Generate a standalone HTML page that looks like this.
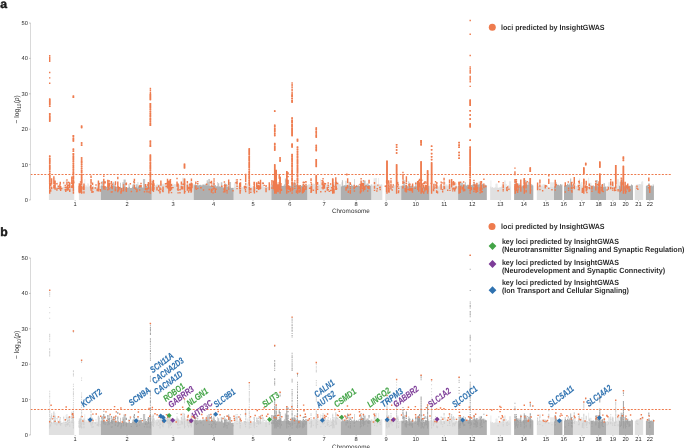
<!DOCTYPE html>
<html><head><meta charset="utf-8"><style>html,body{margin:0;padding:0;background:#fff;width:685px;height:448px;overflow:hidden}svg{display:block;will-change:transform;text-rendering:geometricPrecision;filter:blur(0.3px)}</style></head>
<body>
<svg width="685" height="448" viewBox="0 0 685 448">
<style>.tk{font:5.7px "Liberation Sans",sans-serif;fill:#2a2a2a}.lg{font:bold 7.5px "Liberation Sans",sans-serif;fill:#2c2c2c}.gl{font:italic bold 9px "Liberation Sans",sans-serif;stroke-width:0.12px}.pl{font:bold 12.2px "Liberation Sans",sans-serif;fill:#1a1a1a;stroke:#1a1a1a;stroke-width:0.45px}.ax{font:6.3px "Liberation Sans",sans-serif;fill:#333}</style>
<rect width="685" height="448" fill="#fff"/>
<path fill="#e9e9e9" d="M90.7 200v-21.35h0.7v21.35zM85.17 200v-14.75h1.6v14.75zM54.61 200v-21.96h0.7v21.96zM87.34 200v-16.71h0.7v16.71zM63.56 200v-17.45h0.7v17.45zM81.86 200v-15.76h1.2v15.76zM49.97 200v-18.6h1.2v18.6zM87.65 200v-16.58h1.2v16.58zM73.18 200v-13.95h1.2v13.95zM69.96 200v-14.26h1.6v14.26zM72.82 200v-14.8h0.7v14.8zM92.87 200v-15.13h0.7v15.13zM71.14 200v-17.31h2.2v17.31zM98.77 200v-14.25h0.7v14.25zM84.36 200v-20.72h0.9v20.72zM97.72 200v-18.15h2.2v18.15zM63.37 200v-19.31h0.9v19.31zM57.36 200v-18.37h0.7v18.37zM54.23 200v-15.65h1.2v15.65zM69.02 200v-16.78h0.7v16.78zM67.87 200v-17.95h1.2v17.95zM68.24 200v-18.9h0.9v18.9zM79.2 200v-15.41h2.2v15.41zM65.56 200v-20.16h0.9v20.16zM190.56 200v-19.12h0.9v19.12zM172.72 200v-16.63h0.7v16.63zM177.8 200v-15.65h1.2v15.65zM152.15 200v-20.86h1.6v20.86zM179.34 200v-14.84h2.2v14.84zM182.07 200v-22.28h2.2v22.28zM191.09 200v-14.4h1.6v14.4zM183.52 200v-16.39h0.9v16.39zM160.89 200v-16.75h0.9v16.75zM185.25 200v-15.16h1.6v15.16zM174.13 200v-15.97h0.9v15.97zM183.81 200v-15.54h0.9v15.54zM162.02 200v-16.02h1.6v16.02zM184.7 200v-16.82h1.2v16.82zM164.77 200v-16.74h1.6v16.74zM178.7 200v-15.2h1.2v15.2zM167.43 200v-17.97h0.7v17.97zM183.82 200v-15.39h0.9v15.39zM175.54 200v-14.14h0.7v14.14zM163.64 200v-14.46h2.2v14.46zM161.2 200v-14.51h1.6v14.51zM245.27 200v-18.28h1.2v18.28zM236.82 200v-16.36h0.7v16.36zM248.54 200v-15.19h2.2v15.19zM233.83 200v-15.99h0.9v15.99zM261.79 200v-17.99h0.7v17.99zM256.11 200v-16.91h2.2v16.91zM258.96 200v-16.88h0.7v16.88zM250.45 200v-14.64h0.9v14.64zM234.96 200v-20.96h0.7v20.96zM247.17 200v-16.39h0.9v16.39zM243.09 200v-13.96h1.2v13.96zM234.35 200v-18.1h2.2v18.1zM235.61 200v-17.6h2.2v17.6zM262.07 200v-18.03h1.6v18.03zM250.03 200v-16.54h0.7v16.54zM270.15 200v-15.7h0.9v15.7zM237.36 200v-14.5h1.6v14.5zM234.17 200v-16.89h0.7v16.89zM307.25 200v-14.53h1.2v14.53zM337.21 200v-14.45h0.7v14.45zM336.23 200v-18.29h2.2v18.29zM333.19 200v-18.01h2.2v18.01zM318.51 200v-16.04h0.7v16.04zM319.64 200v-14.07h0.9v14.07zM320.09 200v-20.69h0.9v20.69zM307.51 200v-14.21h1.6v14.21zM333.49 200v-16.47h0.7v16.47zM336.44 200v-16.14h2.2v16.14zM313.78 200v-14.64h0.9v14.64zM330.05 200v-15.46h1.2v15.46zM332.62 200v-18.05h0.9v18.05zM323.28 200v-15.94h0.7v15.94zM309.86 200v-15.39h1.2v15.39zM324.13 200v-14.75h0.7v14.75zM378.19 200v-21.88h0.9v21.88zM397.67 200v-17.64h0.7v17.64zM373.55 200v-21.87h2.2v21.87zM375.34 200v-22.01h1.6v22.01zM371.93 200v-15.37h0.7v15.37zM395.09 200v-15.49h1.6v15.49zM380.89 200v-15.88h0.7v15.88zM397 200v-19.45h1.6v19.45zM375.8 200v-15.17h1.2v15.17zM394.54 200v-15.27h1.2v15.27zM397.4 200v-16.17h0.7v16.17zM453.33 200v-15.69h1.6v15.69zM450.51 200v-19.44h0.9v19.44zM434.47 200v-17.04h1.2v17.04zM445.28 200v-18.1h0.7v18.1zM456.23 200v-17.09h0.7v17.09zM452 200v-17.8h1.2v17.8zM445.32 200v-14.3h0.7v14.3zM449.62 200v-16.25h1.6v16.25zM444.24 200v-14.21h0.7v14.21zM446.51 200v-14.96h0.9v14.96zM452.02 200v-18.07h0.7v18.07zM449.84 200v-16.56h1.2v16.56zM445.33 200v-15.85h2.2v15.85zM439.05 200v-14.01h0.7v14.01zM495.41 200v-16.3h2.2v16.3zM508.32 200v-14.37h2.2v14.37zM490.47 200v-19.53h0.9v19.53zM496.19 200v-16.54h0.9v16.54zM508.94 200v-18.74h2.2v18.74zM501.77 200v-16.16h0.9v16.16zM507.55 200v-15.07h1.6v15.07zM504.62 200v-15.9h2.2v15.9zM503.82 200v-14.73h0.9v14.73zM504.12 200v-19.59h1.6v19.59zM539.07 200v-17.72h0.9v17.72zM550.1 200v-17.75h2.2v17.75zM551.74 200v-16.71h1.6v16.71zM547.04 200v-14.28h0.9v14.28zM543.45 200v-16.1h2.2v16.1zM552.4 200v-17.72h2.2v17.72zM541.32 200v-15.55h2.2v15.55zM544.13 200v-15.43h1.6v15.43zM589.37 200v-17.15h2.2v17.15zM580 200v-16.54h1.6v16.54zM578.69 200v-16.22h0.7v16.22zM574.53 200v-16.79h1.2v16.79zM588.22 200v-22.16h0.9v22.16zM580.93 200v-17.94h1.6v17.94zM582.59 200v-14.23h2.2v14.23zM578.88 200v-21.62h1.2v21.62zM616.11 200v-13.94h2.2v13.94zM608.1 200v-17.81h2.2v17.81zM616.75 200v-20.64h2.2v20.64zM610.93 200v-16.19h0.7v16.19zM612.11 200v-14.59h0.7v14.59zM612.27 200v-17.52h1.6v17.52zM641.18 200v-16.58h1.6v16.58zM641.62 200v-18.67h1.6v18.67zM639.61 200v-15.23h2.2v15.23zM641.01 200v-17.8h1.6v17.8z"/>
<path fill="#e0e0e0" d="M48.9 200v-13.77h1.02v13.77zM49.9 200v-13.24h1.02v13.24zM50.9 200v-12.45h1.02v12.45zM51.9 200v-12.43h1.02v12.43zM52.9 200v-12.42h1.02v12.42zM53.9 200v-12.57h1.02v12.57zM54.9 200v-12.42h1.02v12.42zM55.9 200v-12.9h1.02v12.9zM56.9 200v-13.21h1.02v13.21zM57.9 200v-13.69h1.02v13.69zM58.9 200v-13.13h1.02v13.13zM59.9 200v-12.06h1.02v12.06zM60.9 200v-12.3h1.02v12.3zM61.9 200v-12.38h1.02v12.38zM62.9 200v-13.1h1.02v13.1zM63.9 200v-12.86h1.02v12.86zM64.9 200v-11.94h1.02v11.94zM65.9 200v-12.82h1.02v12.82zM66.9 200v-12.3h1.02v12.3zM67.9 200v-12.57h1.02v12.57zM68.9 200v-12.98h1.02v12.98zM69.9 200v-12.37h1.02v12.37zM70.9 200v-12.83h1.02v12.83zM71.9 200v-13.44h1.02v13.44zM72.9 200v-13.62h1.02v13.62zM78.9 200v-12.5h1.02v12.5zM79.9 200v-12.34h1.02v12.34zM80.9 200v-12.17h1.02v12.17zM81.9 200v-13.34h1.02v13.34zM82.9 200v-13.56h1.02v13.56zM83.9 200v-13.15h1.02v13.15zM84.9 200v-13.06h1.02v13.06zM85.9 200v-13.39h1.02v13.39zM86.9 200v-13.25h1.02v13.25zM87.9 200v-12.81h1.02v12.81zM88.9 200v-13.81h1.02v13.81zM89.9 200v-14.48h1.02v14.48zM90.9 200v-13.67h1.02v13.67zM91.9 200v-13.3h1.02v13.3zM92.9 200v-13.48h1.02v13.48zM93.9 200v-13h1.02v13zM94.9 200v-13.32h1.02v13.32zM95.9 200v-13.48h1.02v13.48zM96.9 200v-13.36h1.02v13.36zM97.9 200v-13.98h1.02v13.98zM98.9 200v-14.69h1.02v14.69zM99.9 200v-14.23h1.02v14.23zM151.6 200v-14.1h1.02v14.1zM152.6 200v-15.4h1.02v15.4zM153.6 200v-15.42h1.02v15.42zM154.6 200v-14.59h1.02v14.59zM155.6 200v-15.05h1.02v15.05zM156.6 200v-16.21h1.02v16.21zM157.6 200v-15.32h1.02v15.32zM158.6 200v-16.07h1.02v16.07zM159.6 200v-14.94h1.02v14.94zM160.6 200v-15.75h1.02v15.75zM161.6 200v-14.94h1.02v14.94zM162.6 200v-16.39h1.02v16.39zM163.6 200v-15.54h1.02v15.54zM164.6 200v-15.23h1.02v15.23zM165.6 200v-16.01h1.02v16.01zM166.6 200v-15.51h1.02v15.51zM167.6 200v-15.66h1.02v15.66zM168.6 200v-16.21h1.02v16.21zM169.6 200v-15.16h1.02v15.16zM170.6 200v-14.96h1.02v14.96zM171.6 200v-15.06h1.02v15.06zM172.6 200v-14.81h1.02v14.81zM173.6 200v-15.48h1.02v15.48zM174.6 200v-15.77h1.02v15.77zM175.6 200v-15.64h1.02v15.64zM176.6 200v-15.76h1.02v15.76zM177.6 200v-15.79h1.02v15.79zM178.6 200v-15.26h1.02v15.26zM179.6 200v-14.37h1.02v14.37zM180.6 200v-14.87h1.02v14.87zM181.6 200v-15.63h1.02v15.63zM182.6 200v-15.11h1.02v15.11zM183.6 200v-15.45h1.02v15.45zM184.6 200v-15.05h1.02v15.05zM185.6 200v-15.31h1.02v15.31zM186.6 200v-15.86h1.02v15.86zM187.6 200v-15.57h1.02v15.57zM188.6 200v-16.28h1.02v16.28zM189.6 200v-15.81h1.02v15.81zM190.6 200v-15.67h1.02v15.67zM191.6 200v-15.69h1.02v15.69zM192.6 200v-15.72h1.02v15.72zM193.6 200v-16.04h0.12v16.04zM233.6 200v-12.84h1.02v12.84zM234.6 200v-13.31h1.02v13.31zM235.6 200v-12.77h1.02v12.77zM236.6 200v-12.35h1.02v12.35zM237.6 200v-12.21h1.02v12.21zM238.6 200v-12.9h1.02v12.9zM239.6 200v-12.17h1.02v12.17zM240.6 200v-13.2h1.02v13.2zM241.6 200v-13.02h1.02v13.02zM242.6 200v-12.56h1.02v12.56zM243.6 200v-12.7h1.02v12.7zM244.6 200v-13.12h1.02v13.12zM245.6 200v-13.04h1.02v13.04zM246.6 200v-13.84h1.02v13.84zM247.6 200v-13.53h1.02v13.53zM248.6 200v-12.9h1.02v12.9zM249.6 200v-12.61h1.02v12.61zM250.6 200v-13.08h1.02v13.08zM251.6 200v-12.55h1.02v12.55zM252.6 200v-13.95h1.02v13.95zM253.6 200v-13.27h1.02v13.27zM254.6 200v-13.06h1.02v13.06zM255.6 200v-12.84h1.02v12.84zM256.6 200v-12.94h1.02v12.94zM257.6 200v-14.34h1.02v14.34zM258.6 200v-13.35h1.02v13.35zM259.6 200v-13.83h1.02v13.83zM260.6 200v-13.27h1.02v13.27zM261.6 200v-13.84h1.02v13.84zM262.6 200v-13.46h1.02v13.46zM263.6 200v-13.19h1.02v13.19zM264.6 200v-13.11h1.02v13.11zM265.6 200v-12.95h1.02v12.95zM266.6 200v-12.92h1.02v12.92zM267.6 200v-13.09h1.02v13.09zM268.6 200v-13.35h1.02v13.35zM269.6 200v-13.43h1.02v13.43zM270.6 200v-13.29h0.82v13.29zM307.2 200v-14.69h1.02v14.69zM308.2 200v-15.8h1.02v15.8zM309.2 200v-15.67h1.02v15.67zM310.2 200v-15.13h1.02v15.13zM311.2 200v-15.34h1.02v15.34zM312.2 200v-15.25h1.02v15.25zM313.2 200v-16.39h1.02v16.39zM314.2 200v-15.89h1.02v15.89zM315.2 200v-16h1.02v16zM316.2 200v-15.24h1.02v15.24zM317.2 200v-15.73h1.02v15.73zM318.2 200v-14.65h1.02v14.65zM319.2 200v-15.27h1.02v15.27zM320.2 200v-14.67h1.02v14.67zM321.2 200v-14.78h1.02v14.78zM322.2 200v-14.62h1.02v14.62zM323.2 200v-16.02h1.02v16.02zM324.2 200v-15.82h1.02v15.82zM325.2 200v-15.97h1.02v15.97zM326.2 200v-15.04h1.02v15.04zM327.2 200v-15.84h1.02v15.84zM328.2 200v-15.01h1.02v15.01zM329.2 200v-14.83h1.02v14.83zM330.2 200v-14.2h1.02v14.2zM331.2 200v-14.74h1.02v14.74zM332.2 200v-15.06h1.02v15.06zM333.2 200v-15.23h1.02v15.23zM334.2 200v-14.78h1.02v14.78zM335.2 200v-15.89h1.02v15.89zM336.2 200v-15.79h1.02v15.79zM337.2 200v-16.38h1.02v16.38zM338.2 200v-16.06h1.02v16.06zM339.2 200v-15.7h1.02v15.7zM340.2 200v-15.69h0.62v15.69zM371.3 200v-15.71h1.02v15.71zM372.3 200v-14.27h1.02v14.27zM373.3 200v-14.56h1.02v14.56zM374.3 200v-15.31h1.02v15.31zM375.3 200v-15.08h1.02v15.08zM376.3 200v-15.04h1.02v15.04zM377.3 200v-14.49h1.02v14.49zM378.3 200v-15h1.02v15zM379.3 200v-15.95h1.02v15.95zM380.3 200v-15.05h1.02v15.05zM381.3 200v-15.55h1.02v15.55zM385.3 200v-14.98h1.02v14.98zM386.3 200v-15.2h1.02v15.2zM387.3 200v-15.08h1.02v15.08zM388.3 200v-15.14h1.02v15.14zM389.3 200v-14.3h1.02v14.3zM390.3 200v-15.2h1.02v15.2zM391.3 200v-15.22h1.02v15.22zM392.3 200v-14.28h1.02v14.28zM393.3 200v-15.09h1.02v15.09zM394.3 200v-14.34h1.02v14.34zM395.3 200v-14.2h1.02v14.2zM396.3 200v-14.24h1.02v14.24zM397.3 200v-14.39h1.02v14.39zM398.3 200v-14.12h1.02v14.12zM399.3 200v-13.88h1.02v13.88zM400.3 200v-14.3h0.92v14.3zM429.3 200v-14.34h1.02v14.34zM430.3 200v-15.11h1.02v15.11zM431.3 200v-13.68h1.02v13.68zM432.3 200v-14.56h1.02v14.56zM433.3 200v-14.11h1.02v14.11zM434.3 200v-13.87h1.02v13.87zM435.3 200v-14.55h1.02v14.55zM436.3 200v-13.67h1.02v13.67zM437.3 200v-13.93h1.02v13.93zM438.3 200v-13.3h1.02v13.3zM439.3 200v-14.81h1.02v14.81zM440.3 200v-14.96h1.02v14.96zM441.3 200v-13.55h1.02v13.55zM442.3 200v-14.55h1.02v14.55zM443.3 200v-14.13h1.02v14.13zM444.3 200v-13.98h1.02v13.98zM445.3 200v-14.68h1.02v14.68zM446.3 200v-14.23h1.02v14.23zM447.3 200v-14.46h1.02v14.46zM448.3 200v-14.39h1.02v14.39zM449.3 200v-13.84h1.02v13.84zM450.3 200v-14.37h1.02v14.37zM451.3 200v-13.19h1.02v13.19zM452.3 200v-13.47h1.02v13.47zM453.3 200v-12.8h1.02v12.8zM454.3 200v-13.26h1.02v13.26zM455.3 200v-14.46h1.02v14.46zM456.3 200v-14h1.02v14zM457.3 200v-13.4h0.82v13.4zM490.2 200v-13.4h1.02v13.4zM491.2 200v-12.61h1.02v12.61zM492.2 200v-13.05h1.02v13.05zM493.2 200v-12.05h1.02v12.05zM494.2 200v-12.42h1.02v12.42zM495.2 200v-12.81h1.02v12.81zM496.2 200v-12.09h1.02v12.09zM497.2 200v-12.61h1.02v12.61zM498.2 200v-12.29h1.02v12.29zM499.2 200v-12.69h1.02v12.69zM500.2 200v-12.81h1.02v12.81zM501.2 200v-13.45h1.02v13.45zM502.2 200v-13.17h1.02v13.17zM503.2 200v-13.43h1.02v13.43zM504.2 200v-12.15h1.02v12.15zM505.2 200v-13.08h1.02v13.08zM506.2 200v-13.33h1.02v13.33zM507.2 200v-13.73h1.02v13.73zM508.2 200v-12.82h1.02v12.82zM509.2 200v-13.75h1.02v13.75zM510.2 200v-13.31h0.62v13.31zM536.8 200v-14.7h1.02v14.7zM537.8 200v-14.04h1.02v14.04zM538.8 200v-14.12h1.02v14.12zM539.8 200v-13.66h1.02v13.66zM540.8 200v-13.74h1.02v13.74zM541.8 200v-13.91h1.02v13.91zM542.8 200v-13.25h1.02v13.25zM543.8 200v-14.02h1.02v14.02zM544.8 200v-14.18h1.02v14.18zM545.8 200v-13.98h1.02v13.98zM546.8 200v-13.73h1.02v13.73zM547.8 200v-12.91h1.02v12.91zM548.8 200v-12.8h1.02v12.8zM549.8 200v-13.34h1.02v13.34zM550.8 200v-13.13h1.02v13.13zM551.8 200v-12.91h1.02v12.91zM552.8 200v-12.84h1.02v12.84zM553.8 200v-12.57h0.22v12.57zM572.9 200v-13.27h1.02v13.27zM573.9 200v-14.03h1.02v14.03zM574.9 200v-14.25h1.02v14.25zM575.9 200v-13.88h1.02v13.88zM576.9 200v-13.53h1.02v13.53zM577.9 200v-14.7h1.02v14.7zM578.9 200v-14.85h1.02v14.85zM579.9 200v-14.92h1.02v14.92zM580.9 200v-14.09h1.02v14.09zM581.9 200v-14.43h1.02v14.43zM582.9 200v-14.58h1.02v14.58zM583.9 200v-14.31h1.02v14.31zM584.9 200v-13.84h1.02v13.84zM585.9 200v-14.18h1.02v14.18zM586.9 200v-13.93h1.02v13.93zM587.9 200v-13.11h1.02v13.11zM588.9 200v-13.64h1.02v13.64zM589.9 200v-13.44h0.52v13.44zM606 200v-13.41h1.02v13.41zM607 200v-13.95h1.02v13.95zM608 200v-13.24h1.02v13.24zM609 200v-13.41h1.02v13.41zM610 200v-14.77h1.02v14.77zM611 200v-13.41h1.02v13.41zM612 200v-13.94h1.02v13.94zM613 200v-14.49h1.02v14.49zM614 200v-13.5h1.02v13.5zM615 200v-12.96h1.02v12.96zM616 200v-14.34h1.02v14.34zM617 200v-13.42h1.02v13.42zM618 200v-14.76h1.02v14.76zM634.8 200v-14.32h1.02v14.32zM635.8 200v-15.22h1.02v15.22zM636.8 200v-15.43h1.02v15.43zM637.8 200v-15.56h1.02v15.56zM638.8 200v-16.03h1.02v16.03zM639.8 200v-15.66h1.02v15.66zM640.8 200v-15.85h1.02v15.85zM641.8 200v-15.18h1.02v15.18zM642.8 200v-15.1h0.12v15.1z"/>
<path fill="#c4c4c4" d="M128.42 200v-15.83h1.2v15.83zM139.34 200v-15.34h2.2v15.34zM132.84 200v-15.04h0.9v15.04zM138.41 200v-14.52h2.2v14.52zM113.2 200v-15.41h1.2v15.41zM112.64 200v-18.2h0.9v18.2zM150.35 200v-18.8h0.9v18.8zM120 200v-17.18h0.9v17.18zM122.52 200v-18h0.9v18zM114.86 200v-13.86h1.6v13.86zM143.36 200v-16.11h1.6v16.11zM132.33 200v-14.99h1.6v14.99zM137.59 200v-17.98h0.7v17.98zM122.27 200v-16.78h2.2v16.78zM142.95 200v-21.05h2.2v21.05zM132.78 200v-15h1.6v15zM135.72 200v-15.65h1.6v15.65zM136.32 200v-15.76h0.9v15.76zM123.52 200v-20.43h2.2v20.43zM133.76 200v-19.69h0.9v19.69zM101.43 200v-18.82h1.6v18.82zM113.39 200v-17.4h0.9v17.4zM147.65 200v-17.7h2.2v17.7zM123.6 200v-16.16h0.9v16.16zM132.67 200v-15.69h1.2v15.69zM228.87 200v-17.91h2.2v17.91zM217.37 200v-17.92h0.7v17.92zM224.36 200v-16.99h1.2v16.99zM214.35 200v-14.34h1.6v14.34zM198.31 200v-14.45h1.6v14.45zM212.88 200v-17.97h0.7v17.97zM220.95 200v-16.29h0.9v16.29zM227.27 200v-15.28h0.7v15.28zM220.77 200v-17.67h1.6v17.67zM208.29 200v-21.04h1.6v21.04zM200.72 200v-13.94h1.2v13.94zM217.42 200v-14.24h1.2v14.24zM212.53 200v-17.11h0.9v17.11zM218.02 200v-16.84h1.2v16.84zM206.98 200v-18h2.2v18zM204.75 200v-16.36h1.2v16.36zM225.86 200v-16.08h1.2v16.08zM206.68 200v-19.75h1.2v19.75zM201.62 200v-15.33h1.6v15.33zM305.74 200v-14.36h0.7v14.36zM287.84 200v-14.92h1.2v14.92zM296.93 200v-19.83h0.9v19.83zM297.4 200v-14.19h0.9v14.19zM293.28 200v-18.1h1.6v18.1zM280.24 200v-13.86h0.7v13.86zM271.91 200v-15.24h2.2v15.24zM296.78 200v-21.66h0.9v21.66zM292.59 200v-16.45h1.2v16.45zM286.67 200v-17.48h0.9v17.48zM284.04 200v-15.73h0.9v15.73zM284.82 200v-21.46h1.6v21.46zM291.13 200v-16.67h1.2v16.67zM294.05 200v-16.59h2.2v16.59zM305.42 200v-15.23h0.9v15.23zM286.31 200v-16.96h0.9v16.96zM292.34 200v-15.11h0.9v15.11zM366.49 200v-16.42h2.2v16.42zM348.52 200v-18.16h1.2v18.16zM363.43 200v-19.4h2.2v19.4zM341.92 200v-19.88h0.9v19.88zM341.61 200v-17.81h0.7v17.81zM354.32 200v-20.9h0.7v20.9zM368 200v-16.4h0.7v16.4zM359.7 200v-15.87h2.2v15.87zM345.51 200v-19.27h0.9v19.27zM341.94 200v-18.64h1.2v18.64zM357.11 200v-14.02h0.7v14.02zM364 200v-14.47h1.6v14.47zM363.07 200v-15.18h0.9v15.18zM358.25 200v-15.52h0.7v15.52zM352.31 200v-14.58h1.2v14.58zM418.3 200v-17.65h0.9v17.65zM404.43 200v-20.09h0.9v20.09zM408.29 200v-18.79h0.9v18.79zM409.04 200v-17.15h0.9v17.15zM409.15 200v-16.14h0.7v16.14zM415.04 200v-17.64h1.6v17.64zM415.47 200v-13.99h0.9v13.99zM412.28 200v-14.44h1.2v14.44zM406.08 200v-14.71h0.9v14.71zM403.35 200v-21.25h0.7v21.25zM421.83 200v-16.62h0.9v16.62zM420.38 200v-14.74h0.9v14.74zM402.98 200v-17.13h2.2v17.13zM402.7 200v-17.68h1.2v17.68zM461.51 200v-17.31h1.6v17.31zM461.15 200v-14.44h0.7v14.44zM474.49 200v-16.44h0.9v16.44zM478.78 200v-18.48h0.9v18.48zM475.69 200v-16.58h1.6v16.58zM459.1 200v-15.36h0.7v15.36zM464.76 200v-17.69h1.2v17.69zM473.73 200v-17.71h1.2v17.71zM459.58 200v-16.94h2.2v16.94zM467.89 200v-13.86h1.6v13.86zM461.12 200v-15.8h0.9v15.8zM472.08 200v-15.74h0.7v15.74zM469.1 200v-17.53h1.6v17.53zM482.6 200v-16.76h0.7v16.76zM522.8 200v-15.34h1.2v15.34zM517.6 200v-16.5h2.2v16.5zM514.41 200v-18.19h1.2v18.19zM520.03 200v-15.12h1.2v15.12zM531.98 200v-13.91h1.2v13.91zM524.12 200v-20.12h2.2v20.12zM515.32 200v-15.44h1.6v15.44zM527.93 200v-18.22h2.2v18.22zM527.5 200v-16.88h0.9v16.88zM560.32 200v-15.58h2.2v15.58zM559.76 200v-15.19h1.6v15.19zM568.37 200v-16.48h1.6v16.48zM555.57 200v-17.69h1.2v17.69zM569 200v-15.77h1.2v15.77zM570.3 200v-14.99h0.7v14.99zM570.04 200v-21.42h1.2v21.42zM597.88 200v-15.16h0.7v15.16zM595.41 200v-20.05h2.2v20.05zM592.68 200v-14.76h1.2v14.76zM603.44 200v-16.71h1.6v16.71zM599.21 200v-16.71h1.2v16.71zM600.95 200v-13.82h1.6v13.82zM600.78 200v-15.21h2.2v15.21zM619.81 200v-16.47h0.7v16.47zM620.87 200v-14.59h0.9v14.59zM622.47 200v-22.1h0.7v22.1zM619.82 200v-15.58h0.9v15.58zM619.71 200v-18.22h1.6v18.22zM624.72 200v-14.83h2.2v14.83zM621.07 200v-19.63h2.2v19.63zM646.5 200v-14.66h0.9v14.66zM652.6 200v-15.48h1.2v15.48zM648.21 200v-16.8h1.6v16.8z"/>
<path fill="#afafaf" d="M100.9 200v-14.43h1.02v14.43zM101.9 200v-13.78h1.02v13.78zM102.9 200v-13.62h1.02v13.62zM103.9 200v-13.76h1.02v13.76zM104.9 200v-13.52h1.02v13.52zM105.9 200v-13.32h1.02v13.32zM106.9 200v-13.41h1.02v13.41zM107.9 200v-13.98h1.02v13.98zM108.9 200v-13.89h1.02v13.89zM109.9 200v-13.24h1.02v13.24zM110.9 200v-14.6h1.02v14.6zM111.9 200v-14.95h1.02v14.95zM112.9 200v-14.29h1.02v14.29zM113.9 200v-14.29h1.02v14.29zM114.9 200v-13.11h1.02v13.11zM115.9 200v-13h1.02v13zM116.9 200v-12.71h1.02v12.71zM117.9 200v-12.42h1.02v12.42zM118.9 200v-12.39h1.02v12.39zM119.9 200v-13.1h1.02v13.1zM120.9 200v-12.17h1.02v12.17zM121.9 200v-12.35h1.02v12.35zM122.9 200v-12.03h1.02v12.03zM123.9 200v-13.56h1.02v13.56zM124.9 200v-12.81h1.02v12.81zM125.9 200v-12h1.02v12zM126.9 200v-12.23h1.02v12.23zM127.9 200v-12.37h1.02v12.37zM128.9 200v-13.21h1.02v13.21zM129.9 200v-12.09h1.02v12.09zM130.9 200v-11.96h1.02v11.96zM131.9 200v-13.33h1.02v13.33zM132.9 200v-13.24h1.02v13.24zM133.9 200v-12.57h1.02v12.57zM134.9 200v-12.95h1.02v12.95zM135.9 200v-12.99h1.02v12.99zM136.9 200v-12.17h1.02v12.17zM137.9 200v-13.52h1.02v13.52zM138.9 200v-13.56h1.02v13.56zM139.9 200v-13.74h1.02v13.74zM140.9 200v-13.19h1.02v13.19zM141.9 200v-12.38h1.02v12.38zM142.9 200v-12.33h1.02v12.33zM143.9 200v-12.84h1.02v12.84zM144.9 200v-12.88h1.02v12.88zM145.9 200v-14.02h1.02v14.02zM146.9 200v-13.52h1.02v13.52zM147.9 200v-13.09h1.02v13.09zM148.9 200v-12.8h1.02v12.8zM149.9 200v-13.89h1.02v13.89zM150.9 200v-13.58h0.72v13.58zM193.7 200v-14.86h1.02v14.86zM194.7 200v-15.88h1.02v15.88zM195.7 200v-15.03h1.02v15.03zM196.7 200v-15.14h1.02v15.14zM197.7 200v-14.49h1.02v14.49zM198.7 200v-14.73h1.02v14.73zM199.7 200v-15.3h1.02v15.3zM200.7 200v-14.75h1.02v14.75zM201.7 200v-14.07h1.02v14.07zM202.7 200v-15.57h1.02v15.57zM203.7 200v-15.31h1.02v15.31zM204.7 200v-14.56h1.02v14.56zM205.7 200v-15.47h1.02v15.47zM206.7 200v-14.61h1.02v14.61zM207.7 200v-14.49h1.02v14.49zM208.7 200v-14.21h1.02v14.21zM209.7 200v-13.97h1.02v13.97zM210.7 200v-14.61h1.02v14.61zM211.7 200v-14.05h1.02v14.05zM212.7 200v-14.41h1.02v14.41zM213.7 200v-14.71h1.02v14.71zM214.7 200v-14.94h1.02v14.94zM215.7 200v-13.6h1.02v13.6zM216.7 200v-13.94h1.02v13.94zM217.7 200v-12.82h1.02v12.82zM218.7 200v-13.86h1.02v13.86zM219.7 200v-13.21h1.02v13.21zM220.7 200v-13.85h1.02v13.85zM221.7 200v-13.6h1.02v13.6zM222.7 200v-12.34h1.02v12.34zM223.7 200v-13.02h1.02v13.02zM224.7 200v-13.38h1.02v13.38zM225.7 200v-13.3h1.02v13.3zM226.7 200v-13.07h1.02v13.07zM227.7 200v-13.08h1.02v13.08zM228.7 200v-12.34h1.02v12.34zM229.7 200v-13.22h1.02v13.22zM230.7 200v-12.04h1.02v12.04zM231.7 200v-12.22h1.02v12.22zM232.7 200v-12.09h0.92v12.09zM271.4 200v-13.77h1.02v13.77zM272.4 200v-14.66h1.02v14.66zM273.4 200v-14.54h1.02v14.54zM274.4 200v-14.58h1.02v14.58zM275.4 200v-15.04h1.02v15.04zM276.4 200v-14.33h1.02v14.33zM277.4 200v-14.77h1.02v14.77zM278.4 200v-15.02h1.02v15.02zM279.4 200v-15.18h1.02v15.18zM280.4 200v-15.06h1.02v15.06zM281.4 200v-13.89h1.02v13.89zM282.4 200v-14.04h1.02v14.04zM283.4 200v-14.38h1.02v14.38zM284.4 200v-14.14h1.02v14.14zM285.4 200v-14.32h1.02v14.32zM286.4 200v-13.35h1.02v13.35zM287.4 200v-14.66h1.02v14.66zM288.4 200v-14.36h1.02v14.36zM289.4 200v-13.83h1.02v13.83zM290.4 200v-14.29h1.02v14.29zM291.4 200v-13.95h1.02v13.95zM292.4 200v-14.06h1.02v14.06zM293.4 200v-15.36h1.02v15.36zM294.4 200v-14.51h1.02v14.51zM295.4 200v-14.92h1.02v14.92zM296.4 200v-15.05h1.02v15.05zM297.4 200v-14.41h1.02v14.41zM298.4 200v-14.36h1.02v14.36zM299.4 200v-14.64h1.02v14.64zM300.4 200v-14.28h1.02v14.28zM301.4 200v-14.27h1.02v14.27zM302.4 200v-15.02h1.02v15.02zM303.4 200v-14.6h1.02v14.6zM304.4 200v-14.86h1.02v14.86zM305.4 200v-14.34h1.02v14.34zM306.4 200v-14.79h0.82v14.79zM340.8 200v-13.6h1.02v13.6zM341.8 200v-14.07h1.02v14.07zM342.8 200v-14.35h1.02v14.35zM343.8 200v-14.74h1.02v14.74zM344.8 200v-14.47h1.02v14.47zM345.8 200v-14.66h1.02v14.66zM346.8 200v-14.84h1.02v14.84zM347.8 200v-14.23h1.02v14.23zM348.8 200v-15.03h1.02v15.03zM349.8 200v-14.06h1.02v14.06zM350.8 200v-15.5h1.02v15.5zM351.8 200v-14.25h1.02v14.25zM352.8 200v-13.92h1.02v13.92zM353.8 200v-13.78h1.02v13.78zM354.8 200v-13.8h1.02v13.8zM355.8 200v-14.75h1.02v14.75zM356.8 200v-14.29h1.02v14.29zM357.8 200v-14.37h1.02v14.37zM358.8 200v-14h1.02v14zM359.8 200v-13.55h1.02v13.55zM360.8 200v-13.73h1.02v13.73zM361.8 200v-14.44h1.02v14.44zM362.8 200v-14.17h1.02v14.17zM363.8 200v-14.02h1.02v14.02zM364.8 200v-14.21h1.02v14.21zM365.8 200v-15.17h1.02v15.17zM366.8 200v-14.31h1.02v14.31zM367.8 200v-14.89h1.02v14.89zM368.8 200v-14.89h1.02v14.89zM369.8 200v-14.3h1.02v14.3zM370.8 200v-15.52h0.52v15.52zM401.2 200v-14.22h1.02v14.22zM402.2 200v-13.46h1.02v13.46zM403.2 200v-14.01h1.02v14.01zM404.2 200v-14.17h1.02v14.17zM405.2 200v-14.69h1.02v14.69zM406.2 200v-14.78h1.02v14.78zM407.2 200v-13.7h1.02v13.7zM408.2 200v-13.79h1.02v13.79zM409.2 200v-14.68h1.02v14.68zM410.2 200v-13.59h1.02v13.59zM411.2 200v-14.17h1.02v14.17zM412.2 200v-12.56h1.02v12.56zM413.2 200v-12.67h1.02v12.67zM414.2 200v-13.7h1.02v13.7zM415.2 200v-14.06h1.02v14.06zM416.2 200v-13.48h1.02v13.48zM417.2 200v-14.07h1.02v14.07zM418.2 200v-13h1.02v13zM419.2 200v-13.63h1.02v13.63zM420.2 200v-13.46h1.02v13.46zM421.2 200v-12.71h1.02v12.71zM422.2 200v-13.02h1.02v13.02zM423.2 200v-13.09h1.02v13.09zM424.2 200v-13.6h1.02v13.6zM425.2 200v-14.35h1.02v14.35zM426.2 200v-14.07h1.02v14.07zM427.2 200v-13.74h1.02v13.74zM428.2 200v-14.27h1.02v14.27zM429.2 200v-13.22h0.12v13.22zM458.1 200v-14.26h1.02v14.26zM459.1 200v-13.99h1.02v13.99zM460.1 200v-14.46h1.02v14.46zM461.1 200v-14.91h1.02v14.91zM462.1 200v-14.03h1.02v14.03zM463.1 200v-14.56h1.02v14.56zM464.1 200v-14.73h1.02v14.73zM465.1 200v-14.69h1.02v14.69zM466.1 200v-14.54h1.02v14.54zM467.1 200v-15.15h1.02v15.15zM468.1 200v-14.42h1.02v14.42zM469.1 200v-15.28h1.02v15.28zM470.1 200v-14.21h1.02v14.21zM471.1 200v-15.07h1.02v15.07zM472.1 200v-14.7h1.02v14.7zM473.1 200v-15.7h1.02v15.7zM474.1 200v-16.12h1.02v16.12zM475.1 200v-14.85h1.02v14.85zM476.1 200v-14.38h1.02v14.38zM477.1 200v-15.34h1.02v15.34zM478.1 200v-15.41h1.02v15.41zM479.1 200v-15.68h1.02v15.68zM480.1 200v-15.94h1.02v15.94zM481.1 200v-15.19h1.02v15.19zM482.1 200v-15.92h1.02v15.92zM483.1 200v-15.33h1.02v15.33zM484.1 200v-14.79h1.02v14.79zM485.1 200v-15.14h1.02v15.14zM486.1 200v-14.71h0.72v14.71zM514.2 200v-14.27h1.02v14.27zM515.2 200v-13.66h1.02v13.66zM516.2 200v-14.59h1.02v14.59zM517.2 200v-13.64h1.02v13.64zM518.2 200v-14.57h1.02v14.57zM519.2 200v-13.12h1.02v13.12zM520.2 200v-14.7h1.02v14.7zM521.2 200v-13.38h1.02v13.38zM522.2 200v-14.22h1.02v14.22zM523.2 200v-14.89h1.02v14.89zM524.2 200v-14.52h1.02v14.52zM525.2 200v-14.85h1.02v14.85zM526.2 200v-15.65h1.02v15.65zM527.2 200v-14.99h1.02v14.99zM528.2 200v-15.06h1.02v15.06zM529.2 200v-15.05h1.02v15.05zM530.2 200v-14.53h1.02v14.53zM531.2 200v-15.65h1.02v15.65zM532.2 200v-14.78h1.02v14.78zM554 200v-13.81h1.02v13.81zM555 200v-15.33h1.02v15.33zM556 200v-15.27h1.02v15.27zM557 200v-15.25h1.02v15.25zM558 200v-15.21h1.02v15.21zM559 200v-14.44h1.02v14.44zM560 200v-15.77h1.02v15.77zM561 200v-14.58h1.02v14.58zM564 200v-14.52h1.02v14.52zM565 200v-15.03h1.02v15.03zM566 200v-15.11h1.02v15.11zM567 200v-16.21h1.02v16.21zM568 200v-15.03h1.02v15.03zM569 200v-15.12h1.02v15.12zM570 200v-14.53h1.02v14.53zM571 200v-15.31h1.02v15.31zM572 200v-15.4h0.92v15.4zM590.4 200v-14.16h1.02v14.16zM591.4 200v-14h1.02v14zM592.4 200v-14.05h1.02v14.05zM593.4 200v-13.72h1.02v13.72zM594.4 200v-13.8h1.02v13.8zM595.4 200v-13.34h1.02v13.34zM596.4 200v-13.83h1.02v13.83zM597.4 200v-14.18h1.02v14.18zM598.4 200v-12.84h1.02v12.84zM599.4 200v-13.19h1.02v13.19zM600.4 200v-13.71h1.02v13.71zM601.4 200v-12.89h1.02v12.89zM602.4 200v-13.02h1.02v13.02zM603.4 200v-12.65h1.02v12.65zM604.4 200v-12.91h1.02v12.91zM605.4 200v-13.69h0.62v13.69zM619 200v-14.24h1.02v14.24zM620 200v-13.51h1.02v13.51zM621 200v-13.19h1.02v13.19zM622 200v-14.06h1.02v14.06zM623 200v-14.36h1.02v14.36zM624 200v-13.72h1.02v13.72zM625 200v-14h1.02v14zM626 200v-14.37h1.02v14.37zM627 200v-14.34h1.02v14.34zM628 200v-14.14h1.02v14.14zM629 200v-14.17h1.02v14.17zM630 200v-14.28h1.02v14.28zM631 200v-15.49h1.02v15.49zM632 200v-14.83h1.02v14.83zM645.9 200v-13.92h1.02v13.92zM646.9 200v-14.86h1.02v14.86zM647.9 200v-13.61h1.02v13.61zM648.9 200v-13.07h1.02v13.07zM649.9 200v-14.07h1.02v14.07zM650.9 200v-14.39h1.02v14.39zM651.9 200v-13.81h1.02v13.81zM652.9 200v-14.01h0.92v14.01z"/>
<path fill="#ee7b4e" d="M97.7 190.16h1.44v1.44h-1.44zM97.7 189.02h1.44v1.44h-1.44zM97.7 187.02h1.44v1.44h-1.44zM97.7 185.04h1.44v1.44h-1.44zM97.7 183.69h1.44v1.44h-1.44zM97.7 182.55h1.44v1.44h-1.44zM97.7 181.54h1.44v1.44h-1.44zM97.7 180.56h1.44v1.44h-1.44zM78.3 190.87h1.44v1.44h-1.44zM78.3 189.59h1.44v1.44h-1.44zM78.3 188.1h1.44v1.44h-1.44zM78.3 186.97h1.44v1.44h-1.44zM78.3 185.78h1.44v1.44h-1.44zM83.25 192.04h1.44v1.44h-1.44zM83.25 191.17h1.44v1.44h-1.44zM83.25 188.92h1.44v1.44h-1.44zM83.25 186.61h1.44v1.44h-1.44zM83.25 185.72h1.44v1.44h-1.44zM83.25 184.35h1.44v1.44h-1.44zM83.25 183.38h1.44v1.44h-1.44zM69.03 190.54h1.44v1.44h-1.44zM69.03 189.29h1.44v1.44h-1.44zM69.03 186.76h1.44v1.44h-1.44zM69.03 185.47h1.44v1.44h-1.44zM69.03 184.6h1.44v1.44h-1.44zM69.03 183.46h1.44v1.44h-1.44zM69.03 182.35h1.44v1.44h-1.44zM79.73 191.31h1.44v1.44h-1.44zM79.73 190.19h1.44v1.44h-1.44zM79.73 189.24h1.44v1.44h-1.44zM79.73 188.04h1.44v1.44h-1.44zM79.73 186.59h1.44v1.44h-1.44zM79.73 185.59h1.44v1.44h-1.44zM79.73 184.41h1.44v1.44h-1.44zM79.73 183.14h1.44v1.44h-1.44zM54.39 188.23h1.44v1.44h-1.44zM54.39 187.01h1.44v1.44h-1.44zM54.39 185.54h1.44v1.44h-1.44zM54.39 184.66h1.44v1.44h-1.44zM54.39 183.32h1.44v1.44h-1.44zM54.39 181.89h1.44v1.44h-1.44zM54.39 180.56h1.44v1.44h-1.44zM59.94 189.57h1.44v1.44h-1.44zM59.94 188.5h1.44v1.44h-1.44zM59.94 187.21h1.44v1.44h-1.44zM59.94 185.96h1.44v1.44h-1.44zM91.85 188.15h1.44v1.44h-1.44zM91.85 186.77h1.44v1.44h-1.44zM91.85 183.45h1.44v1.44h-1.44zM91.85 182.49h1.44v1.44h-1.44zM81.14 191.78h1.44v1.44h-1.44zM81.14 187.93h1.44v1.44h-1.44zM81.14 186.99h1.44v1.44h-1.44zM96.68 188.72h1.44v1.44h-1.44zM50.89 187.48h1.44v1.44h-1.44zM50.89 186.53h1.44v1.44h-1.44zM50.89 182.96h1.44v1.44h-1.44zM50.89 181.8h1.44v1.44h-1.44zM50.89 180.74h1.44v1.44h-1.44zM50.89 179.72h1.44v1.44h-1.44zM50.89 178.27h1.44v1.44h-1.44zM65.09 190.52h1.44v1.44h-1.44zM65.09 189.2h1.44v1.44h-1.44zM49.97 190.32h1.44v1.44h-1.44zM49.97 189.13h1.44v1.44h-1.44zM64.51 189.06h1.44v1.44h-1.44zM64.51 186.63h1.44v1.44h-1.44zM64.51 184.7h1.44v1.44h-1.44zM99.67 190.27h1.44v1.44h-1.44zM99.67 188.95h1.44v1.44h-1.44zM80.63 191.75h1.44v1.44h-1.44zM80.63 190.64h1.44v1.44h-1.44zM80.63 189.25h1.44v1.44h-1.44zM80.63 188.26h1.44v1.44h-1.44zM79.83 186.95h1.44v1.44h-1.44zM79.83 184.68h1.44v1.44h-1.44zM79.83 183.71h1.44v1.44h-1.44zM79.83 181.26h1.44v1.44h-1.44zM72.59 189.48h1.44v1.44h-1.44zM72.59 187.13h1.44v1.44h-1.44zM72.59 186.22h1.44v1.44h-1.44zM72.59 184.91h1.44v1.44h-1.44zM72.59 183.65h1.44v1.44h-1.44zM67.48 188.84h1.44v1.44h-1.44zM67.48 187.58h1.44v1.44h-1.44zM67.48 186.59h1.44v1.44h-1.44zM56.17 189.27h1.44v1.44h-1.44zM56.17 188.27h1.44v1.44h-1.44zM56.17 183.08h1.44v1.44h-1.44zM82.86 188.54h1.44v1.44h-1.44zM82.86 187.24h1.44v1.44h-1.44zM82.86 185.82h1.44v1.44h-1.44zM83.33 188.02h1.44v1.44h-1.44zM83.33 186.64h1.44v1.44h-1.44zM83.33 185.39h1.44v1.44h-1.44zM72.14 186.43h1.44v1.44h-1.44zM72.14 184.45h1.44v1.44h-1.44zM72.14 182.99h1.44v1.44h-1.44zM53.15 186.95h1.44v1.44h-1.44zM53.15 185.87h1.44v1.44h-1.44zM53.15 184.51h1.44v1.44h-1.44zM53.15 182.65h1.44v1.44h-1.44zM53.15 181.47h1.44v1.44h-1.44zM53.15 180.3h1.44v1.44h-1.44zM53.15 179.23h1.44v1.44h-1.44zM53.15 178.17h1.44v1.44h-1.44zM53.15 177.3h1.44v1.44h-1.44zM53.15 176.3h1.44v1.44h-1.44zM71.11 186.63h1.44v1.44h-1.44zM71.11 185.35h1.44v1.44h-1.44zM71.11 182.64h1.44v1.44h-1.44zM71.11 181.62h1.44v1.44h-1.44zM71.11 180.76h1.44v1.44h-1.44zM71.11 179.6h1.44v1.44h-1.44zM71.11 178.73h1.44v1.44h-1.44zM71.11 177.83h1.44v1.44h-1.44zM71.11 176.57h1.44v1.44h-1.44zM98.02 188.63h1.44v1.44h-1.44zM98.02 187.45h1.44v1.44h-1.44zM98.02 186.26h1.44v1.44h-1.44zM98.02 185.33h1.44v1.44h-1.44zM98.02 184.35h1.44v1.44h-1.44zM98.02 183.03h1.44v1.44h-1.44zM96.49 189.77h1.44v1.44h-1.44zM96.49 188.53h1.44v1.44h-1.44zM66.88 189.31h1.44v1.44h-1.44zM66.88 187.87h1.44v1.44h-1.44zM66.88 185.84h1.44v1.44h-1.44zM66.88 184.93h1.44v1.44h-1.44zM97.79 189.21h1.44v1.44h-1.44zM97.79 188.15h1.44v1.44h-1.44zM97.79 186.87h1.44v1.44h-1.44zM97.79 185.53h1.44v1.44h-1.44zM89.95 186.91h1.44v1.44h-1.44zM89.95 185.63h1.44v1.44h-1.44zM89.95 184.53h1.44v1.44h-1.44zM78.61 191.74h1.44v1.44h-1.44zM78.61 190.47h1.44v1.44h-1.44zM78.61 188.13h1.44v1.44h-1.44zM78.61 187.09h1.44v1.44h-1.44zM78.61 185.94h1.44v1.44h-1.44zM78.61 184.65h1.44v1.44h-1.44zM78.61 183.22h1.44v1.44h-1.44zM57.62 187.47h1.44v1.44h-1.44zM57.62 185.59h1.44v1.44h-1.44zM90.31 189.29h1.44v1.44h-1.44zM90.31 188.44h1.44v1.44h-1.44zM90.31 187.57h1.44v1.44h-1.44zM90.31 185.01h1.44v1.44h-1.44zM90.31 182.25h1.44v1.44h-1.44zM90.31 181.34h1.44v1.44h-1.44zM90.31 180h1.44v1.44h-1.44zM90.31 178.89h1.44v1.44h-1.44zM90.31 176.44h1.44v1.44h-1.44zM90.31 175.39h1.44v1.44h-1.44zM91.26 191.67h1.44v1.44h-1.44zM91.26 190.28h1.44v1.44h-1.44zM66.23 188.7h1.44v1.44h-1.44zM66.23 186.24h1.44v1.44h-1.44zM66.23 183.83h1.44v1.44h-1.44zM66.23 182.63h1.44v1.44h-1.44zM66.23 181.42h1.44v1.44h-1.44zM66.23 179.22h1.44v1.44h-1.44zM89.95 187.02h1.44v1.44h-1.44zM89.95 185.55h1.44v1.44h-1.44zM59.13 188.15h1.44v1.44h-1.44zM59.13 186.73h1.44v1.44h-1.44zM59.13 185.33h1.44v1.44h-1.44zM59.13 184.14h1.44v1.44h-1.44zM71.2 182.36h1.44v1.44h-1.44zM59.55 181.8h1.44v1.44h-1.44zM94.63 187.36h1.44v1.44h-1.44zM59.5 183.1h1.44v1.44h-1.44zM50.03 184.48h1.44v1.44h-1.44zM49.47 182.92h1.44v1.44h-1.44zM95.28 184.33h1.44v1.44h-1.44zM66.56 189.07h1.44v1.44h-1.44zM67.86 181.86h1.44v1.44h-1.44zM67.83 184.51h1.44v1.44h-1.44zM92.56 191.17h1.44v1.44h-1.44zM49.74 183.96h1.44v1.44h-1.44zM61.01 187.73h1.44v1.44h-1.44zM65.31 186.97h1.44v1.44h-1.44zM62.89 182.15h1.44v1.44h-1.44zM98.73 183.09h1.44v1.44h-1.44zM73.03 181.57h1.44v1.44h-1.44zM138.91 186.3h1.44v1.44h-1.44zM138.91 185.29h1.44v1.44h-1.44zM148.23 191.35h1.44v1.44h-1.44zM122.5 190.09h1.44v1.44h-1.44zM125.66 190.56h1.44v1.44h-1.44zM125.66 189.45h1.44v1.44h-1.44zM125.66 188.18h1.44v1.44h-1.44zM125.66 187.11h1.44v1.44h-1.44zM125.66 183.7h1.44v1.44h-1.44zM125.66 182.49h1.44v1.44h-1.44zM103.08 187.49h1.44v1.44h-1.44zM103.08 185.31h1.44v1.44h-1.44zM103.08 184.06h1.44v1.44h-1.44zM103.08 182.58h1.44v1.44h-1.44zM103.08 181.19h1.44v1.44h-1.44zM103.08 180.29h1.44v1.44h-1.44zM103.08 178.9h1.44v1.44h-1.44zM103.08 175.59h1.44v1.44h-1.44zM103.06 188.08h1.44v1.44h-1.44zM103.06 187.21h1.44v1.44h-1.44zM103.06 186.18h1.44v1.44h-1.44zM103.06 185.07h1.44v1.44h-1.44zM103.06 182.62h1.44v1.44h-1.44zM103.06 180.19h1.44v1.44h-1.44zM103.06 178.83h1.44v1.44h-1.44zM149.82 188.63h1.44v1.44h-1.44zM149.82 184.8h1.44v1.44h-1.44zM149.82 183.6h1.44v1.44h-1.44zM149.82 182.46h1.44v1.44h-1.44zM149.82 181.32h1.44v1.44h-1.44zM149.82 180.17h1.44v1.44h-1.44zM117.7 189.46h1.44v1.44h-1.44zM117.7 188.06h1.44v1.44h-1.44zM117.7 187.17h1.44v1.44h-1.44zM117.7 186.15h1.44v1.44h-1.44zM133.69 187.32h1.44v1.44h-1.44zM133.69 185.92h1.44v1.44h-1.44zM133.69 184.7h1.44v1.44h-1.44zM133.69 181.88h1.44v1.44h-1.44zM133.69 179.82h1.44v1.44h-1.44zM133.69 178.87h1.44v1.44h-1.44zM147.76 187.71h1.44v1.44h-1.44zM147.76 186.63h1.44v1.44h-1.44zM147.76 185.5h1.44v1.44h-1.44zM147.76 184.21h1.44v1.44h-1.44zM147.76 183.12h1.44v1.44h-1.44zM147.76 181.94h1.44v1.44h-1.44zM122.86 189.81h1.44v1.44h-1.44zM122.86 188.54h1.44v1.44h-1.44zM122.86 187.36h1.44v1.44h-1.44zM122.86 186.34h1.44v1.44h-1.44zM122.86 184.27h1.44v1.44h-1.44zM146.25 191.11h1.44v1.44h-1.44zM146.25 189.01h1.44v1.44h-1.44zM146.25 187.98h1.44v1.44h-1.44zM136.33 190.43h1.44v1.44h-1.44zM136.33 189.3h1.44v1.44h-1.44zM107.11 189.05h1.44v1.44h-1.44zM107.11 185.63h1.44v1.44h-1.44zM107.11 184.52h1.44v1.44h-1.44zM107.11 183.26h1.44v1.44h-1.44zM107.11 182.34h1.44v1.44h-1.44zM107.11 180.89h1.44v1.44h-1.44zM107.11 179.76h1.44v1.44h-1.44zM107.4 187.1h1.44v1.44h-1.44zM117.09 190.36h1.44v1.44h-1.44zM117.09 189.5h1.44v1.44h-1.44zM117.09 186.97h1.44v1.44h-1.44zM117.09 185.99h1.44v1.44h-1.44zM117.09 184.59h1.44v1.44h-1.44zM117.09 183.27h1.44v1.44h-1.44zM117.09 182.33h1.44v1.44h-1.44zM117.09 181.45h1.44v1.44h-1.44zM117.09 177.73h1.44v1.44h-1.44zM117.09 176.82h1.44v1.44h-1.44zM144.7 188.7h1.44v1.44h-1.44zM144.7 187.57h1.44v1.44h-1.44zM144.7 185.54h1.44v1.44h-1.44zM144.7 184.1h1.44v1.44h-1.44zM107.7 187.28h1.44v1.44h-1.44zM107.7 186.01h1.44v1.44h-1.44zM107.7 183.7h1.44v1.44h-1.44zM110.65 191.37h1.44v1.44h-1.44zM110.65 186.74h1.44v1.44h-1.44zM110.65 185.37h1.44v1.44h-1.44zM110.65 184.52h1.44v1.44h-1.44zM110.65 182.21h1.44v1.44h-1.44zM110.65 180.88h1.44v1.44h-1.44zM108.58 188.15h1.44v1.44h-1.44zM108.58 184.91h1.44v1.44h-1.44zM108.58 183.78h1.44v1.44h-1.44zM108.58 182.38h1.44v1.44h-1.44zM108.58 180.31h1.44v1.44h-1.44zM140.3 185.9h1.44v1.44h-1.44zM140.3 184.9h1.44v1.44h-1.44zM140.3 182.81h1.44v1.44h-1.44zM120.63 191.07h1.44v1.44h-1.44zM120.63 190.17h1.44v1.44h-1.44zM120.63 189.31h1.44v1.44h-1.44zM120.63 187.89h1.44v1.44h-1.44zM114.6 189.69h1.44v1.44h-1.44zM114.6 188.35h1.44v1.44h-1.44zM114.6 184.12h1.44v1.44h-1.44zM118.09 188.45h1.44v1.44h-1.44zM118.09 187.14h1.44v1.44h-1.44zM120.23 192.35h1.44v1.44h-1.44zM120.23 191.06h1.44v1.44h-1.44zM104.47 188.43h1.44v1.44h-1.44zM104.47 186.27h1.44v1.44h-1.44zM104.47 182.16h1.44v1.44h-1.44zM104.47 181.16h1.44v1.44h-1.44zM114.77 189.41h1.44v1.44h-1.44zM114.77 186.42h1.44v1.44h-1.44zM114.77 182.85h1.44v1.44h-1.44zM114.77 181.36h1.44v1.44h-1.44zM111.5 191.17h1.44v1.44h-1.44zM111.5 187.75h1.44v1.44h-1.44zM111.5 186.79h1.44v1.44h-1.44zM111.5 185.89h1.44v1.44h-1.44zM111.5 183.61h1.44v1.44h-1.44zM108.04 186.06h1.44v1.44h-1.44zM108.99 183.02h1.44v1.44h-1.44zM138.96 189.33h1.44v1.44h-1.44zM146.65 184.21h1.44v1.44h-1.44zM135.9 190.78h1.44v1.44h-1.44zM100.82 182.14h1.44v1.44h-1.44zM102.56 185.91h1.44v1.44h-1.44zM117.08 190.76h1.44v1.44h-1.44zM130.67 190.83h1.44v1.44h-1.44zM143.75 190.96h1.44v1.44h-1.44zM118.85 187.12h1.44v1.44h-1.44zM133.03 181.18h1.44v1.44h-1.44zM129.64 182.96h1.44v1.44h-1.44zM125.16 183.29h1.44v1.44h-1.44zM125.34 188.74h1.44v1.44h-1.44zM135.16 188.27h1.44v1.44h-1.44zM103.3 186.54h1.44v1.44h-1.44zM183.79 188.7h1.44v1.44h-1.44zM183.79 187.25h1.44v1.44h-1.44zM183.79 185.93h1.44v1.44h-1.44zM177.38 192.17h1.44v1.44h-1.44zM177.38 189.56h1.44v1.44h-1.44zM177.38 188.15h1.44v1.44h-1.44zM177.38 186.7h1.44v1.44h-1.44zM177.38 185.82h1.44v1.44h-1.44zM177.38 184.72h1.44v1.44h-1.44zM177.38 183.38h1.44v1.44h-1.44zM190.35 191.26h1.44v1.44h-1.44zM190.35 189.83h1.44v1.44h-1.44zM190.35 188.79h1.44v1.44h-1.44zM190.35 187.56h1.44v1.44h-1.44zM190.35 186.15h1.44v1.44h-1.44zM190.35 184.09h1.44v1.44h-1.44zM190.35 183.19h1.44v1.44h-1.44zM152.72 190.65h1.44v1.44h-1.44zM152.72 189.54h1.44v1.44h-1.44zM152.72 187.29h1.44v1.44h-1.44zM152.72 185.87h1.44v1.44h-1.44zM152.72 183.85h1.44v1.44h-1.44zM152.72 182.48h1.44v1.44h-1.44zM152.72 181.02h1.44v1.44h-1.44zM152.72 179.97h1.44v1.44h-1.44zM176.31 185.3h1.44v1.44h-1.44zM176.31 184.03h1.44v1.44h-1.44zM176.31 182.75h1.44v1.44h-1.44zM176.31 181.44h1.44v1.44h-1.44zM176.31 177.72h1.44v1.44h-1.44zM162.33 190.88h1.44v1.44h-1.44zM162.33 189.43h1.44v1.44h-1.44zM162.33 188.54h1.44v1.44h-1.44zM162.33 187.38h1.44v1.44h-1.44zM162.33 186.52h1.44v1.44h-1.44zM156.27 189.18h1.44v1.44h-1.44zM156.27 187.73h1.44v1.44h-1.44zM156.27 186.87h1.44v1.44h-1.44zM172.26 186.9h1.44v1.44h-1.44zM168.13 192.08h1.44v1.44h-1.44zM168.13 190.61h1.44v1.44h-1.44zM168.13 189.18h1.44v1.44h-1.44zM168.13 187.8h1.44v1.44h-1.44zM168.13 186.92h1.44v1.44h-1.44zM168.13 183.09h1.44v1.44h-1.44zM168.13 181.81h1.44v1.44h-1.44zM191.31 186.74h1.44v1.44h-1.44zM191.31 185.49h1.44v1.44h-1.44zM191.31 184.38h1.44v1.44h-1.44zM191.31 183.3h1.44v1.44h-1.44zM170.8 191.92h1.44v1.44h-1.44zM170.8 188.36h1.44v1.44h-1.44zM170.8 187.09h1.44v1.44h-1.44zM170.8 184.88h1.44v1.44h-1.44zM170.8 183.78h1.44v1.44h-1.44zM151.86 189.54h1.44v1.44h-1.44zM151.86 188.46h1.44v1.44h-1.44zM151.86 187.05h1.44v1.44h-1.44zM151.86 186.14h1.44v1.44h-1.44zM151.86 184.76h1.44v1.44h-1.44zM151.86 183.46h1.44v1.44h-1.44zM151.86 181.19h1.44v1.44h-1.44zM167.98 187.79h1.44v1.44h-1.44zM167.98 186.62h1.44v1.44h-1.44zM167.98 185.22h1.44v1.44h-1.44zM167.98 184.28h1.44v1.44h-1.44zM167.98 183.16h1.44v1.44h-1.44zM167.98 180.85h1.44v1.44h-1.44zM160.17 188.43h1.44v1.44h-1.44zM160.17 184.3h1.44v1.44h-1.44zM160.17 182.86h1.44v1.44h-1.44zM160.17 181.83h1.44v1.44h-1.44zM160.17 180.42h1.44v1.44h-1.44zM180.64 188.18h1.44v1.44h-1.44zM180.64 186.76h1.44v1.44h-1.44zM180.64 185.68h1.44v1.44h-1.44zM180.64 183.4h1.44v1.44h-1.44zM180.64 182.47h1.44v1.44h-1.44zM180.64 181.48h1.44v1.44h-1.44zM169.75 189.7h1.44v1.44h-1.44zM169.75 188.83h1.44v1.44h-1.44zM169.75 187.69h1.44v1.44h-1.44zM169.75 186.65h1.44v1.44h-1.44zM169.75 185.18h1.44v1.44h-1.44zM169.75 184.19h1.44v1.44h-1.44zM169.75 181.34h1.44v1.44h-1.44zM169.75 179.08h1.44v1.44h-1.44zM166.77 187.15h1.44v1.44h-1.44zM166.77 185.69h1.44v1.44h-1.44zM166.77 184.42h1.44v1.44h-1.44zM166.77 183.53h1.44v1.44h-1.44zM166.77 182.34h1.44v1.44h-1.44zM166.77 181.33h1.44v1.44h-1.44zM166.77 180.12h1.44v1.44h-1.44zM166.77 178.65h1.44v1.44h-1.44zM159.22 189.07h1.44v1.44h-1.44zM159.22 188.17h1.44v1.44h-1.44zM159.22 187.31h1.44v1.44h-1.44zM181.92 188.17h1.44v1.44h-1.44zM181.92 187.14h1.44v1.44h-1.44zM181.92 186.27h1.44v1.44h-1.44zM168.56 187.82h1.44v1.44h-1.44zM168.56 186.62h1.44v1.44h-1.44zM168.56 185.41h1.44v1.44h-1.44zM168.56 183.01h1.44v1.44h-1.44zM168.56 180.59h1.44v1.44h-1.44zM186.65 189.43h1.44v1.44h-1.44zM186.65 188.01h1.44v1.44h-1.44zM186.65 186.62h1.44v1.44h-1.44zM186.65 185.61h1.44v1.44h-1.44zM186.65 184.53h1.44v1.44h-1.44zM186.65 182.06h1.44v1.44h-1.44zM186.65 180.88h1.44v1.44h-1.44zM158 186.16h1.44v1.44h-1.44zM158 185.3h1.44v1.44h-1.44zM188.94 187.69h1.44v1.44h-1.44zM188.94 186.35h1.44v1.44h-1.44zM188.94 184.42h1.44v1.44h-1.44zM188.94 183.51h1.44v1.44h-1.44zM169.47 189.31h1.44v1.44h-1.44zM169.47 187.98h1.44v1.44h-1.44zM169.47 186.67h1.44v1.44h-1.44zM169.47 185.71h1.44v1.44h-1.44zM169.47 184.31h1.44v1.44h-1.44zM169.47 183.01h1.44v1.44h-1.44zM169.47 181.6h1.44v1.44h-1.44zM169.47 180.67h1.44v1.44h-1.44zM169.47 179.58h1.44v1.44h-1.44zM187.93 191.21h1.44v1.44h-1.44zM187.93 190.2h1.44v1.44h-1.44zM187.93 188.08h1.44v1.44h-1.44zM187.93 186.63h1.44v1.44h-1.44zM153.2 188.26h1.44v1.44h-1.44zM153.2 186.8h1.44v1.44h-1.44zM153.2 184.44h1.44v1.44h-1.44zM153.2 183.2h1.44v1.44h-1.44zM190.7 190.39h1.44v1.44h-1.44zM190.7 189.49h1.44v1.44h-1.44zM190.7 188.25h1.44v1.44h-1.44zM190.7 187.06h1.44v1.44h-1.44zM190.7 185.79h1.44v1.44h-1.44zM190.7 184.64h1.44v1.44h-1.44zM190.7 182.47h1.44v1.44h-1.44zM190.7 179.78h1.44v1.44h-1.44zM190.7 178.51h1.44v1.44h-1.44zM179.23 192.06h1.44v1.44h-1.44zM179.23 188.94h1.44v1.44h-1.44zM159.27 192.11h1.44v1.44h-1.44zM159.27 191.12h1.44v1.44h-1.44zM189.35 189.3h1.44v1.44h-1.44zM189.35 187.51h1.44v1.44h-1.44zM184.31 190.91h1.44v1.44h-1.44zM176.81 188.38h1.44v1.44h-1.44zM161.88 190.07h1.44v1.44h-1.44zM183.75 182.5h1.44v1.44h-1.44zM152.55 187.43h1.44v1.44h-1.44zM158.04 189.76h1.44v1.44h-1.44zM190.29 184.53h1.44v1.44h-1.44zM170.83 184.88h1.44v1.44h-1.44zM182.34 183.52h1.44v1.44h-1.44zM164.78 182.96h1.44v1.44h-1.44zM151.92 185.78h1.44v1.44h-1.44zM165.38 185.72h1.44v1.44h-1.44zM166.04 182.83h1.44v1.44h-1.44zM151.45 183.3h1.44v1.44h-1.44zM202.77 189.22h1.44v1.44h-1.44zM211.3 189.92h1.44v1.44h-1.44zM223.68 188.98h1.44v1.44h-1.44zM223.68 187.56h1.44v1.44h-1.44zM223.68 184.99h1.44v1.44h-1.44zM223.68 181.19h1.44v1.44h-1.44zM197.05 187.65h1.44v1.44h-1.44zM197.05 183.02h1.44v1.44h-1.44zM197.05 180.92h1.44v1.44h-1.44zM213.33 187.58h1.44v1.44h-1.44zM213.33 186.57h1.44v1.44h-1.44zM213.33 183.8h1.44v1.44h-1.44zM213.33 182.4h1.44v1.44h-1.44zM213.33 180.25h1.44v1.44h-1.44zM213.33 178.26h1.44v1.44h-1.44zM226.38 192.14h1.44v1.44h-1.44zM226.38 190.22h1.44v1.44h-1.44zM195.71 188.63h1.44v1.44h-1.44zM214.57 191.56h1.44v1.44h-1.44zM214.57 190.6h1.44v1.44h-1.44zM214.57 189.19h1.44v1.44h-1.44zM214.57 188.24h1.44v1.44h-1.44zM227.97 188.23h1.44v1.44h-1.44zM227.97 186.3h1.44v1.44h-1.44zM227.97 184.07h1.44v1.44h-1.44zM227.97 183.15h1.44v1.44h-1.44zM227.97 181.99h1.44v1.44h-1.44zM227.97 180.83h1.44v1.44h-1.44zM227.97 179.4h1.44v1.44h-1.44zM210.75 191.2h1.44v1.44h-1.44zM210.75 190.21h1.44v1.44h-1.44zM210.75 188.73h1.44v1.44h-1.44zM210.75 185.33h1.44v1.44h-1.44zM210.75 183.13h1.44v1.44h-1.44zM210.75 181.67h1.44v1.44h-1.44zM210.75 180.74h1.44v1.44h-1.44zM224.17 190.99h1.44v1.44h-1.44zM224.17 189.63h1.44v1.44h-1.44zM224.17 188.37h1.44v1.44h-1.44zM224.17 187.5h1.44v1.44h-1.44zM224.17 186.16h1.44v1.44h-1.44zM224.17 185.22h1.44v1.44h-1.44zM224.17 184.12h1.44v1.44h-1.44zM195.1 187.7h1.44v1.44h-1.44zM195.1 186.84h1.44v1.44h-1.44zM195.1 185.53h1.44v1.44h-1.44zM195.1 182.66h1.44v1.44h-1.44zM195.1 181.62h1.44v1.44h-1.44zM212.32 192.18h1.44v1.44h-1.44zM212.32 188.33h1.44v1.44h-1.44zM222.88 191.15h1.44v1.44h-1.44zM200.39 187.11h1.44v1.44h-1.44zM221.06 185.45h1.44v1.44h-1.44zM223.43 188.96h1.44v1.44h-1.44zM226.04 189.85h1.44v1.44h-1.44zM225.06 185.05h1.44v1.44h-1.44zM211.96 185.67h1.44v1.44h-1.44zM208.52 188.72h1.44v1.44h-1.44zM215.35 188.58h1.44v1.44h-1.44zM209.66 181.82h1.44v1.44h-1.44zM232.32 190.06h1.44v1.44h-1.44zM205.98 183.49h1.44v1.44h-1.44zM200.01 187h1.44v1.44h-1.44zM236.33 187.91h1.44v1.44h-1.44zM236.33 185.6h1.44v1.44h-1.44zM236.33 183.17h1.44v1.44h-1.44zM236.33 181.7h1.44v1.44h-1.44zM236.33 180.81h1.44v1.44h-1.44zM236.33 178.95h1.44v1.44h-1.44zM257.78 188.56h1.44v1.44h-1.44zM257.78 187.37h1.44v1.44h-1.44zM257.78 186.28h1.44v1.44h-1.44zM257.78 185.08h1.44v1.44h-1.44zM257.78 182.76h1.44v1.44h-1.44zM257.78 181.3h1.44v1.44h-1.44zM268.57 188.75h1.44v1.44h-1.44zM268.57 187.62h1.44v1.44h-1.44zM268.57 186.29h1.44v1.44h-1.44zM268.57 184.87h1.44v1.44h-1.44zM268.57 183.81h1.44v1.44h-1.44zM253.35 190.28h1.44v1.44h-1.44zM253.35 188.98h1.44v1.44h-1.44zM253.35 187.82h1.44v1.44h-1.44zM256.92 187.58h1.44v1.44h-1.44zM256.92 186.33h1.44v1.44h-1.44zM256.92 185.18h1.44v1.44h-1.44zM253.36 190.6h1.44v1.44h-1.44zM253.36 189.31h1.44v1.44h-1.44zM253.36 187.96h1.44v1.44h-1.44zM253.36 187.04h1.44v1.44h-1.44zM253.36 186h1.44v1.44h-1.44zM253.36 183.79h1.44v1.44h-1.44zM253.36 182.71h1.44v1.44h-1.44zM239.39 192.19h1.44v1.44h-1.44zM239.39 191.31h1.44v1.44h-1.44zM239.39 190.08h1.44v1.44h-1.44zM239.39 187.51h1.44v1.44h-1.44zM239.8 185.57h1.44v1.44h-1.44zM239.8 184.68h1.44v1.44h-1.44zM239.8 183.64h1.44v1.44h-1.44zM239.8 182.24h1.44v1.44h-1.44zM239.8 178.89h1.44v1.44h-1.44zM265.33 190.69h1.44v1.44h-1.44zM265.33 189.21h1.44v1.44h-1.44zM265.33 187.88h1.44v1.44h-1.44zM265.33 185.9h1.44v1.44h-1.44zM265.33 185.01h1.44v1.44h-1.44zM238.98 188.06h1.44v1.44h-1.44zM238.98 186.81h1.44v1.44h-1.44zM238.98 185.66h1.44v1.44h-1.44zM238.98 184.8h1.44v1.44h-1.44zM238.98 183.82h1.44v1.44h-1.44zM238.98 182.67h1.44v1.44h-1.44zM250.1 191.46h1.44v1.44h-1.44zM250.1 189.15h1.44v1.44h-1.44zM250.1 188.09h1.44v1.44h-1.44zM259.21 187.99h1.44v1.44h-1.44zM259.21 186.65h1.44v1.44h-1.44zM259.21 185.61h1.44v1.44h-1.44zM259.21 182.49h1.44v1.44h-1.44zM259.82 187.63h1.44v1.44h-1.44zM259.82 186.73h1.44v1.44h-1.44zM259.82 185.48h1.44v1.44h-1.44zM259.82 184.59h1.44v1.44h-1.44zM259.82 183.41h1.44v1.44h-1.44zM259.82 182.02h1.44v1.44h-1.44zM259.82 180.9h1.44v1.44h-1.44zM259.82 179.71h1.44v1.44h-1.44zM244.96 190.87h1.44v1.44h-1.44zM244.96 187.11h1.44v1.44h-1.44zM244.96 185.84h1.44v1.44h-1.44zM244.96 183.36h1.44v1.44h-1.44zM244.96 180.62h1.44v1.44h-1.44zM244.96 179.43h1.44v1.44h-1.44zM244.96 178.38h1.44v1.44h-1.44zM244.96 177.14h1.44v1.44h-1.44zM244.96 176.14h1.44v1.44h-1.44zM244.96 174.78h1.44v1.44h-1.44zM244.96 173.7h1.44v1.44h-1.44zM253.69 192.03h1.44v1.44h-1.44zM253.69 189.97h1.44v1.44h-1.44zM253.69 188.64h1.44v1.44h-1.44zM253.69 187.66h1.44v1.44h-1.44zM253.69 186.33h1.44v1.44h-1.44zM253.69 185.17h1.44v1.44h-1.44zM253.69 183.99h1.44v1.44h-1.44zM253.69 183.13h1.44v1.44h-1.44zM253.69 181.76h1.44v1.44h-1.44zM256.03 190.78h1.44v1.44h-1.44zM256.03 187.59h1.44v1.44h-1.44zM256.03 185.71h1.44v1.44h-1.44zM256.03 184.71h1.44v1.44h-1.44zM256.03 183.3h1.44v1.44h-1.44zM256.03 182.26h1.44v1.44h-1.44zM243.83 187.21h1.44v1.44h-1.44zM243.83 185.87h1.44v1.44h-1.44zM263.44 184.65h1.44v1.44h-1.44zM235.3 182.05h1.44v1.44h-1.44zM239.69 189.89h1.44v1.44h-1.44zM244.67 186.13h1.44v1.44h-1.44zM245.37 186.85h1.44v1.44h-1.44zM244.68 188.95h1.44v1.44h-1.44zM259.63 184.37h1.44v1.44h-1.44zM235.4 181.98h1.44v1.44h-1.44zM239.73 188.1h1.44v1.44h-1.44zM261.88 182.39h1.44v1.44h-1.44zM268.51 182.22h1.44v1.44h-1.44zM253.35 181.82h1.44v1.44h-1.44zM262.58 182.54h1.44v1.44h-1.44zM305.26 187.19h1.44v1.44h-1.44zM305.26 185.81h1.44v1.44h-1.44zM305.26 183.81h1.44v1.44h-1.44zM305.26 181.3h1.44v1.44h-1.44zM273.01 187.68h1.44v1.44h-1.44zM273.01 186.59h1.44v1.44h-1.44zM273.01 185.18h1.44v1.44h-1.44zM273.01 184.13h1.44v1.44h-1.44zM273.01 182.74h1.44v1.44h-1.44zM273.01 181.67h1.44v1.44h-1.44zM273.01 180.44h1.44v1.44h-1.44zM273.56 189.04h1.44v1.44h-1.44zM294.11 187.66h1.44v1.44h-1.44zM294.11 185.52h1.44v1.44h-1.44zM294.11 183.37h1.44v1.44h-1.44zM294.11 182.46h1.44v1.44h-1.44zM294.11 180.14h1.44v1.44h-1.44zM276.67 188.95h1.44v1.44h-1.44zM276.67 187.46h1.44v1.44h-1.44zM288.28 188.29h1.44v1.44h-1.44zM288.28 187.2h1.44v1.44h-1.44zM276.89 190.36h1.44v1.44h-1.44zM276.89 188.93h1.44v1.44h-1.44zM276.89 187.63h1.44v1.44h-1.44zM276.89 186.64h1.44v1.44h-1.44zM276.89 184.75h1.44v1.44h-1.44zM275.92 186.07h1.44v1.44h-1.44zM275.92 183.29h1.44v1.44h-1.44zM275.92 182.3h1.44v1.44h-1.44zM305.15 188.47h1.44v1.44h-1.44zM305.15 187.48h1.44v1.44h-1.44zM305.15 186.36h1.44v1.44h-1.44zM271.24 187.63h1.44v1.44h-1.44zM271.24 186.52h1.44v1.44h-1.44zM271.24 184.36h1.44v1.44h-1.44zM271.24 183.05h1.44v1.44h-1.44zM271.24 182.06h1.44v1.44h-1.44zM271.24 180.98h1.44v1.44h-1.44zM271.24 179.93h1.44v1.44h-1.44zM285.71 187.8h1.44v1.44h-1.44zM285.71 186.77h1.44v1.44h-1.44zM285.71 185.62h1.44v1.44h-1.44zM285.71 183.38h1.44v1.44h-1.44zM285.71 181.17h1.44v1.44h-1.44zM285.71 179.87h1.44v1.44h-1.44zM287.37 187.83h1.44v1.44h-1.44zM287.37 186.65h1.44v1.44h-1.44zM287.37 185.37h1.44v1.44h-1.44zM287.37 182.86h1.44v1.44h-1.44zM287.37 182.01h1.44v1.44h-1.44zM287.37 180.76h1.44v1.44h-1.44zM287.37 179.66h1.44v1.44h-1.44zM287.37 175.88h1.44v1.44h-1.44zM287.37 173.42h1.44v1.44h-1.44zM287.37 172.18h1.44v1.44h-1.44zM280.74 189.6h1.44v1.44h-1.44zM280.74 188.54h1.44v1.44h-1.44zM280.04 186.38h1.44v1.44h-1.44zM280.04 185.52h1.44v1.44h-1.44zM280.04 184.48h1.44v1.44h-1.44zM280.04 183.04h1.44v1.44h-1.44zM276.07 189.32h1.44v1.44h-1.44zM276.07 187.2h1.44v1.44h-1.44zM276.35 187.81h1.44v1.44h-1.44zM276.35 186.69h1.44v1.44h-1.44zM277.43 190.78h1.44v1.44h-1.44zM277.43 189.82h1.44v1.44h-1.44zM277.43 187.83h1.44v1.44h-1.44zM277.43 185.46h1.44v1.44h-1.44zM277.43 184.35h1.44v1.44h-1.44zM302.51 191.62h1.44v1.44h-1.44zM302.51 190.35h1.44v1.44h-1.44zM302.51 189.1h1.44v1.44h-1.44zM302.51 187.75h1.44v1.44h-1.44zM302.51 183.96h1.44v1.44h-1.44zM302.51 181.9h1.44v1.44h-1.44zM288.47 188.66h1.44v1.44h-1.44zM288.47 187.22h1.44v1.44h-1.44zM288.47 185.77h1.44v1.44h-1.44zM295.73 191.48h1.44v1.44h-1.44zM295.73 190.33h1.44v1.44h-1.44zM278.52 188.79h1.44v1.44h-1.44zM278.52 187.53h1.44v1.44h-1.44zM278.52 186.17h1.44v1.44h-1.44zM278.52 184.96h1.44v1.44h-1.44zM278.52 183.5h1.44v1.44h-1.44zM278.52 182.02h1.44v1.44h-1.44zM278.52 177.24h1.44v1.44h-1.44zM278.52 176.38h1.44v1.44h-1.44zM278.52 175.45h1.44v1.44h-1.44zM278.52 174.04h1.44v1.44h-1.44zM301.89 187.97h1.44v1.44h-1.44zM301.89 187.1h1.44v1.44h-1.44zM298.4 191.39h1.44v1.44h-1.44zM298.4 190.05h1.44v1.44h-1.44zM298.4 187.53h1.44v1.44h-1.44zM298.4 186.24h1.44v1.44h-1.44zM299.41 190.88h1.44v1.44h-1.44zM299.41 189.44h1.44v1.44h-1.44zM299.41 188.04h1.44v1.44h-1.44zM299.41 187.03h1.44v1.44h-1.44zM299.41 184.99h1.44v1.44h-1.44zM301.67 192.1h1.44v1.44h-1.44zM301.67 190.64h1.44v1.44h-1.44zM301.67 189.31h1.44v1.44h-1.44zM302.72 188.92h1.44v1.44h-1.44zM302.72 186.34h1.44v1.44h-1.44zM302.72 183.76h1.44v1.44h-1.44zM302.72 181.62h1.44v1.44h-1.44zM289.62 190.39h1.44v1.44h-1.44zM289.62 188.96h1.44v1.44h-1.44zM289.62 187.81h1.44v1.44h-1.44zM274.62 189.74h1.44v1.44h-1.44zM274.62 188.83h1.44v1.44h-1.44zM274.62 187.9h1.44v1.44h-1.44zM274.62 185.68h1.44v1.44h-1.44zM274.62 184.71h1.44v1.44h-1.44zM274.62 183.66h1.44v1.44h-1.44zM274.62 182.2h1.44v1.44h-1.44zM274.62 181.12h1.44v1.44h-1.44zM274.62 179.67h1.44v1.44h-1.44zM303.53 189.43h1.44v1.44h-1.44zM303.53 188.13h1.44v1.44h-1.44zM303.53 186.11h1.44v1.44h-1.44zM303.53 184.84h1.44v1.44h-1.44zM303.53 181.84h1.44v1.44h-1.44zM274.23 190.97h1.44v1.44h-1.44zM274.23 189.89h1.44v1.44h-1.44zM274.23 187.49h1.44v1.44h-1.44zM274.23 183.86h1.44v1.44h-1.44zM274.23 182.4h1.44v1.44h-1.44zM274.23 181.3h1.44v1.44h-1.44zM291.94 188.6h1.44v1.44h-1.44zM291.94 187.42h1.44v1.44h-1.44zM291.94 184.03h1.44v1.44h-1.44zM291.94 182.94h1.44v1.44h-1.44zM275.82 184h1.44v1.44h-1.44zM275.82 183.09h1.44v1.44h-1.44zM297.28 188.43h1.44v1.44h-1.44zM297.28 187.58h1.44v1.44h-1.44zM297.28 186.5h1.44v1.44h-1.44zM297.28 185.12h1.44v1.44h-1.44zM287.76 191.05h1.44v1.44h-1.44zM305.13 180.95h1.44v1.44h-1.44zM272.88 181h1.44v1.44h-1.44zM279.49 191.09h1.44v1.44h-1.44zM303.37 189.39h1.44v1.44h-1.44zM280.22 183.27h1.44v1.44h-1.44zM297.44 187.89h1.44v1.44h-1.44zM273.92 183.48h1.44v1.44h-1.44zM273.76 183.22h1.44v1.44h-1.44zM286.73 184.21h1.44v1.44h-1.44zM277.17 186.9h1.44v1.44h-1.44zM303.6 190.36h1.44v1.44h-1.44zM323.72 187.3h1.44v1.44h-1.44zM323.72 185.98h1.44v1.44h-1.44zM323.72 184.61h1.44v1.44h-1.44zM323.72 182.7h1.44v1.44h-1.44zM315.42 189.98h1.44v1.44h-1.44zM315.42 187.6h1.44v1.44h-1.44zM315.42 186.57h1.44v1.44h-1.44zM328.54 190.68h1.44v1.44h-1.44zM327.47 188.95h1.44v1.44h-1.44zM327.47 186.59h1.44v1.44h-1.44zM327.47 184.53h1.44v1.44h-1.44zM327.47 182.19h1.44v1.44h-1.44zM332.75 189.72h1.44v1.44h-1.44zM332.75 188.61h1.44v1.44h-1.44zM332.75 187.66h1.44v1.44h-1.44zM332.75 185.5h1.44v1.44h-1.44zM332.75 184.5h1.44v1.44h-1.44zM333.31 192.03h1.44v1.44h-1.44zM333.31 191.13h1.44v1.44h-1.44zM333.31 189.9h1.44v1.44h-1.44zM333.31 188.58h1.44v1.44h-1.44zM321.39 187.15h1.44v1.44h-1.44zM321.39 183.71h1.44v1.44h-1.44zM321.39 182.23h1.44v1.44h-1.44zM321.39 180.1h1.44v1.44h-1.44zM310.86 188.99h1.44v1.44h-1.44zM310.86 187.7h1.44v1.44h-1.44zM310.86 186.5h1.44v1.44h-1.44zM310.86 185.46h1.44v1.44h-1.44zM310.86 183.54h1.44v1.44h-1.44zM335.09 188.54h1.44v1.44h-1.44zM335.09 187.16h1.44v1.44h-1.44zM335.09 186.04h1.44v1.44h-1.44zM335.09 185.02h1.44v1.44h-1.44zM335.09 184.16h1.44v1.44h-1.44zM335.09 183.1h1.44v1.44h-1.44zM335.09 181.97h1.44v1.44h-1.44zM335.09 180.55h1.44v1.44h-1.44zM335.09 179.51h1.44v1.44h-1.44zM335.09 178.44h1.44v1.44h-1.44zM335.09 177.13h1.44v1.44h-1.44zM310.31 191.44h1.44v1.44h-1.44zM310.31 190.32h1.44v1.44h-1.44zM310.31 188.34h1.44v1.44h-1.44zM310.31 187.04h1.44v1.44h-1.44zM310.31 186.15h1.44v1.44h-1.44zM310.31 181.71h1.44v1.44h-1.44zM310.31 179.62h1.44v1.44h-1.44zM310.31 178.14h1.44v1.44h-1.44zM330.97 189.38h1.44v1.44h-1.44zM330.97 187.08h1.44v1.44h-1.44zM322.34 188.18h1.44v1.44h-1.44zM322.34 187h1.44v1.44h-1.44zM322.34 186.09h1.44v1.44h-1.44zM322.34 185.09h1.44v1.44h-1.44zM322.34 183.61h1.44v1.44h-1.44zM322.34 181.69h1.44v1.44h-1.44zM322.34 180.42h1.44v1.44h-1.44zM322.34 178.11h1.44v1.44h-1.44zM316.88 188.62h1.44v1.44h-1.44zM316.88 186.16h1.44v1.44h-1.44zM316.88 183.24h1.44v1.44h-1.44zM316.88 181.91h1.44v1.44h-1.44zM335.6 188.52h1.44v1.44h-1.44zM335.6 187.38h1.44v1.44h-1.44zM335.6 186.3h1.44v1.44h-1.44zM335.6 182.78h1.44v1.44h-1.44zM335.6 181.79h1.44v1.44h-1.44zM326.6 189.39h1.44v1.44h-1.44zM326.6 188.08h1.44v1.44h-1.44zM326.6 187h1.44v1.44h-1.44zM310.69 190.79h1.44v1.44h-1.44zM310.69 189.81h1.44v1.44h-1.44zM315.4 189.66h1.44v1.44h-1.44zM329.95 189.74h1.44v1.44h-1.44zM336.87 182.84h1.44v1.44h-1.44zM308.88 187.49h1.44v1.44h-1.44zM335.91 188.09h1.44v1.44h-1.44zM320.07 191.04h1.44v1.44h-1.44zM324.77 182.99h1.44v1.44h-1.44zM324.64 190.78h1.44v1.44h-1.44zM312.67 189.51h1.44v1.44h-1.44zM333.43 186.16h1.44v1.44h-1.44zM329.87 183.31h1.44v1.44h-1.44zM360.01 187.63h1.44v1.44h-1.44zM360.01 185.29h1.44v1.44h-1.44zM360.01 184.31h1.44v1.44h-1.44zM368.32 187.83h1.44v1.44h-1.44zM368.32 186.9h1.44v1.44h-1.44zM368.32 185.74h1.44v1.44h-1.44zM368.32 182.09h1.44v1.44h-1.44zM368.32 180.8h1.44v1.44h-1.44zM368.32 179.86h1.44v1.44h-1.44zM367.3 186.27h1.44v1.44h-1.44zM347.62 191.52h1.44v1.44h-1.44zM347.62 190.59h1.44v1.44h-1.44zM360.39 190.85h1.44v1.44h-1.44zM360.39 189.62h1.44v1.44h-1.44zM360.39 186.48h1.44v1.44h-1.44zM360.39 185.21h1.44v1.44h-1.44zM360.39 183.98h1.44v1.44h-1.44zM360.39 182.89h1.44v1.44h-1.44zM360.39 181.8h1.44v1.44h-1.44zM360.39 180.42h1.44v1.44h-1.44zM360.39 177.97h1.44v1.44h-1.44zM349.6 192.3h1.44v1.44h-1.44zM349.6 191.15h1.44v1.44h-1.44zM349.6 189.99h1.44v1.44h-1.44zM364.09 188.54h1.44v1.44h-1.44zM364.09 187.11h1.44v1.44h-1.44zM364.09 186.16h1.44v1.44h-1.44zM359.86 189.04h1.44v1.44h-1.44zM359.86 187.66h1.44v1.44h-1.44zM359.86 186.29h1.44v1.44h-1.44zM359.86 185.25h1.44v1.44h-1.44zM359.86 184.31h1.44v1.44h-1.44zM367.05 187.12h1.44v1.44h-1.44zM367.05 185.97h1.44v1.44h-1.44zM353.47 187.75h1.44v1.44h-1.44zM353.47 186.7h1.44v1.44h-1.44zM353.47 184.66h1.44v1.44h-1.44zM345.34 189.23h1.44v1.44h-1.44zM345.34 188.32h1.44v1.44h-1.44zM345.34 186.92h1.44v1.44h-1.44zM359.64 191.98h1.44v1.44h-1.44zM359.64 190.73h1.44v1.44h-1.44zM359.64 186.84h1.44v1.44h-1.44zM349.64 189.91h1.44v1.44h-1.44zM349.64 187.92h1.44v1.44h-1.44zM349.64 186.05h1.44v1.44h-1.44zM349.64 183.65h1.44v1.44h-1.44zM349.64 182.32h1.44v1.44h-1.44zM362.7 189.99h1.44v1.44h-1.44zM362.7 188.94h1.44v1.44h-1.44zM362.7 187.68h1.44v1.44h-1.44zM362.7 186.69h1.44v1.44h-1.44zM362.7 185.44h1.44v1.44h-1.44zM362.7 184.12h1.44v1.44h-1.44zM362.7 182.89h1.44v1.44h-1.44zM362.7 180.18h1.44v1.44h-1.44zM346.94 187.16h1.44v1.44h-1.44zM346.94 186.23h1.44v1.44h-1.44zM346.94 184.81h1.44v1.44h-1.44zM346.94 181.82h1.44v1.44h-1.44zM346.94 180.41h1.44v1.44h-1.44zM346.94 179.16h1.44v1.44h-1.44zM346.94 178.22h1.44v1.44h-1.44zM361.83 187.38h1.44v1.44h-1.44zM361.83 185.16h1.44v1.44h-1.44zM361.83 184.12h1.44v1.44h-1.44zM361.83 182.69h1.44v1.44h-1.44zM359.36 183.63h1.44v1.44h-1.44zM366.99 190.24h1.44v1.44h-1.44zM354.27 186.32h1.44v1.44h-1.44zM353.68 190.36h1.44v1.44h-1.44zM367.88 187.46h1.44v1.44h-1.44zM346.48 186.39h1.44v1.44h-1.44zM361.58 187.47h1.44v1.44h-1.44zM355.89 185.59h1.44v1.44h-1.44zM365.19 185.27h1.44v1.44h-1.44zM359.8 188.7h1.44v1.44h-1.44zM397.79 191.69h1.44v1.44h-1.44zM390.25 188.08h1.44v1.44h-1.44zM390.25 187.17h1.44v1.44h-1.44zM390.25 186.06h1.44v1.44h-1.44zM390.25 184.69h1.44v1.44h-1.44zM390.25 183.61h1.44v1.44h-1.44zM390.25 181.53h1.44v1.44h-1.44zM390.25 180.16h1.44v1.44h-1.44zM390.25 177.89h1.44v1.44h-1.44zM388.01 190.78h1.44v1.44h-1.44zM388.01 189.59h1.44v1.44h-1.44zM388.01 187.62h1.44v1.44h-1.44zM388.01 185.02h1.44v1.44h-1.44zM388.01 181.39h1.44v1.44h-1.44zM388.01 180.19h1.44v1.44h-1.44zM373.8 189.63h1.44v1.44h-1.44zM373.8 185.77h1.44v1.44h-1.44zM388.37 191.19h1.44v1.44h-1.44zM388.37 189.79h1.44v1.44h-1.44zM388.37 188.86h1.44v1.44h-1.44zM388.37 187.93h1.44v1.44h-1.44zM388.37 185.77h1.44v1.44h-1.44zM397.94 190.29h1.44v1.44h-1.44zM397.94 187.67h1.44v1.44h-1.44zM396.97 185.85h1.44v1.44h-1.44zM396.97 183.11h1.44v1.44h-1.44zM396.97 182.01h1.44v1.44h-1.44zM385.88 190.64h1.44v1.44h-1.44zM385.88 189.74h1.44v1.44h-1.44zM385.88 188.78h1.44v1.44h-1.44zM385.88 187.44h1.44v1.44h-1.44zM385.88 186.29h1.44v1.44h-1.44zM385.88 185.06h1.44v1.44h-1.44zM385.88 181.54h1.44v1.44h-1.44zM385.88 180.35h1.44v1.44h-1.44zM386.24 191.74h1.44v1.44h-1.44zM386.24 187.94h1.44v1.44h-1.44zM386.24 186.95h1.44v1.44h-1.44zM386.24 185.82h1.44v1.44h-1.44zM373.79 187.2h1.44v1.44h-1.44zM373.79 186.06h1.44v1.44h-1.44zM373.79 182.76h1.44v1.44h-1.44zM373.79 181.89h1.44v1.44h-1.44zM388.16 188.99h1.44v1.44h-1.44zM388.16 188.05h1.44v1.44h-1.44zM388.16 186.63h1.44v1.44h-1.44zM388.16 184.65h1.44v1.44h-1.44zM388.16 183.3h1.44v1.44h-1.44zM388.16 182.24h1.44v1.44h-1.44zM379.45 188.69h1.44v1.44h-1.44zM379.45 186.49h1.44v1.44h-1.44zM379 186.92h1.44v1.44h-1.44zM386.22 186.72h1.44v1.44h-1.44zM384.58 185.47h1.44v1.44h-1.44zM397.67 184.18h1.44v1.44h-1.44zM376.15 190.29h1.44v1.44h-1.44zM392.55 184.3h1.44v1.44h-1.44zM391.49 189.27h1.44v1.44h-1.44zM377.12 184.4h1.44v1.44h-1.44zM376.52 187.95h1.44v1.44h-1.44zM392.11 186.37h1.44v1.44h-1.44zM402.24 186.94h1.44v1.44h-1.44zM402.24 185.62h1.44v1.44h-1.44zM402.24 182.66h1.44v1.44h-1.44zM402.24 181.41h1.44v1.44h-1.44zM402.24 180.53h1.44v1.44h-1.44zM402.24 178.32h1.44v1.44h-1.44zM402.24 177.33h1.44v1.44h-1.44zM402.24 176.46h1.44v1.44h-1.44zM402.24 175.07h1.44v1.44h-1.44zM402.24 173.91h1.44v1.44h-1.44zM402.24 171.73h1.44v1.44h-1.44zM418 190.24h1.44v1.44h-1.44zM418 188.05h1.44v1.44h-1.44zM418 186.93h1.44v1.44h-1.44zM418 186.06h1.44v1.44h-1.44zM418 184.91h1.44v1.44h-1.44zM418 183.52h1.44v1.44h-1.44zM418 182.29h1.44v1.44h-1.44zM418 181.06h1.44v1.44h-1.44zM418 180.21h1.44v1.44h-1.44zM410.5 189.9h1.44v1.44h-1.44zM410.5 189.02h1.44v1.44h-1.44zM410.5 188.02h1.44v1.44h-1.44zM425.02 188.03h1.44v1.44h-1.44zM425.02 186.77h1.44v1.44h-1.44zM425.02 185.83h1.44v1.44h-1.44zM425.02 184.79h1.44v1.44h-1.44zM425.02 181.33h1.44v1.44h-1.44zM405.44 191.07h1.44v1.44h-1.44zM405.44 189.76h1.44v1.44h-1.44zM405.44 188.42h1.44v1.44h-1.44zM405.44 187.48h1.44v1.44h-1.44zM405.44 184.98h1.44v1.44h-1.44zM405.44 182.39h1.44v1.44h-1.44zM408.81 189.53h1.44v1.44h-1.44zM408.81 188.68h1.44v1.44h-1.44zM408.81 187.39h1.44v1.44h-1.44zM408.81 185.24h1.44v1.44h-1.44zM424.1 189.95h1.44v1.44h-1.44zM424.1 189.02h1.44v1.44h-1.44zM424.1 188.08h1.44v1.44h-1.44zM424.1 182.67h1.44v1.44h-1.44zM424.1 181.31h1.44v1.44h-1.44zM404.49 190.22h1.44v1.44h-1.44zM404.49 188.86h1.44v1.44h-1.44zM404.49 187.9h1.44v1.44h-1.44zM421.05 187.34h1.44v1.44h-1.44zM421.05 184.12h1.44v1.44h-1.44zM421.05 183.27h1.44v1.44h-1.44zM421.05 179.58h1.44v1.44h-1.44zM411.74 191.41h1.44v1.44h-1.44zM411.74 190.28h1.44v1.44h-1.44zM411.74 188.88h1.44v1.44h-1.44zM411.74 187.99h1.44v1.44h-1.44zM411.74 185.83h1.44v1.44h-1.44zM411.74 184.86h1.44v1.44h-1.44zM409.21 189.03h1.44v1.44h-1.44zM409.21 187.91h1.44v1.44h-1.44zM409.21 185.51h1.44v1.44h-1.44zM409.21 183.48h1.44v1.44h-1.44zM427.11 190.61h1.44v1.44h-1.44zM427.11 189.71h1.44v1.44h-1.44zM427.11 188.76h1.44v1.44h-1.44zM427.11 187.83h1.44v1.44h-1.44zM427.11 185.04h1.44v1.44h-1.44zM427.11 183.82h1.44v1.44h-1.44zM405.68 191.12h1.44v1.44h-1.44zM405.68 190.09h1.44v1.44h-1.44zM405.68 188.92h1.44v1.44h-1.44zM405.68 187.52h1.44v1.44h-1.44zM405.68 186.66h1.44v1.44h-1.44zM405.68 185.34h1.44v1.44h-1.44zM405.68 182.8h1.44v1.44h-1.44zM405.68 180.67h1.44v1.44h-1.44zM405.68 179.38h1.44v1.44h-1.44zM405.68 178.26h1.44v1.44h-1.44zM405.68 177.26h1.44v1.44h-1.44zM405.68 176.34h1.44v1.44h-1.44zM426.35 187.56h1.44v1.44h-1.44zM426.35 186.08h1.44v1.44h-1.44zM426.35 184.98h1.44v1.44h-1.44zM426.35 182.5h1.44v1.44h-1.44zM423.02 192.24h1.44v1.44h-1.44zM423.02 191.2h1.44v1.44h-1.44zM423.02 186.84h1.44v1.44h-1.44zM423.02 185.51h1.44v1.44h-1.44zM423.02 184.57h1.44v1.44h-1.44zM423.02 182.55h1.44v1.44h-1.44zM411.9 185.95h1.44v1.44h-1.44zM411.9 184.53h1.44v1.44h-1.44zM411.9 183.6h1.44v1.44h-1.44zM421.64 191.18h1.44v1.44h-1.44zM421.64 189.98h1.44v1.44h-1.44zM421.64 188.74h1.44v1.44h-1.44zM421.64 187.88h1.44v1.44h-1.44zM418.12 189.47h1.44v1.44h-1.44zM418.12 188.26h1.44v1.44h-1.44zM418.12 187.18h1.44v1.44h-1.44zM418.12 184.35h1.44v1.44h-1.44zM416.95 188.63h1.44v1.44h-1.44zM416.95 187.5h1.44v1.44h-1.44zM416.95 184.8h1.44v1.44h-1.44zM416.95 183.38h1.44v1.44h-1.44zM416.95 182.04h1.44v1.44h-1.44zM416.95 181h1.44v1.44h-1.44zM421.52 185.42h1.44v1.44h-1.44zM421.52 183.28h1.44v1.44h-1.44zM416.94 187.1h1.44v1.44h-1.44zM416.94 185.84h1.44v1.44h-1.44zM416.94 184.42h1.44v1.44h-1.44zM416.94 183.14h1.44v1.44h-1.44zM418.82 185.71h1.44v1.44h-1.44zM418.82 184.69h1.44v1.44h-1.44zM418.82 183.38h1.44v1.44h-1.44zM418.82 182.35h1.44v1.44h-1.44zM418.82 179.81h1.44v1.44h-1.44zM418.82 178.74h1.44v1.44h-1.44zM403.33 181.67h1.44v1.44h-1.44zM414.5 187.6h1.44v1.44h-1.44zM415 182.77h1.44v1.44h-1.44zM402.13 187.02h1.44v1.44h-1.44zM417.86 188.71h1.44v1.44h-1.44zM405.9 186.19h1.44v1.44h-1.44zM425.7 188.9h1.44v1.44h-1.44zM407.97 184.17h1.44v1.44h-1.44zM407.36 188.86h1.44v1.44h-1.44zM435.94 191.44h1.44v1.44h-1.44zM435.94 190.27h1.44v1.44h-1.44zM435.94 186.73h1.44v1.44h-1.44zM435.94 185.85h1.44v1.44h-1.44zM435.94 184.95h1.44v1.44h-1.44zM443.34 187.52h1.44v1.44h-1.44zM443.34 186.58h1.44v1.44h-1.44zM443.34 185.54h1.44v1.44h-1.44zM443.34 183.32h1.44v1.44h-1.44zM443.34 182.34h1.44v1.44h-1.44zM443.34 181.48h1.44v1.44h-1.44zM443.34 179.15h1.44v1.44h-1.44zM443.34 177.86h1.44v1.44h-1.44zM435.31 187.02h1.44v1.44h-1.44zM435.31 185.02h1.44v1.44h-1.44zM435.31 183.98h1.44v1.44h-1.44zM441.95 191.02h1.44v1.44h-1.44zM441.95 189.07h1.44v1.44h-1.44zM443.77 187.76h1.44v1.44h-1.44zM443.77 186.6h1.44v1.44h-1.44zM436.12 187.37h1.44v1.44h-1.44zM436.12 186.34h1.44v1.44h-1.44zM436.12 185.36h1.44v1.44h-1.44zM436.12 183.1h1.44v1.44h-1.44zM436.12 182.08h1.44v1.44h-1.44zM454.04 190.09h1.44v1.44h-1.44zM454.04 188.92h1.44v1.44h-1.44zM454.04 187.53h1.44v1.44h-1.44zM454.04 183.74h1.44v1.44h-1.44zM454.04 182.33h1.44v1.44h-1.44zM436.81 192.07h1.44v1.44h-1.44zM436.81 191.16h1.44v1.44h-1.44zM432.9 189.91h1.44v1.44h-1.44zM432.9 188.64h1.44v1.44h-1.44zM440.42 188.3h1.44v1.44h-1.44zM440.42 187.16h1.44v1.44h-1.44zM440.42 186.28h1.44v1.44h-1.44zM440.42 185.3h1.44v1.44h-1.44zM440.42 183.87h1.44v1.44h-1.44zM440.42 181.42h1.44v1.44h-1.44zM455.32 187.04h1.44v1.44h-1.44zM455.32 186.15h1.44v1.44h-1.44zM430.94 188.94h1.44v1.44h-1.44zM448.81 187.63h1.44v1.44h-1.44zM448.81 186.63h1.44v1.44h-1.44zM448.81 185.49h1.44v1.44h-1.44zM448.81 184.08h1.44v1.44h-1.44zM448.81 181.98h1.44v1.44h-1.44zM448.81 180.63h1.44v1.44h-1.44zM448.81 179.56h1.44v1.44h-1.44zM450.92 186.06h1.44v1.44h-1.44zM450.92 184.84h1.44v1.44h-1.44zM450.92 183.39h1.44v1.44h-1.44zM450.92 182.46h1.44v1.44h-1.44zM450.92 181.61h1.44v1.44h-1.44zM450.92 180.44h1.44v1.44h-1.44zM450.92 178.95h1.44v1.44h-1.44zM452.57 188.43h1.44v1.44h-1.44zM452.57 187.54h1.44v1.44h-1.44zM452.57 184.06h1.44v1.44h-1.44zM452.57 182.93h1.44v1.44h-1.44zM452.57 181.95h1.44v1.44h-1.44zM433.22 187h1.44v1.44h-1.44zM433.22 185.87h1.44v1.44h-1.44zM433.22 184.83h1.44v1.44h-1.44zM433.22 183.85h1.44v1.44h-1.44zM441.43 182.18h1.44v1.44h-1.44zM449.24 189.65h1.44v1.44h-1.44zM451.84 188.25h1.44v1.44h-1.44zM452.79 181.08h1.44v1.44h-1.44zM433.38 187.61h1.44v1.44h-1.44zM430.43 182.72h1.44v1.44h-1.44zM447 189.62h1.44v1.44h-1.44zM454.55 187.95h1.44v1.44h-1.44zM434.83 181.07h1.44v1.44h-1.44zM452.04 190.13h1.44v1.44h-1.44zM483.18 186.9h1.44v1.44h-1.44zM483.18 185.96h1.44v1.44h-1.44zM483.18 184.48h1.44v1.44h-1.44zM483.18 183.47h1.44v1.44h-1.44zM483.18 178.59h1.44v1.44h-1.44zM480.73 186.77h1.44v1.44h-1.44zM480.73 185.5h1.44v1.44h-1.44zM480.73 184.64h1.44v1.44h-1.44zM480.73 181.99h1.44v1.44h-1.44zM480.73 181.01h1.44v1.44h-1.44zM480.22 189.98h1.44v1.44h-1.44zM480.22 188.64h1.44v1.44h-1.44zM480.22 187.3h1.44v1.44h-1.44zM480.22 186.09h1.44v1.44h-1.44zM480.22 184.77h1.44v1.44h-1.44zM480.22 183.38h1.44v1.44h-1.44zM480.22 182.07h1.44v1.44h-1.44zM480.22 181.05h1.44v1.44h-1.44zM479.45 192.07h1.44v1.44h-1.44zM479.45 189.76h1.44v1.44h-1.44zM479.45 188.3h1.44v1.44h-1.44zM479.45 187.26h1.44v1.44h-1.44zM473.19 190.92h1.44v1.44h-1.44zM473.19 187.35h1.44v1.44h-1.44zM459.54 191.51h1.44v1.44h-1.44zM459.54 190.05h1.44v1.44h-1.44zM459.54 189.1h1.44v1.44h-1.44zM459.54 187.84h1.44v1.44h-1.44zM462.75 190.01h1.44v1.44h-1.44zM462.75 189.07h1.44v1.44h-1.44zM462.75 188.07h1.44v1.44h-1.44zM462.75 186.72h1.44v1.44h-1.44zM462.75 185.48h1.44v1.44h-1.44zM473.23 189h1.44v1.44h-1.44zM473.23 188.05h1.44v1.44h-1.44zM473.23 184.29h1.44v1.44h-1.44zM473.23 181.96h1.44v1.44h-1.44zM473.23 179.86h1.44v1.44h-1.44zM470.53 188.86h1.44v1.44h-1.44zM470.53 187.94h1.44v1.44h-1.44zM470.53 187.06h1.44v1.44h-1.44zM476.82 190.54h1.44v1.44h-1.44zM476.82 188.2h1.44v1.44h-1.44zM476.82 186.91h1.44v1.44h-1.44zM462.88 186.1h1.44v1.44h-1.44zM462.88 184.97h1.44v1.44h-1.44zM462.88 181.28h1.44v1.44h-1.44zM468.33 187.57h1.44v1.44h-1.44zM468.33 186.24h1.44v1.44h-1.44zM468.33 184.77h1.44v1.44h-1.44zM481.05 191.24h1.44v1.44h-1.44zM476.19 190.68h1.44v1.44h-1.44zM476.19 189.38h1.44v1.44h-1.44zM476.19 187.02h1.44v1.44h-1.44zM476.19 185.92h1.44v1.44h-1.44zM476.19 185.05h1.44v1.44h-1.44zM476.19 183.62h1.44v1.44h-1.44zM476.19 182.71h1.44v1.44h-1.44zM476.02 188.89h1.44v1.44h-1.44zM476.02 187.44h1.44v1.44h-1.44zM476.02 186.26h1.44v1.44h-1.44zM476.02 185.1h1.44v1.44h-1.44zM469.33 189.67h1.44v1.44h-1.44zM469.33 186.32h1.44v1.44h-1.44zM469.33 184.18h1.44v1.44h-1.44zM469.33 182.82h1.44v1.44h-1.44zM469.33 181.51h1.44v1.44h-1.44zM475.36 191.59h1.44v1.44h-1.44zM475.36 190.68h1.44v1.44h-1.44zM475.36 189.62h1.44v1.44h-1.44zM475.36 187.14h1.44v1.44h-1.44zM474.81 189.14h1.44v1.44h-1.44zM474.81 188.05h1.44v1.44h-1.44zM474.81 186.59h1.44v1.44h-1.44zM474.81 185.53h1.44v1.44h-1.44zM461.82 188.08h1.44v1.44h-1.44zM461.82 186.93h1.44v1.44h-1.44zM463.97 189.71h1.44v1.44h-1.44zM463.97 188.7h1.44v1.44h-1.44zM459.96 188.33h1.44v1.44h-1.44zM459.96 187.24h1.44v1.44h-1.44zM459.96 185.81h1.44v1.44h-1.44zM459.96 181.62h1.44v1.44h-1.44zM474.34 189.18h1.44v1.44h-1.44zM474.34 187.83h1.44v1.44h-1.44zM474.34 185.73h1.44v1.44h-1.44zM474.34 184.36h1.44v1.44h-1.44zM480.58 186.46h1.44v1.44h-1.44zM479.49 188.83h1.44v1.44h-1.44zM475.03 185.4h1.44v1.44h-1.44zM480.57 190.59h1.44v1.44h-1.44zM485.01 185.73h1.44v1.44h-1.44zM481.62 190.88h1.44v1.44h-1.44zM479.98 182.71h1.44v1.44h-1.44zM467.4 187.16h1.44v1.44h-1.44zM481.33 188.35h1.44v1.44h-1.44zM463.21 184.25h1.44v1.44h-1.44zM506.14 189.47h1.44v1.44h-1.44zM506.14 188.19h1.44v1.44h-1.44zM506.14 186.88h1.44v1.44h-1.44zM506.57 189.82h1.44v1.44h-1.44zM502.51 190.13h1.44v1.44h-1.44zM502.51 188.68h1.44v1.44h-1.44zM502.51 186.44h1.44v1.44h-1.44zM502.51 185.25h1.44v1.44h-1.44zM502.51 184.34h1.44v1.44h-1.44zM502.51 182.17h1.44v1.44h-1.44zM498.06 181.12h1.44v1.44h-1.44zM497.38 190.04h1.44v1.44h-1.44zM506.93 186.22h1.44v1.44h-1.44zM508.2 188.44h1.44v1.44h-1.44zM515.69 189.16h1.44v1.44h-1.44zM515.69 187.93h1.44v1.44h-1.44zM515.69 186.93h1.44v1.44h-1.44zM515.69 185.56h1.44v1.44h-1.44zM515.69 184.38h1.44v1.44h-1.44zM515.69 183.19h1.44v1.44h-1.44zM515.69 180.87h1.44v1.44h-1.44zM515.69 179.01h1.44v1.44h-1.44zM529.81 189.9h1.44v1.44h-1.44zM529.81 188.93h1.44v1.44h-1.44zM529.81 186.15h1.44v1.44h-1.44zM517.45 187.28h1.44v1.44h-1.44zM517.45 185.82h1.44v1.44h-1.44zM514.23 188.55h1.44v1.44h-1.44zM514.23 187.17h1.44v1.44h-1.44zM514.23 186.09h1.44v1.44h-1.44zM514.23 185.23h1.44v1.44h-1.44zM514.23 183.98h1.44v1.44h-1.44zM514.23 181.38h1.44v1.44h-1.44zM514.23 180.23h1.44v1.44h-1.44zM514.23 178.89h1.44v1.44h-1.44zM514.23 173.86h1.44v1.44h-1.44zM514.23 172.67h1.44v1.44h-1.44zM514.23 171.32h1.44v1.44h-1.44zM514.23 167.43h1.44v1.44h-1.44zM525.3 187.14h1.44v1.44h-1.44zM525.3 185.9h1.44v1.44h-1.44zM525.3 184.72h1.44v1.44h-1.44zM525.3 183.26h1.44v1.44h-1.44zM525.3 182.3h1.44v1.44h-1.44zM525.4 191.02h1.44v1.44h-1.44zM525.4 189.63h1.44v1.44h-1.44zM522.99 186.9h1.44v1.44h-1.44zM522.99 185.92h1.44v1.44h-1.44zM520.08 190.36h1.44v1.44h-1.44zM520.08 188.26h1.44v1.44h-1.44zM514.56 192.35h1.44v1.44h-1.44zM514.56 191.1h1.44v1.44h-1.44zM514.56 190.1h1.44v1.44h-1.44zM520.09 189.96h1.44v1.44h-1.44zM520.09 188.82h1.44v1.44h-1.44zM520.09 186.79h1.44v1.44h-1.44zM520.09 185.51h1.44v1.44h-1.44zM520.09 184.16h1.44v1.44h-1.44zM520.09 182.9h1.44v1.44h-1.44zM520.09 181.7h1.44v1.44h-1.44zM520.09 180.81h1.44v1.44h-1.44zM520.09 179.49h1.44v1.44h-1.44zM516.88 191.65h1.44v1.44h-1.44zM516.88 190.49h1.44v1.44h-1.44zM516.88 189.2h1.44v1.44h-1.44zM516.88 186.04h1.44v1.44h-1.44zM516.88 184.81h1.44v1.44h-1.44zM515.42 189.88h1.44v1.44h-1.44zM515.42 188.95h1.44v1.44h-1.44zM515.42 187.81h1.44v1.44h-1.44zM515.42 184.53h1.44v1.44h-1.44zM515.42 183.34h1.44v1.44h-1.44zM515.42 182.36h1.44v1.44h-1.44zM519.33 186.32h1.44v1.44h-1.44zM519.33 184.88h1.44v1.44h-1.44zM517.53 189.15h1.44v1.44h-1.44zM516.68 184.46h1.44v1.44h-1.44zM516.54 183.21h1.44v1.44h-1.44zM526.5 180.96h1.44v1.44h-1.44zM544.58 187.16h1.44v1.44h-1.44zM544.58 186.01h1.44v1.44h-1.44zM544.58 184.96h1.44v1.44h-1.44zM536.87 188.74h1.44v1.44h-1.44zM536.87 187.82h1.44v1.44h-1.44zM536.87 186.37h1.44v1.44h-1.44zM536.87 184.91h1.44v1.44h-1.44zM536.87 183.6h1.44v1.44h-1.44zM536.87 182.39h1.44v1.44h-1.44zM539.21 188.69h1.44v1.44h-1.44zM539.21 185.73h1.44v1.44h-1.44zM539.21 184.61h1.44v1.44h-1.44zM539.21 181.94h1.44v1.44h-1.44zM539.21 180.92h1.44v1.44h-1.44zM539.21 179.45h1.44v1.44h-1.44zM548.08 187.66h1.44v1.44h-1.44zM548.08 182.44h1.44v1.44h-1.44zM548.08 180.97h1.44v1.44h-1.44zM548.08 179.95h1.44v1.44h-1.44zM548.08 178.7h1.44v1.44h-1.44zM548.08 175.03h1.44v1.44h-1.44zM548.08 173.91h1.44v1.44h-1.44zM551.25 189.1h1.44v1.44h-1.44zM541.94 190.1h1.44v1.44h-1.44zM545.72 185.29h1.44v1.44h-1.44zM554.51 189.2h1.44v1.44h-1.44zM554.51 186.4h1.44v1.44h-1.44zM554.51 184.98h1.44v1.44h-1.44zM554.51 183.86h1.44v1.44h-1.44zM554.51 182.77h1.44v1.44h-1.44zM554.51 181.8h1.44v1.44h-1.44zM554.51 180.8h1.44v1.44h-1.44zM554.51 179.84h1.44v1.44h-1.44zM570.74 189.9h1.44v1.44h-1.44zM570.74 187.71h1.44v1.44h-1.44zM570.74 186.8h1.44v1.44h-1.44zM570.74 184.4h1.44v1.44h-1.44zM570.74 183.01h1.44v1.44h-1.44zM570.74 182.08h1.44v1.44h-1.44zM564.56 191.28h1.44v1.44h-1.44zM564.56 185.01h1.44v1.44h-1.44zM564.56 183.75h1.44v1.44h-1.44zM564.56 182.32h1.44v1.44h-1.44zM567.87 189.55h1.44v1.44h-1.44zM567.87 187.6h1.44v1.44h-1.44zM571.21 191.33h1.44v1.44h-1.44zM571.21 190.27h1.44v1.44h-1.44zM571.21 187.85h1.44v1.44h-1.44zM571.21 186.51h1.44v1.44h-1.44zM571.21 181.81h1.44v1.44h-1.44zM567.61 181.25h1.44v1.44h-1.44zM555.53 184.09h1.44v1.44h-1.44zM586.21 191.85h1.44v1.44h-1.44zM586.21 188.3h1.44v1.44h-1.44zM586.21 187.3h1.44v1.44h-1.44zM578.51 189.01h1.44v1.44h-1.44zM578.51 188h1.44v1.44h-1.44zM578.51 187.02h1.44v1.44h-1.44zM578.51 184.82h1.44v1.44h-1.44zM578.51 182.4h1.44v1.44h-1.44zM578.51 181.42h1.44v1.44h-1.44zM578.51 180.51h1.44v1.44h-1.44zM588.87 187.86h1.44v1.44h-1.44zM588.87 184.89h1.44v1.44h-1.44zM584.76 186.56h1.44v1.44h-1.44zM584.76 185.47h1.44v1.44h-1.44zM573.54 187.79h1.44v1.44h-1.44zM573.54 186.78h1.44v1.44h-1.44zM573.54 185.61h1.44v1.44h-1.44zM573.54 182.39h1.44v1.44h-1.44zM573.54 181.29h1.44v1.44h-1.44zM573.54 180.29h1.44v1.44h-1.44zM573.54 179.35h1.44v1.44h-1.44zM573.54 178.07h1.44v1.44h-1.44zM573.54 177.02h1.44v1.44h-1.44zM573.11 186.51h1.44v1.44h-1.44zM573.11 184.37h1.44v1.44h-1.44zM573.11 183.45h1.44v1.44h-1.44zM577.67 188.89h1.44v1.44h-1.44zM577.67 185.82h1.44v1.44h-1.44zM577.67 184.72h1.44v1.44h-1.44zM581.71 190.53h1.44v1.44h-1.44zM581.71 189.44h1.44v1.44h-1.44zM581.71 188.53h1.44v1.44h-1.44zM581.71 187.65h1.44v1.44h-1.44zM578.37 187.33h1.44v1.44h-1.44zM588.56 187.04h1.44v1.44h-1.44zM588.56 184.54h1.44v1.44h-1.44zM588.56 183.61h1.44v1.44h-1.44zM585.49 190.06h1.44v1.44h-1.44zM585.49 188.73h1.44v1.44h-1.44zM585.49 187.31h1.44v1.44h-1.44zM585.49 185.89h1.44v1.44h-1.44zM585.49 183.98h1.44v1.44h-1.44zM585.49 182.76h1.44v1.44h-1.44zM585.49 181.68h1.44v1.44h-1.44zM585.49 180.63h1.44v1.44h-1.44zM586.44 186.17h1.44v1.44h-1.44zM581.58 191.65h1.44v1.44h-1.44zM581.58 190.31h1.44v1.44h-1.44zM581.58 189.42h1.44v1.44h-1.44zM577.97 180.88h1.44v1.44h-1.44zM588.36 186.94h1.44v1.44h-1.44zM585.9 189.28h1.44v1.44h-1.44zM598.71 191.22h1.44v1.44h-1.44zM598.71 189.83h1.44v1.44h-1.44zM598.71 188.9h1.44v1.44h-1.44zM598.71 187.63h1.44v1.44h-1.44zM591.23 190.46h1.44v1.44h-1.44zM591.23 188.06h1.44v1.44h-1.44zM591.23 187.02h1.44v1.44h-1.44zM591.23 185.64h1.44v1.44h-1.44zM598.28 188.23h1.44v1.44h-1.44zM598.28 187.05h1.44v1.44h-1.44zM598.28 183.95h1.44v1.44h-1.44zM598.28 181.73h1.44v1.44h-1.44zM595.14 189.13h1.44v1.44h-1.44zM595.14 188.21h1.44v1.44h-1.44zM595.14 187.2h1.44v1.44h-1.44zM595.14 185.81h1.44v1.44h-1.44zM595.14 184.5h1.44v1.44h-1.44zM595.14 183.49h1.44v1.44h-1.44zM595.14 180.73h1.44v1.44h-1.44zM601.68 190.49h1.44v1.44h-1.44zM601.68 189.28h1.44v1.44h-1.44zM601.68 188.06h1.44v1.44h-1.44zM601.68 187.09h1.44v1.44h-1.44zM601.68 185.92h1.44v1.44h-1.44zM601.68 185.07h1.44v1.44h-1.44zM601.68 184.08h1.44v1.44h-1.44zM597.75 191.81h1.44v1.44h-1.44zM597.75 190.88h1.44v1.44h-1.44zM597.75 189.91h1.44v1.44h-1.44zM597.75 188.5h1.44v1.44h-1.44zM597.75 187.15h1.44v1.44h-1.44zM597.75 184.59h1.44v1.44h-1.44zM597.75 183.61h1.44v1.44h-1.44zM600.82 189.28h1.44v1.44h-1.44zM600.82 186.97h1.44v1.44h-1.44zM598.25 185.45h1.44v1.44h-1.44zM598.25 184.05h1.44v1.44h-1.44zM598.25 182.58h1.44v1.44h-1.44zM598.25 181.18h1.44v1.44h-1.44zM596.94 183.92h1.44v1.44h-1.44zM594.95 182.98h1.44v1.44h-1.44zM602.64 190.84h1.44v1.44h-1.44zM611.94 187.5h1.44v1.44h-1.44zM611.94 184.67h1.44v1.44h-1.44zM611.94 183.69h1.44v1.44h-1.44zM611.94 182.76h1.44v1.44h-1.44zM611.94 181.6h1.44v1.44h-1.44zM610.03 187.91h1.44v1.44h-1.44zM610.03 186.67h1.44v1.44h-1.44zM610.03 183.95h1.44v1.44h-1.44zM610.03 182.57h1.44v1.44h-1.44zM610.03 181.28h1.44v1.44h-1.44zM610.03 179.05h1.44v1.44h-1.44zM614.97 189.47h1.44v1.44h-1.44zM614.97 187.13h1.44v1.44h-1.44zM614.97 186.24h1.44v1.44h-1.44zM614.97 185.19h1.44v1.44h-1.44zM617.39 189.97h1.44v1.44h-1.44zM617.39 189h1.44v1.44h-1.44zM613.79 189.76h1.44v1.44h-1.44zM613.79 188.54h1.44v1.44h-1.44zM613.79 187.16h1.44v1.44h-1.44zM607.65 188.19h1.44v1.44h-1.44zM607.65 186.86h1.44v1.44h-1.44zM611.93 189.43h1.44v1.44h-1.44zM606.36 189.19h1.44v1.44h-1.44zM620.58 189.66h1.44v1.44h-1.44zM620.58 188.48h1.44v1.44h-1.44zM620.58 187.01h1.44v1.44h-1.44zM620.58 186.14h1.44v1.44h-1.44zM620.58 184.93h1.44v1.44h-1.44zM620.58 183.63h1.44v1.44h-1.44zM620.58 182.75h1.44v1.44h-1.44zM620.58 181.41h1.44v1.44h-1.44zM620.58 180.08h1.44v1.44h-1.44zM620.58 179.19h1.44v1.44h-1.44zM620.52 187.7h1.44v1.44h-1.44zM620.52 183.65h1.44v1.44h-1.44zM620.52 182.69h1.44v1.44h-1.44zM620.52 181.33h1.44v1.44h-1.44zM620.52 177.48h1.44v1.44h-1.44zM624.81 192.31h1.44v1.44h-1.44zM624.81 191.41h1.44v1.44h-1.44zM624.81 190.19h1.44v1.44h-1.44zM624.81 189.32h1.44v1.44h-1.44zM624.81 188.15h1.44v1.44h-1.44zM619.59 190.73h1.44v1.44h-1.44zM619.59 189.51h1.44v1.44h-1.44zM624.4 187.8h1.44v1.44h-1.44zM624.4 186.8h1.44v1.44h-1.44zM624.4 184.74h1.44v1.44h-1.44zM624.4 183.83h1.44v1.44h-1.44zM624.4 182.5h1.44v1.44h-1.44zM628.32 190.62h1.44v1.44h-1.44zM628.32 189.49h1.44v1.44h-1.44zM628.32 188.58h1.44v1.44h-1.44zM628.32 187.5h1.44v1.44h-1.44zM628.32 186.31h1.44v1.44h-1.44zM626.59 188.11h1.44v1.44h-1.44zM626.59 187.11h1.44v1.44h-1.44zM626.59 185.73h1.44v1.44h-1.44zM626.59 184.87h1.44v1.44h-1.44zM624.44 189.89h1.44v1.44h-1.44zM624.44 188.9h1.44v1.44h-1.44zM624.44 186.6h1.44v1.44h-1.44zM624.44 185.69h1.44v1.44h-1.44zM624.44 183.31h1.44v1.44h-1.44zM624.44 181.87h1.44v1.44h-1.44zM626.04 186.59h1.44v1.44h-1.44zM626.04 185.46h1.44v1.44h-1.44zM621.14 184.17h1.44v1.44h-1.44zM621.14 182.99h1.44v1.44h-1.44zM621.14 182.13h1.44v1.44h-1.44zM629.27 189.9h1.44v1.44h-1.44zM629.27 189.05h1.44v1.44h-1.44zM627.03 186.49h1.44v1.44h-1.44zM627.03 184.58h1.44v1.44h-1.44zM627.03 183.6h1.44v1.44h-1.44zM625.43 190.72h1.44v1.44h-1.44zM625.21 190.8h1.44v1.44h-1.44zM636.25 187.47h1.44v1.44h-1.44zM636.25 185.52h1.44v1.44h-1.44zM637.14 188.45h1.44v1.44h-1.44zM648.11 186.97h1.44v1.44h-1.44zM648.11 184.52h1.44v1.44h-1.44zM648.11 179.69h1.44v1.44h-1.44zM648.11 178.35h1.44v1.44h-1.44zM648.11 177.4h1.44v1.44h-1.44zM649.05 191.64h1.44v1.44h-1.44zM649.05 190.79h1.44v1.44h-1.44zM649.05 189.77h1.44v1.44h-1.44zM649.05 188.3h1.44v1.44h-1.44zM649.05 186.92h1.44v1.44h-1.44zM649.05 185.45h1.44v1.44h-1.44zM649.19 185.59h1.44v1.44h-1.44zM48.98 192.2h1.44v1.44h-1.44zM48.98 190.76h1.44v1.44h-1.44zM48.98 189.67h1.44v1.44h-1.44zM48.98 188.17h1.44v1.44h-1.44zM48.98 187.12h1.44v1.44h-1.44zM48.98 185.91h1.44v1.44h-1.44zM48.98 184.88h1.44v1.44h-1.44zM48.98 183.5h1.44v1.44h-1.44zM48.98 182.59h1.44v1.44h-1.44zM48.98 180.71h1.44v1.44h-1.44zM48.98 179.51h1.44v1.44h-1.44zM48.98 178.59h1.44v1.44h-1.44zM48.98 177.03h1.44v1.44h-1.44zM48.98 175.9h1.44v1.44h-1.44zM48.98 174.53h1.44v1.44h-1.44zM48.98 172.47h1.44v1.44h-1.44zM48.98 170.45h1.44v1.44h-1.44zM48.98 168.38h1.44v1.44h-1.44zM48.98 167.09h1.44v1.44h-1.44zM48.98 166h1.44v1.44h-1.44zM48.98 164.46h1.44v1.44h-1.44zM48.98 162.38h1.44v1.44h-1.44zM48.98 160.73h1.44v1.44h-1.44zM48.98 159.2h1.44v1.44h-1.44zM48.98 157.65h1.44v1.44h-1.44zM48.98 155.58h1.44v1.44h-1.44zM48.98 120.34h1.44v1.44h-1.44zM48.98 119.26h1.44v1.44h-1.44zM48.98 117.95h1.44v1.44h-1.44zM48.98 116.72h1.44v1.44h-1.44zM48.98 115.74h1.44v1.44h-1.44zM48.98 114.07h1.44v1.44h-1.44zM48.98 112.96h1.44v1.44h-1.44zM48.98 105.47h1.44v1.44h-1.44zM48.98 103.45h1.44v1.44h-1.44zM48.98 102.2h1.44v1.44h-1.44zM48.98 100.77h1.44v1.44h-1.44zM48.98 99.45h1.44v1.44h-1.44zM48.98 98.49h1.44v1.44h-1.44zM48.98 82.46h1.44v1.44h-1.44zM48.98 77.15h1.44v1.44h-1.44zM48.98 71.84h1.44v1.44h-1.44zM48.98 60.51h1.44v1.44h-1.44zM48.98 59.06h1.44v1.44h-1.44zM48.98 57.99h1.44v1.44h-1.44zM48.98 56.74h1.44v1.44h-1.44zM48.98 55.11h1.44v1.44h-1.44zM72.68 192.2h1.44v1.44h-1.44zM72.68 191.16h1.44v1.44h-1.44zM72.68 189.63h1.44v1.44h-1.44zM72.68 188.21h1.44v1.44h-1.44zM72.68 186.67h1.44v1.44h-1.44zM72.68 184.96h1.44v1.44h-1.44zM72.68 182.86h1.44v1.44h-1.44zM72.68 181.54h1.44v1.44h-1.44zM72.68 180.65h1.44v1.44h-1.44zM72.68 179.65h1.44v1.44h-1.44zM72.68 177.87h1.44v1.44h-1.44zM72.68 176.47h1.44v1.44h-1.44zM72.68 175.49h1.44v1.44h-1.44zM72.68 173.6h1.44v1.44h-1.44zM72.68 172.03h1.44v1.44h-1.44zM72.68 170.35h1.44v1.44h-1.44zM72.68 168.49h1.44v1.44h-1.44zM72.68 166.67h1.44v1.44h-1.44zM72.68 164.9h1.44v1.44h-1.44zM72.68 162.98h1.44v1.44h-1.44zM72.68 160.98h1.44v1.44h-1.44zM72.68 159.19h1.44v1.44h-1.44zM72.68 158.26h1.44v1.44h-1.44zM72.68 157.27h1.44v1.44h-1.44zM72.68 156.08h1.44v1.44h-1.44zM72.68 154.13h1.44v1.44h-1.44zM72.68 152.97h1.44v1.44h-1.44zM72.68 150.43h1.44v1.44h-1.44zM72.68 148.55h1.44v1.44h-1.44zM72.68 140.16h1.44v1.44h-1.44zM72.68 139.06h1.44v1.44h-1.44zM72.68 138.06h1.44v1.44h-1.44zM72.68 136.04h1.44v1.44h-1.44zM72.68 135.05h1.44v1.44h-1.44zM72.68 96.62h1.44v1.44h-1.44zM72.68 95.59h1.44v1.44h-1.44zM80.88 192.2h1.44v1.44h-1.44zM80.88 190.99h1.44v1.44h-1.44zM80.88 189.17h1.44v1.44h-1.44zM80.88 187.86h1.44v1.44h-1.44zM80.88 186.06h1.44v1.44h-1.44zM80.88 184.11h1.44v1.44h-1.44zM80.88 182.3h1.44v1.44h-1.44zM80.88 180.7h1.44v1.44h-1.44zM80.88 179.75h1.44v1.44h-1.44zM80.88 178.2h1.44v1.44h-1.44zM80.88 176.68h1.44v1.44h-1.44zM80.88 175.05h1.44v1.44h-1.44zM80.88 173.8h1.44v1.44h-1.44zM80.88 171.68h1.44v1.44h-1.44zM80.88 169.98h1.44v1.44h-1.44zM80.88 168.04h1.44v1.44h-1.44zM80.88 165.95h1.44v1.44h-1.44zM80.88 163.96h1.44v1.44h-1.44zM80.88 162.13h1.44v1.44h-1.44zM80.88 161.1h1.44v1.44h-1.44zM80.88 159.36h1.44v1.44h-1.44zM80.88 157.33h1.44v1.44h-1.44zM80.88 144.41h1.44v1.44h-1.44zM80.88 142.33h1.44v1.44h-1.44zM80.88 126.71h1.44v1.44h-1.44zM80.88 125.47h1.44v1.44h-1.44zM149.68 192.2h1.44v1.44h-1.44zM149.68 190.42h1.44v1.44h-1.44zM149.68 189.09h1.44v1.44h-1.44zM149.68 187.25h1.44v1.44h-1.44zM149.68 186.23h1.44v1.44h-1.44zM149.68 184.26h1.44v1.44h-1.44zM149.68 182.66h1.44v1.44h-1.44zM149.68 180.59h1.44v1.44h-1.44zM149.68 179.3h1.44v1.44h-1.44zM149.68 178.26h1.44v1.44h-1.44zM149.68 176.37h1.44v1.44h-1.44zM149.68 174.63h1.44v1.44h-1.44zM149.68 173.2h1.44v1.44h-1.44zM149.68 171.96h1.44v1.44h-1.44zM149.68 169.96h1.44v1.44h-1.44zM149.68 168.29h1.44v1.44h-1.44zM149.68 166.74h1.44v1.44h-1.44zM149.68 165.82h1.44v1.44h-1.44zM149.68 164.63h1.44v1.44h-1.44zM149.68 162.88h1.44v1.44h-1.44zM149.68 161.97h1.44v1.44h-1.44zM149.68 160.03h1.44v1.44h-1.44zM149.68 158.48h1.44v1.44h-1.44zM149.68 157.2h1.44v1.44h-1.44zM149.68 155.96h1.44v1.44h-1.44zM149.68 154.46h1.44v1.44h-1.44zM149.68 145.47h1.44v1.44h-1.44zM149.68 144.32h1.44v1.44h-1.44zM149.68 142.21h1.44v1.44h-1.44zM149.68 140.58h1.44v1.44h-1.44zM149.68 124.59h1.44v1.44h-1.44zM149.68 123h1.44v1.44h-1.44zM149.68 121.17h1.44v1.44h-1.44zM149.68 119.27h1.44v1.44h-1.44zM149.68 117.75h1.44v1.44h-1.44zM149.68 115.72h1.44v1.44h-1.44zM149.68 114.67h1.44v1.44h-1.44zM149.68 112.92h1.44v1.44h-1.44zM149.68 110.95h1.44v1.44h-1.44zM149.68 108.97h1.44v1.44h-1.44zM149.68 107.34h1.44v1.44h-1.44zM149.68 105.72h1.44v1.44h-1.44zM149.68 104.22h1.44v1.44h-1.44zM149.68 103.04h1.44v1.44h-1.44zM149.68 98.74h1.44v1.44h-1.44zM149.68 97.72h1.44v1.44h-1.44zM149.68 96.34h1.44v1.44h-1.44zM149.68 94.87h1.44v1.44h-1.44zM149.68 93.84h1.44v1.44h-1.44zM149.68 92.5h1.44v1.44h-1.44zM149.68 91.46h1.44v1.44h-1.44zM149.68 89.57h1.44v1.44h-1.44zM149.68 87.81h1.44v1.44h-1.44zM183.78 192.2h1.44v1.44h-1.44zM183.78 191.19h1.44v1.44h-1.44zM183.78 189.92h1.44v1.44h-1.44zM183.78 188.68h1.44v1.44h-1.44zM183.78 187.76h1.44v1.44h-1.44zM183.78 186.71h1.44v1.44h-1.44zM183.78 185.72h1.44v1.44h-1.44zM183.78 184.33h1.44v1.44h-1.44zM183.78 183.35h1.44v1.44h-1.44zM183.78 181.94h1.44v1.44h-1.44zM183.78 180.77h1.44v1.44h-1.44zM183.78 179.48h1.44v1.44h-1.44zM183.78 178.65h1.44v1.44h-1.44zM183.78 167.07h1.44v1.44h-1.44zM183.78 165.92h1.44v1.44h-1.44zM183.78 164.52h1.44v1.44h-1.44zM183.78 163.67h1.44v1.44h-1.44zM248.58 192.2h1.44v1.44h-1.44zM248.58 190.4h1.44v1.44h-1.44zM248.58 188.83h1.44v1.44h-1.44zM248.58 187.61h1.44v1.44h-1.44zM248.58 186.46h1.44v1.44h-1.44zM248.58 184.58h1.44v1.44h-1.44zM248.58 183.12h1.44v1.44h-1.44zM248.58 181.75h1.44v1.44h-1.44zM248.58 180.05h1.44v1.44h-1.44zM248.58 178.15h1.44v1.44h-1.44zM248.58 177.08h1.44v1.44h-1.44zM248.58 175.54h1.44v1.44h-1.44zM248.58 173.78h1.44v1.44h-1.44zM248.58 172.02h1.44v1.44h-1.44zM248.58 171.05h1.44v1.44h-1.44zM248.58 169.05h1.44v1.44h-1.44zM248.58 166.98h1.44v1.44h-1.44zM248.58 165.53h1.44v1.44h-1.44zM248.58 164.63h1.44v1.44h-1.44zM248.58 163.74h1.44v1.44h-1.44zM248.58 162.8h1.44v1.44h-1.44zM248.58 161.38h1.44v1.44h-1.44zM248.58 159.57h1.44v1.44h-1.44zM248.58 158.18h1.44v1.44h-1.44zM248.58 156.94h1.44v1.44h-1.44zM248.58 155.79h1.44v1.44h-1.44zM248.58 153.72h1.44v1.44h-1.44zM248.58 152.26h1.44v1.44h-1.44zM248.58 151.07h1.44v1.44h-1.44zM248.58 149.8h1.44v1.44h-1.44zM248.58 148.25h1.44v1.44h-1.44zM273.98 192.2h1.44v1.44h-1.44zM273.98 191.27h1.44v1.44h-1.44zM273.98 190.01h1.44v1.44h-1.44zM273.98 189.1h1.44v1.44h-1.44zM273.98 187.8h1.44v1.44h-1.44zM273.98 186.72h1.44v1.44h-1.44zM273.98 185.94h1.44v1.44h-1.44zM273.98 184.63h1.44v1.44h-1.44zM273.98 183.43h1.44v1.44h-1.44zM273.98 182.39h1.44v1.44h-1.44zM273.98 181.25h1.44v1.44h-1.44zM273.98 180.24h1.44v1.44h-1.44zM273.98 179.27h1.44v1.44h-1.44zM273.98 178.02h1.44v1.44h-1.44zM273.98 177.02h1.44v1.44h-1.44zM273.98 176.04h1.44v1.44h-1.44zM273.98 174.97h1.44v1.44h-1.44zM273.98 174.01h1.44v1.44h-1.44zM273.98 172.67h1.44v1.44h-1.44zM273.98 171.86h1.44v1.44h-1.44zM273.98 171.11h1.44v1.44h-1.44zM273.98 170.18h1.44v1.44h-1.44zM273.98 168.82h1.44v1.44h-1.44zM273.98 167.65h1.44v1.44h-1.44zM273.98 166.59h1.44v1.44h-1.44zM273.98 165.38h1.44v1.44h-1.44zM273.98 164.2h1.44v1.44h-1.44zM273.98 149.37h1.44v1.44h-1.44zM273.98 148.09h1.44v1.44h-1.44zM273.98 147.19h1.44v1.44h-1.44zM273.98 145.97h1.44v1.44h-1.44zM273.98 144.05h1.44v1.44h-1.44zM273.98 142.91h1.44v1.44h-1.44zM273.98 134.85h1.44v1.44h-1.44zM273.98 133.03h1.44v1.44h-1.44zM273.98 131.03h1.44v1.44h-1.44zM273.98 129.84h1.44v1.44h-1.44zM273.98 128.45h1.44v1.44h-1.44zM273.98 127.56h1.44v1.44h-1.44zM273.98 125.58h1.44v1.44h-1.44zM273.98 124.67h1.44v1.44h-1.44zM273.98 110.43h1.44v1.44h-1.44zM279.38 192.2h1.44v1.44h-1.44zM279.38 191.43h1.44v1.44h-1.44zM279.38 190.11h1.44v1.44h-1.44zM279.38 188.96h1.44v1.44h-1.44zM279.38 187.73h1.44v1.44h-1.44zM279.38 186.58h1.44v1.44h-1.44zM279.38 185.42h1.44v1.44h-1.44zM279.38 184.16h1.44v1.44h-1.44zM279.38 183.29h1.44v1.44h-1.44zM279.38 182.03h1.44v1.44h-1.44zM279.38 180.62h1.44v1.44h-1.44zM279.38 179.8h1.44v1.44h-1.44zM279.38 178.92h1.44v1.44h-1.44zM279.38 178.16h1.44v1.44h-1.44zM279.38 176.85h1.44v1.44h-1.44zM279.38 160.34h1.44v1.44h-1.44zM279.38 159.19h1.44v1.44h-1.44zM279.38 157.25h1.44v1.44h-1.44zM291.38 192.2h1.44v1.44h-1.44zM291.38 190.09h1.44v1.44h-1.44zM291.38 189.09h1.44v1.44h-1.44zM291.38 188.02h1.44v1.44h-1.44zM291.38 187.05h1.44v1.44h-1.44zM291.38 185.34h1.44v1.44h-1.44zM291.38 184.35h1.44v1.44h-1.44zM291.38 182.69h1.44v1.44h-1.44zM291.38 181.44h1.44v1.44h-1.44zM291.38 179.5h1.44v1.44h-1.44zM291.38 178.62h1.44v1.44h-1.44zM291.38 177.38h1.44v1.44h-1.44zM291.38 175.39h1.44v1.44h-1.44zM291.38 173.58h1.44v1.44h-1.44zM291.38 172.64h1.44v1.44h-1.44zM291.38 171.08h1.44v1.44h-1.44zM291.38 170.04h1.44v1.44h-1.44zM291.38 168.24h1.44v1.44h-1.44zM291.38 166.15h1.44v1.44h-1.44zM291.38 164.8h1.44v1.44h-1.44zM291.38 163.06h1.44v1.44h-1.44zM291.38 161.18h1.44v1.44h-1.44zM291.38 159.43h1.44v1.44h-1.44zM291.38 158.4h1.44v1.44h-1.44zM291.38 157.36h1.44v1.44h-1.44zM291.38 155.51h1.44v1.44h-1.44zM291.38 153.9h1.44v1.44h-1.44zM291.38 146.18h1.44v1.44h-1.44zM291.38 145.1h1.44v1.44h-1.44zM291.38 143.55h1.44v1.44h-1.44zM291.38 134.85h1.44v1.44h-1.44zM291.38 133.94h1.44v1.44h-1.44zM291.38 132.74h1.44v1.44h-1.44zM291.38 131.27h1.44v1.44h-1.44zM291.38 129.93h1.44v1.44h-1.44zM291.38 128.49h1.44v1.44h-1.44zM291.38 127.4h1.44v1.44h-1.44zM291.38 125.52h1.44v1.44h-1.44zM291.38 123.94h1.44v1.44h-1.44zM291.38 121.96h1.44v1.44h-1.44zM291.38 120.92h1.44v1.44h-1.44zM291.38 119.52h1.44v1.44h-1.44zM291.38 117.42h1.44v1.44h-1.44zM291.38 101.22h1.44v1.44h-1.44zM291.38 99.77h1.44v1.44h-1.44zM291.38 97.66h1.44v1.44h-1.44zM291.38 95.58h1.44v1.44h-1.44zM291.38 94.46h1.44v1.44h-1.44zM291.38 92.96h1.44v1.44h-1.44zM291.38 91.82h1.44v1.44h-1.44zM291.38 89.93h1.44v1.44h-1.44zM291.38 89.01h1.44v1.44h-1.44zM291.38 87.06h1.44v1.44h-1.44zM291.38 85.19h1.44v1.44h-1.44zM291.38 84.04h1.44v1.44h-1.44zM291.38 82.31h1.44v1.44h-1.44zM296.78 192.2h1.44v1.44h-1.44zM296.78 190.68h1.44v1.44h-1.44zM296.78 189.69h1.44v1.44h-1.44zM296.78 188.53h1.44v1.44h-1.44zM296.78 187.53h1.44v1.44h-1.44zM296.78 185.53h1.44v1.44h-1.44zM296.78 184.08h1.44v1.44h-1.44zM296.78 182.06h1.44v1.44h-1.44zM296.78 180.3h1.44v1.44h-1.44zM296.78 178.8h1.44v1.44h-1.44zM296.78 177.8h1.44v1.44h-1.44zM296.78 175.87h1.44v1.44h-1.44zM296.78 174.95h1.44v1.44h-1.44zM296.78 173.84h1.44v1.44h-1.44zM296.78 171.9h1.44v1.44h-1.44zM296.78 170.64h1.44v1.44h-1.44zM296.78 169.57h1.44v1.44h-1.44zM296.78 168.01h1.44v1.44h-1.44zM296.78 166.4h1.44v1.44h-1.44zM296.78 164.77h1.44v1.44h-1.44zM296.78 162.88h1.44v1.44h-1.44zM296.78 161.82h1.44v1.44h-1.44zM296.78 160.23h1.44v1.44h-1.44zM296.78 159.18h1.44v1.44h-1.44zM296.78 157.14h1.44v1.44h-1.44zM296.78 155.92h1.44v1.44h-1.44zM296.78 154.08h1.44v1.44h-1.44zM296.78 152.24h1.44v1.44h-1.44zM296.78 150.61h1.44v1.44h-1.44zM296.78 148.57h1.44v1.44h-1.44zM296.78 146.44h1.44v1.44h-1.44zM296.78 140.16h1.44v1.44h-1.44zM296.78 138.78h1.44v1.44h-1.44zM315.58 192.2h1.44v1.44h-1.44zM315.58 191.28h1.44v1.44h-1.44zM315.58 190.53h1.44v1.44h-1.44zM315.58 189.15h1.44v1.44h-1.44zM315.58 188.21h1.44v1.44h-1.44zM315.58 186.87h1.44v1.44h-1.44zM315.58 185.96h1.44v1.44h-1.44zM315.58 184.74h1.44v1.44h-1.44zM315.58 183.97h1.44v1.44h-1.44zM315.58 182.69h1.44v1.44h-1.44zM315.58 181.34h1.44v1.44h-1.44zM315.58 180.21h1.44v1.44h-1.44zM315.58 178.86h1.44v1.44h-1.44zM315.58 177.71h1.44v1.44h-1.44zM315.58 176.46h1.44v1.44h-1.44zM315.58 175.37h1.44v1.44h-1.44zM315.58 165.65h1.44v1.44h-1.44zM315.58 164.37h1.44v1.44h-1.44zM315.58 163.54h1.44v1.44h-1.44zM315.58 162.21h1.44v1.44h-1.44zM315.58 161.4h1.44v1.44h-1.44zM315.58 160.45h1.44v1.44h-1.44zM315.58 159.05h1.44v1.44h-1.44zM315.58 149.72h1.44v1.44h-1.44zM315.58 148.36h1.44v1.44h-1.44zM315.58 146.57h1.44v1.44h-1.44zM315.58 144.71h1.44v1.44h-1.44zM315.58 136.27h1.44v1.44h-1.44zM315.58 135.31h1.44v1.44h-1.44zM315.58 134.28h1.44v1.44h-1.44zM315.58 132.24h1.44v1.44h-1.44zM315.58 131.12h1.44v1.44h-1.44zM315.58 129.01h1.44v1.44h-1.44zM315.58 127.41h1.44v1.44h-1.44zM286.08 192.2h1.44v1.44h-1.44zM286.08 191.32h1.44v1.44h-1.44zM286.08 190.25h1.44v1.44h-1.44zM286.08 189.4h1.44v1.44h-1.44zM286.08 188.56h1.44v1.44h-1.44zM286.08 187.82h1.44v1.44h-1.44zM286.08 186.7h1.44v1.44h-1.44zM286.08 185.49h1.44v1.44h-1.44zM286.08 184.22h1.44v1.44h-1.44zM286.08 182.95h1.44v1.44h-1.44zM286.08 181.81h1.44v1.44h-1.44zM286.08 181.05h1.44v1.44h-1.44zM286.08 179.92h1.44v1.44h-1.44zM286.08 178.82h1.44v1.44h-1.44zM286.08 178.1h1.44v1.44h-1.44zM286.08 177.11h1.44v1.44h-1.44zM286.08 176.23h1.44v1.44h-1.44zM286.08 175.16h1.44v1.44h-1.44zM286.08 173.79h1.44v1.44h-1.44zM286.08 172.9h1.44v1.44h-1.44zM286.08 172.18h1.44v1.44h-1.44zM286.08 171.14h1.44v1.44h-1.44zM275.48 192.2h1.44v1.44h-1.44zM275.48 191.28h1.44v1.44h-1.44zM275.48 190.18h1.44v1.44h-1.44zM275.48 189.43h1.44v1.44h-1.44zM275.48 188.45h1.44v1.44h-1.44zM275.48 187.15h1.44v1.44h-1.44zM275.48 186.35h1.44v1.44h-1.44zM275.48 185.57h1.44v1.44h-1.44zM275.48 184.28h1.44v1.44h-1.44zM275.48 183.17h1.44v1.44h-1.44zM275.48 182.26h1.44v1.44h-1.44zM275.48 181.27h1.44v1.44h-1.44zM275.48 180.56h1.44v1.44h-1.44zM275.48 179.81h1.44v1.44h-1.44zM275.48 178.58h1.44v1.44h-1.44zM275.48 177.7h1.44v1.44h-1.44zM275.48 176.83h1.44v1.44h-1.44zM275.48 175.72h1.44v1.44h-1.44zM275.48 174.33h1.44v1.44h-1.44zM275.48 173.4h1.44v1.44h-1.44zM275.48 172.04h1.44v1.44h-1.44zM275.48 171.25h1.44v1.44h-1.44zM275.48 169.92h1.44v1.44h-1.44zM386.28 192.2h1.44v1.44h-1.44zM386.28 191.42h1.44v1.44h-1.44zM386.28 190.47h1.44v1.44h-1.44zM386.28 189.08h1.44v1.44h-1.44zM386.28 187.69h1.44v1.44h-1.44zM386.28 186.93h1.44v1.44h-1.44zM386.28 185.8h1.44v1.44h-1.44zM386.28 184.49h1.44v1.44h-1.44zM386.28 183.76h1.44v1.44h-1.44zM386.28 182.92h1.44v1.44h-1.44zM386.28 181.75h1.44v1.44h-1.44zM386.28 180.81h1.44v1.44h-1.44zM386.28 179.88h1.44v1.44h-1.44zM386.28 179.16h1.44v1.44h-1.44zM386.28 178.45h1.44v1.44h-1.44zM386.28 177.46h1.44v1.44h-1.44zM386.28 176.38h1.44v1.44h-1.44zM386.28 175.38h1.44v1.44h-1.44zM386.28 173.97h1.44v1.44h-1.44zM386.28 173.02h1.44v1.44h-1.44zM386.28 172.16h1.44v1.44h-1.44zM386.28 171.32h1.44v1.44h-1.44zM386.28 170.37h1.44v1.44h-1.44zM386.28 169.13h1.44v1.44h-1.44zM386.28 167.78h1.44v1.44h-1.44zM386.28 166.41h1.44v1.44h-1.44zM386.28 165.03h1.44v1.44h-1.44zM386.28 163.88h1.44v1.44h-1.44zM386.28 163h1.44v1.44h-1.44zM386.28 161.89h1.44v1.44h-1.44zM386.28 160.63h1.44v1.44h-1.44zM395.88 192.2h1.44v1.44h-1.44zM395.88 191.15h1.44v1.44h-1.44zM395.88 190.06h1.44v1.44h-1.44zM395.88 189.01h1.44v1.44h-1.44zM395.88 187.8h1.44v1.44h-1.44zM395.88 186.5h1.44v1.44h-1.44zM395.88 185.15h1.44v1.44h-1.44zM395.88 183.83h1.44v1.44h-1.44zM395.88 182.77h1.44v1.44h-1.44zM395.88 182.06h1.44v1.44h-1.44zM395.88 180.72h1.44v1.44h-1.44zM395.88 179.86h1.44v1.44h-1.44zM395.88 178.55h1.44v1.44h-1.44zM395.88 177.56h1.44v1.44h-1.44zM395.88 176.17h1.44v1.44h-1.44zM395.88 175.28h1.44v1.44h-1.44zM395.88 174.05h1.44v1.44h-1.44zM395.88 173.24h1.44v1.44h-1.44zM395.88 171.91h1.44v1.44h-1.44zM395.88 170.83h1.44v1.44h-1.44zM395.88 169.83h1.44v1.44h-1.44zM395.88 168.75h1.44v1.44h-1.44zM395.88 167.93h1.44v1.44h-1.44zM395.88 166.63h1.44v1.44h-1.44zM395.88 165.67h1.44v1.44h-1.44zM395.88 164.29h1.44v1.44h-1.44zM395.88 152.2h1.44v1.44h-1.44zM395.88 149.37h1.44v1.44h-1.44zM395.88 146.53h1.44v1.44h-1.44zM395.88 144.06h1.44v1.44h-1.44zM420.38 192.2h1.44v1.44h-1.44zM420.38 191.26h1.44v1.44h-1.44zM420.38 190.01h1.44v1.44h-1.44zM420.38 189.01h1.44v1.44h-1.44zM420.38 188.06h1.44v1.44h-1.44zM420.38 187.33h1.44v1.44h-1.44zM420.38 186.47h1.44v1.44h-1.44zM420.38 185.35h1.44v1.44h-1.44zM420.38 184.17h1.44v1.44h-1.44zM420.38 183.4h1.44v1.44h-1.44zM420.38 182.03h1.44v1.44h-1.44zM420.38 180.67h1.44v1.44h-1.44zM420.38 179.45h1.44v1.44h-1.44zM420.38 178.14h1.44v1.44h-1.44zM420.38 177.17h1.44v1.44h-1.44zM420.38 175.89h1.44v1.44h-1.44zM420.38 175h1.44v1.44h-1.44zM420.38 173.87h1.44v1.44h-1.44zM420.38 173h1.44v1.44h-1.44zM420.38 172.06h1.44v1.44h-1.44zM420.38 170.79h1.44v1.44h-1.44zM420.38 169.69h1.44v1.44h-1.44zM420.38 168.42h1.44v1.44h-1.44zM420.38 167.64h1.44v1.44h-1.44zM420.38 166.39h1.44v1.44h-1.44zM420.38 165.45h1.44v1.44h-1.44zM420.38 164.25h1.44v1.44h-1.44zM420.38 163.25h1.44v1.44h-1.44zM420.38 162.19h1.44v1.44h-1.44zM420.38 161.35h1.44v1.44h-1.44zM420.38 144.06h1.44v1.44h-1.44zM420.38 142.31h1.44v1.44h-1.44zM420.38 141.2h1.44v1.44h-1.44zM420.38 140.04h1.44v1.44h-1.44zM430.88 192.2h1.44v1.44h-1.44zM430.88 191.24h1.44v1.44h-1.44zM430.88 189.84h1.44v1.44h-1.44zM430.88 188.5h1.44v1.44h-1.44zM430.88 187.49h1.44v1.44h-1.44zM430.88 186.2h1.44v1.44h-1.44zM430.88 185.01h1.44v1.44h-1.44zM430.88 184.22h1.44v1.44h-1.44zM430.88 183.06h1.44v1.44h-1.44zM430.88 181.93h1.44v1.44h-1.44zM430.88 180.69h1.44v1.44h-1.44zM430.88 179.59h1.44v1.44h-1.44zM430.88 178.83h1.44v1.44h-1.44zM430.88 177.63h1.44v1.44h-1.44zM430.88 176.67h1.44v1.44h-1.44zM430.88 175.53h1.44v1.44h-1.44zM430.88 174.39h1.44v1.44h-1.44zM430.88 173.02h1.44v1.44h-1.44zM430.88 172h1.44v1.44h-1.44zM430.88 171.1h1.44v1.44h-1.44zM430.88 170.13h1.44v1.44h-1.44zM430.88 169.3h1.44v1.44h-1.44zM430.88 168.03h1.44v1.44h-1.44zM430.88 166.77h1.44v1.44h-1.44zM430.88 165.84h1.44v1.44h-1.44zM430.88 164.71h1.44v1.44h-1.44zM430.88 163.77h1.44v1.44h-1.44zM430.88 162.36h1.44v1.44h-1.44zM430.88 158.92h1.44v1.44h-1.44zM430.88 156.09h1.44v1.44h-1.44zM430.88 152.91h1.44v1.44h-1.44zM430.88 149.01h1.44v1.44h-1.44zM430.88 145.47h1.44v1.44h-1.44zM426.88 192.2h1.44v1.44h-1.44zM426.88 191.26h1.44v1.44h-1.44zM426.88 190.41h1.44v1.44h-1.44zM426.88 189.3h1.44v1.44h-1.44zM426.88 188.05h1.44v1.44h-1.44zM426.88 187.17h1.44v1.44h-1.44zM426.88 185.89h1.44v1.44h-1.44zM426.88 184.65h1.44v1.44h-1.44zM426.88 183.64h1.44v1.44h-1.44zM426.88 182.8h1.44v1.44h-1.44zM426.88 181.78h1.44v1.44h-1.44zM426.88 180.78h1.44v1.44h-1.44zM426.88 179.47h1.44v1.44h-1.44zM426.88 178.35h1.44v1.44h-1.44zM426.88 177.57h1.44v1.44h-1.44zM426.88 176.77h1.44v1.44h-1.44zM426.88 175.55h1.44v1.44h-1.44zM426.88 174.17h1.44v1.44h-1.44zM426.88 172.89h1.44v1.44h-1.44zM426.88 172.16h1.44v1.44h-1.44zM426.88 171.34h1.44v1.44h-1.44zM426.88 170.32h1.44v1.44h-1.44zM458.38 192.2h1.44v1.44h-1.44zM458.38 190.8h1.44v1.44h-1.44zM458.38 189.88h1.44v1.44h-1.44zM458.38 188.84h1.44v1.44h-1.44zM458.38 187.46h1.44v1.44h-1.44zM458.38 186.15h1.44v1.44h-1.44zM458.38 185.3h1.44v1.44h-1.44zM458.38 184.56h1.44v1.44h-1.44zM458.38 183.19h1.44v1.44h-1.44zM458.38 181.81h1.44v1.44h-1.44zM458.38 157.51h1.44v1.44h-1.44zM458.38 154.68h1.44v1.44h-1.44zM458.38 151.84h1.44v1.44h-1.44zM458.38 146.53h1.44v1.44h-1.44zM458.38 144.41h1.44v1.44h-1.44zM458.38 141.93h1.44v1.44h-1.44zM469.48 192.2h1.44v1.44h-1.44zM469.48 190.22h1.44v1.44h-1.44zM469.48 189.2h1.44v1.44h-1.44zM469.48 187.55h1.44v1.44h-1.44zM469.48 186.45h1.44v1.44h-1.44zM469.48 185.53h1.44v1.44h-1.44zM469.48 184.57h1.44v1.44h-1.44zM469.48 183.38h1.44v1.44h-1.44zM469.48 182.25h1.44v1.44h-1.44zM469.48 180.21h1.44v1.44h-1.44zM469.48 178.71h1.44v1.44h-1.44zM469.48 176.59h1.44v1.44h-1.44zM469.48 174.56h1.44v1.44h-1.44zM469.48 173.25h1.44v1.44h-1.44zM469.48 172.02h1.44v1.44h-1.44zM469.48 170.71h1.44v1.44h-1.44zM469.48 169.16h1.44v1.44h-1.44zM469.48 167.4h1.44v1.44h-1.44zM469.48 166.44h1.44v1.44h-1.44zM469.48 164.68h1.44v1.44h-1.44zM469.48 163.16h1.44v1.44h-1.44zM469.48 161.98h1.44v1.44h-1.44zM469.48 161.02h1.44v1.44h-1.44zM469.48 159.69h1.44v1.44h-1.44zM469.48 158.62h1.44v1.44h-1.44zM469.48 157.03h1.44v1.44h-1.44zM469.48 155.79h1.44v1.44h-1.44zM469.48 154.32h1.44v1.44h-1.44zM469.48 153.42h1.44v1.44h-1.44zM469.48 152.4h1.44v1.44h-1.44zM469.48 150.96h1.44v1.44h-1.44zM469.48 149.65h1.44v1.44h-1.44zM469.48 148.32h1.44v1.44h-1.44zM469.48 146.6h1.44v1.44h-1.44zM469.48 139.45h1.44v1.44h-1.44zM469.48 126h1.44v1.44h-1.44zM469.48 124.44h1.44v1.44h-1.44zM469.48 123.24h1.44v1.44h-1.44zM469.48 118.21h1.44v1.44h-1.44zM469.48 114.32h1.44v1.44h-1.44zM469.48 110.07h1.44v1.44h-1.44zM469.48 104.41h1.44v1.44h-1.44zM469.48 103.24h1.44v1.44h-1.44zM469.48 101.94h1.44v1.44h-1.44zM469.48 100.98h1.44v1.44h-1.44zM469.48 99.61h1.44v1.44h-1.44zM469.48 85.65h1.44v1.44h-1.44zM469.48 81.04h1.44v1.44h-1.44zM469.48 79.33h1.44v1.44h-1.44zM469.48 78.2h1.44v1.44h-1.44zM469.48 77.1h1.44v1.44h-1.44zM469.48 75.87h1.44v1.44h-1.44zM469.48 72.19h1.44v1.44h-1.44zM469.48 70.74h1.44v1.44h-1.44zM469.48 69.78h1.44v1.44h-1.44zM469.48 68.01h1.44v1.44h-1.44zM469.48 66.32h1.44v1.44h-1.44zM469.48 54.85h1.44v1.44h-1.44zM469.48 33.61h1.44v1.44h-1.44zM469.48 19.8h1.44v1.44h-1.44zM529.58 192.2h1.44v1.44h-1.44zM529.58 190.82h1.44v1.44h-1.44zM529.58 189.76h1.44v1.44h-1.44zM529.58 188.96h1.44v1.44h-1.44zM529.58 187.56h1.44v1.44h-1.44zM529.58 186.39h1.44v1.44h-1.44zM529.58 185.22h1.44v1.44h-1.44zM529.58 184.4h1.44v1.44h-1.44zM529.58 183.33h1.44v1.44h-1.44zM529.58 182.55h1.44v1.44h-1.44zM529.58 181.3h1.44v1.44h-1.44zM529.58 180.2h1.44v1.44h-1.44zM529.58 178.84h1.44v1.44h-1.44zM529.58 178.07h1.44v1.44h-1.44zM529.58 170.61h1.44v1.44h-1.44zM529.58 169.58h1.44v1.44h-1.44zM529.58 168.77h1.44v1.44h-1.44zM529.58 167.4h1.44v1.44h-1.44zM523.58 192.2h1.44v1.44h-1.44zM523.58 191.3h1.44v1.44h-1.44zM523.58 190.47h1.44v1.44h-1.44zM523.58 189.08h1.44v1.44h-1.44zM523.58 188.03h1.44v1.44h-1.44zM523.58 186.98h1.44v1.44h-1.44zM523.58 185.93h1.44v1.44h-1.44zM523.58 184.79h1.44v1.44h-1.44zM523.58 183.53h1.44v1.44h-1.44zM523.58 182.53h1.44v1.44h-1.44zM523.58 181.43h1.44v1.44h-1.44zM523.58 180.49h1.44v1.44h-1.44zM523.58 179.62h1.44v1.44h-1.44zM523.58 178.34h1.44v1.44h-1.44zM622.68 192.2h1.44v1.44h-1.44zM622.68 191.39h1.44v1.44h-1.44zM622.68 190.12h1.44v1.44h-1.44zM622.68 189.11h1.44v1.44h-1.44zM622.68 188.29h1.44v1.44h-1.44zM622.68 187.5h1.44v1.44h-1.44zM622.68 186.6h1.44v1.44h-1.44zM622.68 185.6h1.44v1.44h-1.44zM622.68 184.2h1.44v1.44h-1.44zM622.68 182.99h1.44v1.44h-1.44zM622.68 181.77h1.44v1.44h-1.44zM622.68 181.03h1.44v1.44h-1.44zM622.68 180.16h1.44v1.44h-1.44zM622.68 179.01h1.44v1.44h-1.44zM622.68 178.07h1.44v1.44h-1.44zM622.68 176.85h1.44v1.44h-1.44zM622.68 176.12h1.44v1.44h-1.44zM622.68 174.8h1.44v1.44h-1.44zM622.68 173.69h1.44v1.44h-1.44zM622.68 172.48h1.44v1.44h-1.44zM622.68 171.55h1.44v1.44h-1.44zM622.68 170.62h1.44v1.44h-1.44zM622.68 169.43h1.44v1.44h-1.44zM622.68 168.71h1.44v1.44h-1.44zM622.68 167.89h1.44v1.44h-1.44zM622.68 166.73h1.44v1.44h-1.44zM622.68 165.75h1.44v1.44h-1.44zM622.68 159.63h1.44v1.44h-1.44zM622.68 157.81h1.44v1.44h-1.44zM622.68 156.44h1.44v1.44h-1.44zM614.98 185.47h1.44v1.44h-1.44zM614.98 184.43h1.44v1.44h-1.44zM614.98 183.48h1.44v1.44h-1.44zM614.98 182.61h1.44v1.44h-1.44zM614.98 181.84h1.44v1.44h-1.44zM614.98 181.02h1.44v1.44h-1.44zM614.98 179.65h1.44v1.44h-1.44zM614.98 178.75h1.44v1.44h-1.44zM614.98 177.59h1.44v1.44h-1.44zM614.98 176.3h1.44v1.44h-1.44zM614.98 175.39h1.44v1.44h-1.44zM614.98 174.54h1.44v1.44h-1.44zM614.98 173.21h1.44v1.44h-1.44zM614.98 172.27h1.44v1.44h-1.44zM614.98 171.52h1.44v1.44h-1.44zM614.98 170.32h1.44v1.44h-1.44zM614.98 168.95h1.44v1.44h-1.44zM614.98 168.13h1.44v1.44h-1.44zM614.98 167.26h1.44v1.44h-1.44zM614.98 166.46h1.44v1.44h-1.44zM614.98 165.1h1.44v1.44h-1.44zM599.08 192.2h1.44v1.44h-1.44zM599.08 191.27h1.44v1.44h-1.44zM599.08 190.46h1.44v1.44h-1.44zM599.08 189.55h1.44v1.44h-1.44zM599.08 188.37h1.44v1.44h-1.44zM599.08 187.37h1.44v1.44h-1.44zM599.08 186.16h1.44v1.44h-1.44zM599.08 185.07h1.44v1.44h-1.44zM599.08 184.14h1.44v1.44h-1.44zM599.08 183.16h1.44v1.44h-1.44zM599.08 182h1.44v1.44h-1.44zM599.08 181.28h1.44v1.44h-1.44zM599.08 180.22h1.44v1.44h-1.44zM599.08 179.08h1.44v1.44h-1.44zM599.08 178.02h1.44v1.44h-1.44zM599.08 177.19h1.44v1.44h-1.44zM599.08 176.07h1.44v1.44h-1.44zM599.08 174.85h1.44v1.44h-1.44zM599.08 173.44h1.44v1.44h-1.44zM599.08 166.36h1.44v1.44h-1.44zM599.08 165.32h1.44v1.44h-1.44zM599.08 164.46h1.44v1.44h-1.44zM599.08 163.52h1.44v1.44h-1.44zM599.08 162.61h1.44v1.44h-1.44zM599.08 161.62h1.44v1.44h-1.44zM584.98 163.88h1.44v1.44h-1.44zM584.98 162.84h1.44v1.44h-1.44zM583.08 192.2h1.44v1.44h-1.44zM583.08 191.46h1.44v1.44h-1.44zM583.08 190.33h1.44v1.44h-1.44zM583.08 189.52h1.44v1.44h-1.44zM583.08 188.53h1.44v1.44h-1.44zM583.08 187.56h1.44v1.44h-1.44zM583.08 186.58h1.44v1.44h-1.44zM583.08 185.52h1.44v1.44h-1.44zM583.08 184.22h1.44v1.44h-1.44zM583.08 183.1h1.44v1.44h-1.44zM583.08 182.01h1.44v1.44h-1.44zM583.08 180.6h1.44v1.44h-1.44zM583.08 179.41h1.44v1.44h-1.44zM583.08 178.69h1.44v1.44h-1.44zM583.08 172.38h1.44v1.44h-1.44zM583.08 171.33h1.44v1.44h-1.44zM583.08 170.52h1.44v1.44h-1.44zM583.08 169.65h1.44v1.44h-1.44zM583.08 168.61h1.44v1.44h-1.44zM583.08 167.4h1.44v1.44h-1.44zM331.98 192.2h1.44v1.44h-1.44zM331.98 191.44h1.44v1.44h-1.44zM331.98 190.24h1.44v1.44h-1.44zM331.98 188.87h1.44v1.44h-1.44zM331.98 187.83h1.44v1.44h-1.44zM331.98 187.01h1.44v1.44h-1.44zM331.98 186.29h1.44v1.44h-1.44zM331.98 185.38h1.44v1.44h-1.44zM331.98 184.02h1.44v1.44h-1.44zM331.98 183.21h1.44v1.44h-1.44zM331.98 181.79h1.44v1.44h-1.44zM331.98 181.06h1.44v1.44h-1.44zM331.98 179.74h1.44v1.44h-1.44zM331.98 178.5h1.44v1.44h-1.44zM346.08 173.79h1.44v1.44h-1.44z"/>
<path fill="#ee7b4e" d="M48.92 182.53h1.56v1.56h-1.56zM48.92 180.65h1.56v1.56h-1.56zM48.92 179.45h1.56v1.56h-1.56zM48.92 178.53h1.56v1.56h-1.56zM48.92 176.97h1.56v1.56h-1.56zM48.92 175.84h1.56v1.56h-1.56zM48.92 174.47h1.56v1.56h-1.56zM48.92 172.41h1.56v1.56h-1.56zM48.92 170.39h1.56v1.56h-1.56zM48.92 168.32h1.56v1.56h-1.56zM48.92 167.03h1.56v1.56h-1.56zM48.92 165.94h1.56v1.56h-1.56zM48.92 164.4h1.56v1.56h-1.56zM48.92 162.32h1.56v1.56h-1.56zM48.92 160.67h1.56v1.56h-1.56zM48.92 159.14h1.56v1.56h-1.56zM48.92 157.59h1.56v1.56h-1.56zM48.92 155.52h1.56v1.56h-1.56zM48.92 120.28h1.56v1.56h-1.56zM48.92 119.2h1.56v1.56h-1.56zM48.92 117.89h1.56v1.56h-1.56zM48.92 116.66h1.56v1.56h-1.56zM48.92 115.68h1.56v1.56h-1.56zM48.92 114.01h1.56v1.56h-1.56zM48.92 112.9h1.56v1.56h-1.56zM48.92 105.41h1.56v1.56h-1.56zM48.92 103.39h1.56v1.56h-1.56zM48.92 102.14h1.56v1.56h-1.56zM48.92 100.71h1.56v1.56h-1.56zM48.92 99.39h1.56v1.56h-1.56zM48.92 98.43h1.56v1.56h-1.56zM72.62 182.8h1.56v1.56h-1.56zM72.62 181.48h1.56v1.56h-1.56zM72.62 180.59h1.56v1.56h-1.56zM72.62 179.59h1.56v1.56h-1.56zM72.62 177.81h1.56v1.56h-1.56zM72.62 176.41h1.56v1.56h-1.56zM72.62 175.43h1.56v1.56h-1.56zM72.62 173.54h1.56v1.56h-1.56zM72.62 171.97h1.56v1.56h-1.56zM72.62 170.29h1.56v1.56h-1.56zM72.62 168.43h1.56v1.56h-1.56zM72.62 166.61h1.56v1.56h-1.56zM72.62 164.84h1.56v1.56h-1.56zM72.62 162.92h1.56v1.56h-1.56zM72.62 160.92h1.56v1.56h-1.56zM72.62 159.13h1.56v1.56h-1.56zM72.62 158.2h1.56v1.56h-1.56zM72.62 157.21h1.56v1.56h-1.56zM72.62 156.02h1.56v1.56h-1.56zM72.62 154.07h1.56v1.56h-1.56zM72.62 152.91h1.56v1.56h-1.56zM72.62 150.37h1.56v1.56h-1.56zM72.62 148.49h1.56v1.56h-1.56zM72.62 140.1h1.56v1.56h-1.56zM72.62 139h1.56v1.56h-1.56zM72.62 138h1.56v1.56h-1.56zM72.62 135.98h1.56v1.56h-1.56zM72.62 134.99h1.56v1.56h-1.56zM72.62 96.56h1.56v1.56h-1.56zM72.62 95.53h1.56v1.56h-1.56zM80.82 182.24h1.56v1.56h-1.56zM80.82 180.64h1.56v1.56h-1.56zM80.82 179.69h1.56v1.56h-1.56zM80.82 178.14h1.56v1.56h-1.56zM80.82 176.62h1.56v1.56h-1.56zM80.82 174.99h1.56v1.56h-1.56zM80.82 173.74h1.56v1.56h-1.56zM80.82 171.62h1.56v1.56h-1.56zM80.82 169.92h1.56v1.56h-1.56zM80.82 167.98h1.56v1.56h-1.56zM80.82 165.89h1.56v1.56h-1.56zM80.82 163.9h1.56v1.56h-1.56zM80.82 162.07h1.56v1.56h-1.56zM80.82 161.04h1.56v1.56h-1.56zM80.82 159.3h1.56v1.56h-1.56zM80.82 157.27h1.56v1.56h-1.56zM80.82 144.35h1.56v1.56h-1.56zM80.82 142.27h1.56v1.56h-1.56zM80.82 126.65h1.56v1.56h-1.56zM80.82 125.41h1.56v1.56h-1.56zM149.62 182.6h1.56v1.56h-1.56zM149.62 180.53h1.56v1.56h-1.56zM149.62 179.24h1.56v1.56h-1.56zM149.62 178.2h1.56v1.56h-1.56zM149.62 176.31h1.56v1.56h-1.56zM149.62 174.57h1.56v1.56h-1.56zM149.62 173.14h1.56v1.56h-1.56zM149.62 171.9h1.56v1.56h-1.56zM149.62 169.9h1.56v1.56h-1.56zM149.62 168.23h1.56v1.56h-1.56zM149.62 166.68h1.56v1.56h-1.56zM149.62 165.76h1.56v1.56h-1.56zM149.62 164.57h1.56v1.56h-1.56zM149.62 162.82h1.56v1.56h-1.56zM149.62 161.91h1.56v1.56h-1.56zM149.62 159.97h1.56v1.56h-1.56zM149.62 158.42h1.56v1.56h-1.56zM149.62 157.14h1.56v1.56h-1.56zM149.62 155.9h1.56v1.56h-1.56zM149.62 154.4h1.56v1.56h-1.56zM149.62 145.41h1.56v1.56h-1.56zM149.62 144.26h1.56v1.56h-1.56zM149.62 142.15h1.56v1.56h-1.56zM149.62 140.52h1.56v1.56h-1.56zM149.62 124.53h1.56v1.56h-1.56zM149.62 122.94h1.56v1.56h-1.56zM149.62 121.11h1.56v1.56h-1.56zM149.62 119.21h1.56v1.56h-1.56zM149.62 117.69h1.56v1.56h-1.56zM149.62 115.66h1.56v1.56h-1.56zM149.62 114.61h1.56v1.56h-1.56zM149.62 112.86h1.56v1.56h-1.56zM149.62 110.89h1.56v1.56h-1.56zM149.62 108.91h1.56v1.56h-1.56zM149.62 107.28h1.56v1.56h-1.56zM149.62 105.66h1.56v1.56h-1.56zM149.62 104.16h1.56v1.56h-1.56zM149.62 102.98h1.56v1.56h-1.56zM149.62 98.68h1.56v1.56h-1.56zM149.62 97.66h1.56v1.56h-1.56zM149.62 96.28h1.56v1.56h-1.56zM149.62 94.81h1.56v1.56h-1.56zM149.62 93.78h1.56v1.56h-1.56zM183.72 183.29h1.56v1.56h-1.56zM183.72 181.88h1.56v1.56h-1.56zM183.72 180.71h1.56v1.56h-1.56zM183.72 179.42h1.56v1.56h-1.56zM183.72 178.59h1.56v1.56h-1.56zM183.72 167.01h1.56v1.56h-1.56zM183.72 165.86h1.56v1.56h-1.56zM183.72 164.46h1.56v1.56h-1.56zM183.72 163.61h1.56v1.56h-1.56zM248.52 183.06h1.56v1.56h-1.56zM248.52 181.69h1.56v1.56h-1.56zM248.52 179.99h1.56v1.56h-1.56zM248.52 178.09h1.56v1.56h-1.56zM248.52 177.02h1.56v1.56h-1.56zM248.52 175.48h1.56v1.56h-1.56zM248.52 173.72h1.56v1.56h-1.56zM248.52 171.96h1.56v1.56h-1.56zM248.52 170.99h1.56v1.56h-1.56zM248.52 168.99h1.56v1.56h-1.56zM248.52 166.92h1.56v1.56h-1.56zM248.52 165.47h1.56v1.56h-1.56zM248.52 164.57h1.56v1.56h-1.56zM248.52 163.68h1.56v1.56h-1.56zM248.52 162.74h1.56v1.56h-1.56zM248.52 161.32h1.56v1.56h-1.56zM248.52 159.51h1.56v1.56h-1.56zM248.52 158.12h1.56v1.56h-1.56zM248.52 156.88h1.56v1.56h-1.56zM248.52 155.73h1.56v1.56h-1.56zM248.52 153.66h1.56v1.56h-1.56zM248.52 152.2h1.56v1.56h-1.56zM248.52 151.01h1.56v1.56h-1.56zM248.52 149.74h1.56v1.56h-1.56zM248.52 148.19h1.56v1.56h-1.56zM273.92 182.33h1.56v1.56h-1.56zM273.92 181.19h1.56v1.56h-1.56zM273.92 180.18h1.56v1.56h-1.56zM273.92 179.21h1.56v1.56h-1.56zM273.92 177.96h1.56v1.56h-1.56zM273.92 176.96h1.56v1.56h-1.56zM273.92 175.98h1.56v1.56h-1.56zM273.92 174.91h1.56v1.56h-1.56zM273.92 173.95h1.56v1.56h-1.56zM273.92 172.61h1.56v1.56h-1.56zM273.92 171.8h1.56v1.56h-1.56zM273.92 171.05h1.56v1.56h-1.56zM273.92 170.12h1.56v1.56h-1.56zM273.92 168.76h1.56v1.56h-1.56zM273.92 167.59h1.56v1.56h-1.56zM273.92 166.53h1.56v1.56h-1.56zM273.92 165.32h1.56v1.56h-1.56zM273.92 164.14h1.56v1.56h-1.56zM273.92 149.31h1.56v1.56h-1.56zM273.92 148.03h1.56v1.56h-1.56zM273.92 147.13h1.56v1.56h-1.56zM273.92 145.91h1.56v1.56h-1.56zM273.92 143.99h1.56v1.56h-1.56zM273.92 142.85h1.56v1.56h-1.56zM273.92 134.79h1.56v1.56h-1.56zM273.92 132.97h1.56v1.56h-1.56zM273.92 130.97h1.56v1.56h-1.56zM273.92 129.78h1.56v1.56h-1.56zM273.92 128.39h1.56v1.56h-1.56zM273.92 127.5h1.56v1.56h-1.56zM273.92 125.52h1.56v1.56h-1.56zM273.92 124.61h1.56v1.56h-1.56zM273.92 110.37h1.56v1.56h-1.56zM279.32 183.23h1.56v1.56h-1.56zM279.32 181.97h1.56v1.56h-1.56zM279.32 180.56h1.56v1.56h-1.56zM279.32 179.74h1.56v1.56h-1.56zM279.32 178.86h1.56v1.56h-1.56zM279.32 178.1h1.56v1.56h-1.56zM279.32 176.79h1.56v1.56h-1.56zM279.32 160.28h1.56v1.56h-1.56zM279.32 159.13h1.56v1.56h-1.56zM279.32 157.19h1.56v1.56h-1.56zM291.32 182.63h1.56v1.56h-1.56zM291.32 181.38h1.56v1.56h-1.56zM291.32 179.44h1.56v1.56h-1.56zM291.32 178.56h1.56v1.56h-1.56zM291.32 177.32h1.56v1.56h-1.56zM291.32 175.33h1.56v1.56h-1.56zM291.32 173.52h1.56v1.56h-1.56zM291.32 172.58h1.56v1.56h-1.56zM291.32 171.02h1.56v1.56h-1.56zM291.32 169.98h1.56v1.56h-1.56zM291.32 168.18h1.56v1.56h-1.56zM291.32 166.09h1.56v1.56h-1.56zM291.32 164.74h1.56v1.56h-1.56zM291.32 163h1.56v1.56h-1.56zM291.32 161.12h1.56v1.56h-1.56zM291.32 159.37h1.56v1.56h-1.56zM291.32 158.34h1.56v1.56h-1.56zM291.32 157.3h1.56v1.56h-1.56zM291.32 155.45h1.56v1.56h-1.56zM291.32 153.84h1.56v1.56h-1.56zM291.32 146.12h1.56v1.56h-1.56zM291.32 145.04h1.56v1.56h-1.56zM291.32 143.49h1.56v1.56h-1.56zM291.32 134.79h1.56v1.56h-1.56zM291.32 133.88h1.56v1.56h-1.56zM291.32 132.68h1.56v1.56h-1.56zM291.32 131.21h1.56v1.56h-1.56zM291.32 129.87h1.56v1.56h-1.56zM291.32 128.43h1.56v1.56h-1.56zM291.32 127.34h1.56v1.56h-1.56zM291.32 125.46h1.56v1.56h-1.56zM291.32 123.88h1.56v1.56h-1.56zM291.32 121.9h1.56v1.56h-1.56zM291.32 120.86h1.56v1.56h-1.56zM291.32 119.46h1.56v1.56h-1.56zM291.32 117.36h1.56v1.56h-1.56zM291.32 101.16h1.56v1.56h-1.56zM291.32 99.71h1.56v1.56h-1.56zM291.32 97.6h1.56v1.56h-1.56zM291.32 95.52h1.56v1.56h-1.56zM291.32 94.4h1.56v1.56h-1.56zM296.72 182h1.56v1.56h-1.56zM296.72 180.24h1.56v1.56h-1.56zM296.72 178.74h1.56v1.56h-1.56zM296.72 177.74h1.56v1.56h-1.56zM296.72 175.81h1.56v1.56h-1.56zM296.72 174.89h1.56v1.56h-1.56zM296.72 173.78h1.56v1.56h-1.56zM296.72 171.84h1.56v1.56h-1.56zM296.72 170.58h1.56v1.56h-1.56zM296.72 169.51h1.56v1.56h-1.56zM296.72 167.95h1.56v1.56h-1.56zM296.72 166.34h1.56v1.56h-1.56zM296.72 164.71h1.56v1.56h-1.56zM296.72 162.82h1.56v1.56h-1.56zM296.72 161.76h1.56v1.56h-1.56zM296.72 160.17h1.56v1.56h-1.56zM296.72 159.12h1.56v1.56h-1.56zM296.72 157.08h1.56v1.56h-1.56zM296.72 155.86h1.56v1.56h-1.56zM296.72 154.02h1.56v1.56h-1.56zM296.72 152.18h1.56v1.56h-1.56zM296.72 150.55h1.56v1.56h-1.56zM296.72 148.51h1.56v1.56h-1.56zM296.72 146.38h1.56v1.56h-1.56zM296.72 140.1h1.56v1.56h-1.56zM296.72 138.72h1.56v1.56h-1.56zM315.52 182.63h1.56v1.56h-1.56zM315.52 181.28h1.56v1.56h-1.56zM315.52 180.15h1.56v1.56h-1.56zM315.52 178.8h1.56v1.56h-1.56zM315.52 177.65h1.56v1.56h-1.56zM315.52 176.4h1.56v1.56h-1.56zM315.52 175.31h1.56v1.56h-1.56zM315.52 165.59h1.56v1.56h-1.56zM315.52 164.31h1.56v1.56h-1.56zM315.52 163.48h1.56v1.56h-1.56zM315.52 162.15h1.56v1.56h-1.56zM315.52 161.34h1.56v1.56h-1.56zM315.52 160.39h1.56v1.56h-1.56zM315.52 158.99h1.56v1.56h-1.56zM315.52 149.66h1.56v1.56h-1.56zM315.52 148.3h1.56v1.56h-1.56zM315.52 146.51h1.56v1.56h-1.56zM315.52 144.65h1.56v1.56h-1.56zM315.52 136.21h1.56v1.56h-1.56zM315.52 135.25h1.56v1.56h-1.56zM315.52 134.22h1.56v1.56h-1.56zM315.52 132.18h1.56v1.56h-1.56zM315.52 131.06h1.56v1.56h-1.56zM315.52 128.95h1.56v1.56h-1.56zM315.52 127.35h1.56v1.56h-1.56zM286.02 182.89h1.56v1.56h-1.56zM286.02 181.75h1.56v1.56h-1.56zM286.02 180.99h1.56v1.56h-1.56zM286.02 179.86h1.56v1.56h-1.56zM286.02 178.76h1.56v1.56h-1.56zM286.02 178.04h1.56v1.56h-1.56zM286.02 177.05h1.56v1.56h-1.56zM286.02 176.17h1.56v1.56h-1.56zM286.02 175.1h1.56v1.56h-1.56zM286.02 173.73h1.56v1.56h-1.56zM286.02 172.84h1.56v1.56h-1.56zM286.02 172.12h1.56v1.56h-1.56zM286.02 171.08h1.56v1.56h-1.56zM275.42 183.11h1.56v1.56h-1.56zM275.42 182.2h1.56v1.56h-1.56zM275.42 181.21h1.56v1.56h-1.56zM275.42 180.5h1.56v1.56h-1.56zM275.42 179.75h1.56v1.56h-1.56zM275.42 178.52h1.56v1.56h-1.56zM275.42 177.64h1.56v1.56h-1.56zM275.42 176.77h1.56v1.56h-1.56zM275.42 175.66h1.56v1.56h-1.56zM275.42 174.27h1.56v1.56h-1.56zM275.42 173.34h1.56v1.56h-1.56zM275.42 171.98h1.56v1.56h-1.56zM275.42 171.19h1.56v1.56h-1.56zM275.42 169.86h1.56v1.56h-1.56zM386.22 182.86h1.56v1.56h-1.56zM386.22 181.69h1.56v1.56h-1.56zM386.22 180.75h1.56v1.56h-1.56zM386.22 179.82h1.56v1.56h-1.56zM386.22 179.1h1.56v1.56h-1.56zM386.22 178.39h1.56v1.56h-1.56zM386.22 177.4h1.56v1.56h-1.56zM386.22 176.32h1.56v1.56h-1.56zM386.22 175.32h1.56v1.56h-1.56zM386.22 173.91h1.56v1.56h-1.56zM386.22 172.96h1.56v1.56h-1.56zM386.22 172.1h1.56v1.56h-1.56zM386.22 171.26h1.56v1.56h-1.56zM386.22 170.31h1.56v1.56h-1.56zM386.22 169.07h1.56v1.56h-1.56zM386.22 167.72h1.56v1.56h-1.56zM386.22 166.35h1.56v1.56h-1.56zM386.22 164.97h1.56v1.56h-1.56zM386.22 163.82h1.56v1.56h-1.56zM386.22 162.94h1.56v1.56h-1.56zM386.22 161.83h1.56v1.56h-1.56zM386.22 160.57h1.56v1.56h-1.56zM395.82 182.71h1.56v1.56h-1.56zM395.82 182h1.56v1.56h-1.56zM395.82 180.66h1.56v1.56h-1.56zM395.82 179.8h1.56v1.56h-1.56zM395.82 178.49h1.56v1.56h-1.56zM395.82 177.5h1.56v1.56h-1.56zM395.82 176.11h1.56v1.56h-1.56zM395.82 175.22h1.56v1.56h-1.56zM395.82 173.99h1.56v1.56h-1.56zM395.82 173.18h1.56v1.56h-1.56zM395.82 171.85h1.56v1.56h-1.56zM395.82 170.77h1.56v1.56h-1.56zM395.82 169.77h1.56v1.56h-1.56zM395.82 168.69h1.56v1.56h-1.56zM395.82 167.87h1.56v1.56h-1.56zM395.82 166.57h1.56v1.56h-1.56zM395.82 165.61h1.56v1.56h-1.56zM395.82 164.23h1.56v1.56h-1.56zM395.82 152.14h1.56v1.56h-1.56zM395.82 149.31h1.56v1.56h-1.56zM395.82 146.47h1.56v1.56h-1.56zM395.82 144h1.56v1.56h-1.56zM420.32 181.97h1.56v1.56h-1.56zM420.32 180.61h1.56v1.56h-1.56zM420.32 179.39h1.56v1.56h-1.56zM420.32 178.08h1.56v1.56h-1.56zM420.32 177.11h1.56v1.56h-1.56zM420.32 175.83h1.56v1.56h-1.56zM420.32 174.94h1.56v1.56h-1.56zM420.32 173.81h1.56v1.56h-1.56zM420.32 172.94h1.56v1.56h-1.56zM420.32 172h1.56v1.56h-1.56zM420.32 170.73h1.56v1.56h-1.56zM420.32 169.63h1.56v1.56h-1.56zM420.32 168.36h1.56v1.56h-1.56zM420.32 167.58h1.56v1.56h-1.56zM420.32 166.33h1.56v1.56h-1.56zM420.32 165.39h1.56v1.56h-1.56zM420.32 164.19h1.56v1.56h-1.56zM420.32 163.19h1.56v1.56h-1.56zM420.32 162.13h1.56v1.56h-1.56zM420.32 161.29h1.56v1.56h-1.56zM420.32 144h1.56v1.56h-1.56zM420.32 142.25h1.56v1.56h-1.56zM420.32 141.14h1.56v1.56h-1.56zM420.32 139.98h1.56v1.56h-1.56zM430.82 183h1.56v1.56h-1.56zM430.82 181.87h1.56v1.56h-1.56zM430.82 180.63h1.56v1.56h-1.56zM430.82 179.53h1.56v1.56h-1.56zM430.82 178.77h1.56v1.56h-1.56zM430.82 177.57h1.56v1.56h-1.56zM430.82 176.61h1.56v1.56h-1.56zM430.82 175.47h1.56v1.56h-1.56zM430.82 174.33h1.56v1.56h-1.56zM430.82 172.96h1.56v1.56h-1.56zM430.82 171.94h1.56v1.56h-1.56zM430.82 171.04h1.56v1.56h-1.56zM430.82 170.07h1.56v1.56h-1.56zM430.82 169.24h1.56v1.56h-1.56zM430.82 167.97h1.56v1.56h-1.56zM430.82 166.71h1.56v1.56h-1.56zM430.82 165.78h1.56v1.56h-1.56zM430.82 164.65h1.56v1.56h-1.56zM430.82 163.71h1.56v1.56h-1.56zM430.82 162.3h1.56v1.56h-1.56zM430.82 158.86h1.56v1.56h-1.56zM430.82 156.03h1.56v1.56h-1.56zM430.82 152.85h1.56v1.56h-1.56zM430.82 148.95h1.56v1.56h-1.56zM430.82 145.41h1.56v1.56h-1.56zM426.82 182.74h1.56v1.56h-1.56zM426.82 181.72h1.56v1.56h-1.56zM426.82 180.72h1.56v1.56h-1.56zM426.82 179.41h1.56v1.56h-1.56zM426.82 178.29h1.56v1.56h-1.56zM426.82 177.51h1.56v1.56h-1.56zM426.82 176.71h1.56v1.56h-1.56zM426.82 175.49h1.56v1.56h-1.56zM426.82 174.11h1.56v1.56h-1.56zM426.82 172.83h1.56v1.56h-1.56zM426.82 172.1h1.56v1.56h-1.56zM426.82 171.28h1.56v1.56h-1.56zM426.82 170.26h1.56v1.56h-1.56zM458.32 183.13h1.56v1.56h-1.56zM458.32 181.75h1.56v1.56h-1.56zM458.32 157.45h1.56v1.56h-1.56zM458.32 154.62h1.56v1.56h-1.56zM458.32 151.78h1.56v1.56h-1.56zM458.32 146.47h1.56v1.56h-1.56zM458.32 144.35h1.56v1.56h-1.56zM458.32 141.87h1.56v1.56h-1.56zM469.42 182.19h1.56v1.56h-1.56zM469.42 180.15h1.56v1.56h-1.56zM469.42 178.65h1.56v1.56h-1.56zM469.42 176.53h1.56v1.56h-1.56zM469.42 174.5h1.56v1.56h-1.56zM469.42 173.19h1.56v1.56h-1.56zM469.42 171.96h1.56v1.56h-1.56zM469.42 170.65h1.56v1.56h-1.56zM469.42 169.1h1.56v1.56h-1.56zM469.42 167.34h1.56v1.56h-1.56zM469.42 166.38h1.56v1.56h-1.56zM469.42 164.62h1.56v1.56h-1.56zM469.42 163.1h1.56v1.56h-1.56zM469.42 161.92h1.56v1.56h-1.56zM469.42 160.96h1.56v1.56h-1.56zM469.42 159.63h1.56v1.56h-1.56zM469.42 158.56h1.56v1.56h-1.56zM469.42 156.97h1.56v1.56h-1.56zM469.42 155.73h1.56v1.56h-1.56zM469.42 154.26h1.56v1.56h-1.56zM469.42 153.36h1.56v1.56h-1.56zM469.42 152.34h1.56v1.56h-1.56zM469.42 150.9h1.56v1.56h-1.56zM469.42 149.59h1.56v1.56h-1.56zM469.42 148.26h1.56v1.56h-1.56zM469.42 146.54h1.56v1.56h-1.56zM469.42 139.39h1.56v1.56h-1.56zM469.42 125.94h1.56v1.56h-1.56zM469.42 124.38h1.56v1.56h-1.56zM469.42 123.18h1.56v1.56h-1.56zM469.42 118.15h1.56v1.56h-1.56zM469.42 114.26h1.56v1.56h-1.56zM469.42 110.01h1.56v1.56h-1.56zM469.42 104.35h1.56v1.56h-1.56zM469.42 103.18h1.56v1.56h-1.56zM469.42 101.88h1.56v1.56h-1.56zM469.42 100.92h1.56v1.56h-1.56zM469.42 99.55h1.56v1.56h-1.56zM529.52 183.27h1.56v1.56h-1.56zM529.52 182.49h1.56v1.56h-1.56zM529.52 181.24h1.56v1.56h-1.56zM529.52 180.14h1.56v1.56h-1.56zM529.52 178.78h1.56v1.56h-1.56zM529.52 178.01h1.56v1.56h-1.56zM529.52 170.55h1.56v1.56h-1.56zM529.52 169.52h1.56v1.56h-1.56zM529.52 168.71h1.56v1.56h-1.56zM529.52 167.34h1.56v1.56h-1.56zM523.52 182.47h1.56v1.56h-1.56zM523.52 181.37h1.56v1.56h-1.56zM523.52 180.43h1.56v1.56h-1.56zM523.52 179.56h1.56v1.56h-1.56zM523.52 178.28h1.56v1.56h-1.56zM622.62 182.93h1.56v1.56h-1.56zM622.62 181.71h1.56v1.56h-1.56zM622.62 180.97h1.56v1.56h-1.56zM622.62 180.1h1.56v1.56h-1.56zM622.62 178.95h1.56v1.56h-1.56zM622.62 178.01h1.56v1.56h-1.56zM622.62 176.79h1.56v1.56h-1.56zM622.62 176.06h1.56v1.56h-1.56zM622.62 174.74h1.56v1.56h-1.56zM622.62 173.63h1.56v1.56h-1.56zM622.62 172.42h1.56v1.56h-1.56zM622.62 171.49h1.56v1.56h-1.56zM622.62 170.56h1.56v1.56h-1.56zM622.62 169.37h1.56v1.56h-1.56zM622.62 168.65h1.56v1.56h-1.56zM622.62 167.83h1.56v1.56h-1.56zM622.62 166.67h1.56v1.56h-1.56zM622.62 165.69h1.56v1.56h-1.56zM622.62 159.57h1.56v1.56h-1.56zM622.62 157.75h1.56v1.56h-1.56zM622.62 156.38h1.56v1.56h-1.56zM614.92 182.55h1.56v1.56h-1.56zM614.92 181.78h1.56v1.56h-1.56zM614.92 180.96h1.56v1.56h-1.56zM614.92 179.59h1.56v1.56h-1.56zM614.92 178.69h1.56v1.56h-1.56zM614.92 177.53h1.56v1.56h-1.56zM614.92 176.24h1.56v1.56h-1.56zM614.92 175.33h1.56v1.56h-1.56zM614.92 174.48h1.56v1.56h-1.56zM614.92 173.15h1.56v1.56h-1.56zM614.92 172.21h1.56v1.56h-1.56zM614.92 171.46h1.56v1.56h-1.56zM614.92 170.26h1.56v1.56h-1.56zM614.92 168.89h1.56v1.56h-1.56zM614.92 168.07h1.56v1.56h-1.56zM614.92 167.2h1.56v1.56h-1.56zM614.92 166.4h1.56v1.56h-1.56zM614.92 165.04h1.56v1.56h-1.56zM599.02 183.1h1.56v1.56h-1.56zM599.02 181.94h1.56v1.56h-1.56zM599.02 181.22h1.56v1.56h-1.56zM599.02 180.16h1.56v1.56h-1.56zM599.02 179.02h1.56v1.56h-1.56zM599.02 177.96h1.56v1.56h-1.56zM599.02 177.13h1.56v1.56h-1.56zM599.02 176.01h1.56v1.56h-1.56zM599.02 174.79h1.56v1.56h-1.56zM599.02 173.38h1.56v1.56h-1.56zM599.02 166.3h1.56v1.56h-1.56zM599.02 165.26h1.56v1.56h-1.56zM599.02 164.4h1.56v1.56h-1.56zM599.02 163.46h1.56v1.56h-1.56zM599.02 162.55h1.56v1.56h-1.56zM599.02 161.56h1.56v1.56h-1.56zM584.92 163.82h1.56v1.56h-1.56zM584.92 162.78h1.56v1.56h-1.56zM583.02 183.04h1.56v1.56h-1.56zM583.02 181.95h1.56v1.56h-1.56zM583.02 180.54h1.56v1.56h-1.56zM583.02 179.35h1.56v1.56h-1.56zM583.02 178.63h1.56v1.56h-1.56zM583.02 172.32h1.56v1.56h-1.56zM583.02 171.27h1.56v1.56h-1.56zM583.02 170.46h1.56v1.56h-1.56zM583.02 169.59h1.56v1.56h-1.56zM583.02 168.55h1.56v1.56h-1.56zM583.02 167.34h1.56v1.56h-1.56zM331.92 183.15h1.56v1.56h-1.56zM331.92 181.73h1.56v1.56h-1.56zM331.92 181h1.56v1.56h-1.56zM331.92 179.68h1.56v1.56h-1.56zM331.92 178.44h1.56v1.56h-1.56zM346.02 173.73h1.56v1.56h-1.56z"/>
<line x1="30.5" y1="174.4" x2="671.5" y2="174.4" stroke="#ee7b4e" stroke-width="1.05" stroke-dasharray="2 1.45"/>
<line x1="30.5" y1="23" x2="30.5" y2="200" stroke="#cfcfcf" stroke-width="0.8"/>
<line x1="29" y1="200" x2="30.5" y2="200" stroke="#999" stroke-width="0.6"/>
<text x="27.8" y="201.9" class="tk" text-anchor="end">0</text>
<line x1="29" y1="164.6" x2="30.5" y2="164.6" stroke="#999" stroke-width="0.6"/>
<text x="27.8" y="166.5" class="tk" text-anchor="end">10</text>
<line x1="29" y1="129.2" x2="30.5" y2="129.2" stroke="#999" stroke-width="0.6"/>
<text x="27.8" y="131.1" class="tk" text-anchor="end">20</text>
<line x1="29" y1="93.8" x2="30.5" y2="93.8" stroke="#999" stroke-width="0.6"/>
<text x="27.8" y="95.7" class="tk" text-anchor="end">30</text>
<line x1="29" y1="58.4" x2="30.5" y2="58.4" stroke="#999" stroke-width="0.6"/>
<text x="27.8" y="60.3" class="tk" text-anchor="end">40</text>
<line x1="29" y1="23" x2="30.5" y2="23" stroke="#999" stroke-width="0.6"/>
<text x="27.8" y="24.9" class="tk" text-anchor="end">50</text>
<line x1="75.2" y1="200" x2="75.2" y2="201.2" stroke="#999" stroke-width="0.5"/>
<text x="75.2" y="206" class="tk" text-anchor="middle">1</text>
<line x1="127" y1="200" x2="127" y2="201.2" stroke="#999" stroke-width="0.5"/>
<text x="127" y="206" class="tk" text-anchor="middle">2</text>
<line x1="173.2" y1="200" x2="173.2" y2="201.2" stroke="#999" stroke-width="0.5"/>
<text x="173.2" y="206" class="tk" text-anchor="middle">3</text>
<line x1="213.6" y1="200" x2="213.6" y2="201.2" stroke="#999" stroke-width="0.5"/>
<text x="213.6" y="206" class="tk" text-anchor="middle">4</text>
<line x1="253" y1="200" x2="253" y2="201.2" stroke="#999" stroke-width="0.5"/>
<text x="253" y="206" class="tk" text-anchor="middle">5</text>
<line x1="289.8" y1="200" x2="289.8" y2="201.2" stroke="#999" stroke-width="0.5"/>
<text x="289.8" y="206" class="tk" text-anchor="middle">6</text>
<line x1="324" y1="200" x2="324" y2="201.2" stroke="#999" stroke-width="0.5"/>
<text x="324" y="206" class="tk" text-anchor="middle">7</text>
<line x1="356.2" y1="200" x2="356.2" y2="201.2" stroke="#999" stroke-width="0.5"/>
<text x="356.2" y="206" class="tk" text-anchor="middle">8</text>
<line x1="386.2" y1="200" x2="386.2" y2="201.2" stroke="#999" stroke-width="0.5"/>
<text x="386.2" y="206" class="tk" text-anchor="middle">9</text>
<line x1="415.7" y1="200" x2="415.7" y2="201.2" stroke="#999" stroke-width="0.5"/>
<text x="415.7" y="206" class="tk" text-anchor="middle">10</text>
<line x1="444.3" y1="200" x2="444.3" y2="201.2" stroke="#999" stroke-width="0.5"/>
<text x="444.3" y="206" class="tk" text-anchor="middle">11</text>
<line x1="472.2" y1="200" x2="472.2" y2="201.2" stroke="#999" stroke-width="0.5"/>
<text x="472.2" y="206" class="tk" text-anchor="middle">12</text>
<line x1="500.3" y1="200" x2="500.3" y2="201.2" stroke="#999" stroke-width="0.5"/>
<text x="500.3" y="206" class="tk" text-anchor="middle">13</text>
<line x1="523.8" y1="200" x2="523.8" y2="201.2" stroke="#999" stroke-width="0.5"/>
<text x="523.8" y="206" class="tk" text-anchor="middle">14</text>
<line x1="545.9" y1="200" x2="545.9" y2="201.2" stroke="#999" stroke-width="0.5"/>
<text x="545.9" y="206" class="tk" text-anchor="middle">15</text>
<line x1="563.7" y1="200" x2="563.7" y2="201.2" stroke="#999" stroke-width="0.5"/>
<text x="563.7" y="206" class="tk" text-anchor="middle">16</text>
<line x1="581.8" y1="200" x2="581.8" y2="201.2" stroke="#999" stroke-width="0.5"/>
<text x="581.8" y="206" class="tk" text-anchor="middle">17</text>
<line x1="598.6" y1="200" x2="598.6" y2="201.2" stroke="#999" stroke-width="0.5"/>
<text x="598.6" y="206" class="tk" text-anchor="middle">18</text>
<line x1="612.9" y1="200" x2="612.9" y2="201.2" stroke="#999" stroke-width="0.5"/>
<text x="612.9" y="206" class="tk" text-anchor="middle">19</text>
<line x1="625.6" y1="200" x2="625.6" y2="201.2" stroke="#999" stroke-width="0.5"/>
<text x="625.6" y="206" class="tk" text-anchor="middle">20</text>
<line x1="638.5" y1="200" x2="638.5" y2="201.2" stroke="#999" stroke-width="0.5"/>
<text x="638.5" y="206" class="tk" text-anchor="middle">21</text>
<line x1="649.8" y1="200" x2="649.8" y2="201.2" stroke="#999" stroke-width="0.5"/>
<text x="649.8" y="206" class="tk" text-anchor="middle">22</text>
<path fill="#e9e9e9" d="M90.7 435v-21.35h0.7v21.35zM85.17 435v-14.75h1.6v14.75zM54.61 435v-21.96h0.7v21.96zM87.34 435v-16.71h0.7v16.71zM63.56 435v-17.45h0.7v17.45zM81.86 435v-15.76h1.2v15.76zM49.97 435v-18.6h1.2v18.6zM87.65 435v-16.58h1.2v16.58zM73.18 435v-13.95h1.2v13.95zM69.96 435v-14.26h1.6v14.26zM72.82 435v-14.8h0.7v14.8zM92.87 435v-15.13h0.7v15.13zM71.14 435v-17.31h2.2v17.31zM98.77 435v-14.25h0.7v14.25zM84.36 435v-20.72h0.9v20.72zM97.72 435v-18.15h2.2v18.15zM63.37 435v-19.31h0.9v19.31zM57.36 435v-18.37h0.7v18.37zM54.23 435v-15.65h1.2v15.65zM69.02 435v-16.78h0.7v16.78zM67.87 435v-17.95h1.2v17.95zM68.24 435v-18.9h0.9v18.9zM79.2 435v-15.41h2.2v15.41zM65.56 435v-20.16h0.9v20.16zM190.56 435v-19.12h0.9v19.12zM172.72 435v-16.63h0.7v16.63zM177.8 435v-15.65h1.2v15.65zM152.15 435v-20.86h1.6v20.86zM179.34 435v-14.84h2.2v14.84zM182.07 435v-22.28h2.2v22.28zM191.09 435v-14.4h1.6v14.4zM183.52 435v-16.39h0.9v16.39zM160.89 435v-16.75h0.9v16.75zM185.25 435v-15.16h1.6v15.16zM174.13 435v-15.97h0.9v15.97zM183.81 435v-15.54h0.9v15.54zM162.02 435v-16.02h1.6v16.02zM184.7 435v-16.82h1.2v16.82zM164.77 435v-16.74h1.6v16.74zM178.7 435v-15.2h1.2v15.2zM167.43 435v-17.97h0.7v17.97zM183.82 435v-15.39h0.9v15.39zM175.54 435v-14.14h0.7v14.14zM163.64 435v-14.46h2.2v14.46zM161.2 435v-14.51h1.6v14.51zM245.27 435v-18.28h1.2v18.28zM236.82 435v-16.36h0.7v16.36zM248.54 435v-15.19h2.2v15.19zM233.83 435v-15.99h0.9v15.99zM261.79 435v-17.99h0.7v17.99zM256.11 435v-16.91h2.2v16.91zM258.96 435v-16.88h0.7v16.88zM250.45 435v-14.64h0.9v14.64zM234.96 435v-20.96h0.7v20.96zM247.17 435v-16.39h0.9v16.39zM243.09 435v-13.96h1.2v13.96zM234.35 435v-18.1h2.2v18.1zM235.61 435v-17.6h2.2v17.6zM262.07 435v-18.03h1.6v18.03zM250.03 435v-16.54h0.7v16.54zM270.15 435v-15.7h0.9v15.7zM237.36 435v-14.5h1.6v14.5zM234.17 435v-16.89h0.7v16.89zM307.25 435v-14.53h1.2v14.53zM337.21 435v-14.45h0.7v14.45zM336.23 435v-18.29h2.2v18.29zM333.19 435v-18.01h2.2v18.01zM318.51 435v-16.04h0.7v16.04zM319.64 435v-14.07h0.9v14.07zM320.09 435v-20.69h0.9v20.69zM307.51 435v-14.21h1.6v14.21zM333.49 435v-16.47h0.7v16.47zM336.44 435v-16.14h2.2v16.14zM313.78 435v-14.64h0.9v14.64zM330.05 435v-15.46h1.2v15.46zM332.62 435v-18.05h0.9v18.05zM323.28 435v-15.94h0.7v15.94zM309.86 435v-15.39h1.2v15.39zM324.13 435v-14.75h0.7v14.75zM378.19 435v-21.88h0.9v21.88zM397.67 435v-17.64h0.7v17.64zM373.55 435v-21.87h2.2v21.87zM375.34 435v-22.01h1.6v22.01zM371.93 435v-15.37h0.7v15.37zM395.09 435v-15.49h1.6v15.49zM380.89 435v-15.88h0.7v15.88zM397 435v-19.45h1.6v19.45zM375.8 435v-15.17h1.2v15.17zM394.54 435v-15.27h1.2v15.27zM397.4 435v-16.17h0.7v16.17zM453.33 435v-15.69h1.6v15.69zM450.51 435v-19.44h0.9v19.44zM434.47 435v-17.04h1.2v17.04zM445.28 435v-18.1h0.7v18.1zM456.23 435v-17.09h0.7v17.09zM452 435v-17.8h1.2v17.8zM445.32 435v-14.3h0.7v14.3zM449.62 435v-16.25h1.6v16.25zM444.24 435v-14.21h0.7v14.21zM446.51 435v-14.96h0.9v14.96zM452.02 435v-18.07h0.7v18.07zM449.84 435v-16.56h1.2v16.56zM445.33 435v-15.85h2.2v15.85zM439.05 435v-14.01h0.7v14.01zM495.41 435v-16.3h2.2v16.3zM508.32 435v-14.37h2.2v14.37zM490.47 435v-19.53h0.9v19.53zM496.19 435v-16.54h0.9v16.54zM508.94 435v-18.74h2.2v18.74zM501.77 435v-16.16h0.9v16.16zM507.55 435v-15.07h1.6v15.07zM504.62 435v-15.9h2.2v15.9zM503.82 435v-14.73h0.9v14.73zM504.12 435v-19.59h1.6v19.59zM539.07 435v-17.72h0.9v17.72zM550.1 435v-17.75h2.2v17.75zM551.74 435v-16.71h1.6v16.71zM547.04 435v-14.28h0.9v14.28zM543.45 435v-16.1h2.2v16.1zM552.4 435v-17.72h2.2v17.72zM541.32 435v-15.55h2.2v15.55zM544.13 435v-15.43h1.6v15.43zM589.37 435v-17.15h2.2v17.15zM580 435v-16.54h1.6v16.54zM578.69 435v-16.22h0.7v16.22zM574.53 435v-16.79h1.2v16.79zM588.22 435v-22.16h0.9v22.16zM580.93 435v-17.94h1.6v17.94zM582.59 435v-14.23h2.2v14.23zM578.88 435v-21.62h1.2v21.62zM616.11 435v-13.94h2.2v13.94zM608.1 435v-17.81h2.2v17.81zM616.75 435v-20.64h2.2v20.64zM610.93 435v-16.19h0.7v16.19zM612.11 435v-14.59h0.7v14.59zM612.27 435v-17.52h1.6v17.52zM641.18 435v-16.58h1.6v16.58zM641.62 435v-18.67h1.6v18.67zM639.61 435v-15.23h2.2v15.23zM641.01 435v-17.8h1.6v17.8z"/>
<path fill="#e0e0e0" d="M48.9 435v-13.77h1.02v13.77zM49.9 435v-13.24h1.02v13.24zM50.9 435v-12.45h1.02v12.45zM51.9 435v-12.43h1.02v12.43zM52.9 435v-12.42h1.02v12.42zM53.9 435v-12.57h1.02v12.57zM54.9 435v-12.42h1.02v12.42zM55.9 435v-12.9h1.02v12.9zM56.9 435v-13.21h1.02v13.21zM57.9 435v-13.69h1.02v13.69zM58.9 435v-13.13h1.02v13.13zM59.9 435v-12.06h1.02v12.06zM60.9 435v-12.3h1.02v12.3zM61.9 435v-12.38h1.02v12.38zM62.9 435v-13.1h1.02v13.1zM63.9 435v-12.86h1.02v12.86zM64.9 435v-11.94h1.02v11.94zM65.9 435v-12.82h1.02v12.82zM66.9 435v-12.3h1.02v12.3zM67.9 435v-12.57h1.02v12.57zM68.9 435v-12.98h1.02v12.98zM69.9 435v-12.37h1.02v12.37zM70.9 435v-12.83h1.02v12.83zM71.9 435v-13.44h1.02v13.44zM72.9 435v-13.62h1.02v13.62zM78.9 435v-12.5h1.02v12.5zM79.9 435v-12.34h1.02v12.34zM80.9 435v-12.17h1.02v12.17zM81.9 435v-13.34h1.02v13.34zM82.9 435v-13.56h1.02v13.56zM83.9 435v-13.15h1.02v13.15zM84.9 435v-13.06h1.02v13.06zM85.9 435v-13.39h1.02v13.39zM86.9 435v-13.25h1.02v13.25zM87.9 435v-12.81h1.02v12.81zM88.9 435v-13.81h1.02v13.81zM89.9 435v-14.48h1.02v14.48zM90.9 435v-13.67h1.02v13.67zM91.9 435v-13.3h1.02v13.3zM92.9 435v-13.48h1.02v13.48zM93.9 435v-13h1.02v13zM94.9 435v-13.32h1.02v13.32zM95.9 435v-13.48h1.02v13.48zM96.9 435v-13.36h1.02v13.36zM97.9 435v-13.98h1.02v13.98zM98.9 435v-14.69h1.02v14.69zM99.9 435v-14.23h1.02v14.23zM151.6 435v-14.1h1.02v14.1zM152.6 435v-15.4h1.02v15.4zM153.6 435v-15.42h1.02v15.42zM154.6 435v-14.59h1.02v14.59zM155.6 435v-15.05h1.02v15.05zM156.6 435v-16.21h1.02v16.21zM157.6 435v-15.32h1.02v15.32zM158.6 435v-16.07h1.02v16.07zM159.6 435v-14.94h1.02v14.94zM160.6 435v-15.75h1.02v15.75zM161.6 435v-14.94h1.02v14.94zM162.6 435v-16.39h1.02v16.39zM163.6 435v-15.54h1.02v15.54zM164.6 435v-15.23h1.02v15.23zM165.6 435v-16.01h1.02v16.01zM166.6 435v-15.51h1.02v15.51zM167.6 435v-15.66h1.02v15.66zM168.6 435v-16.21h1.02v16.21zM169.6 435v-15.16h1.02v15.16zM170.6 435v-14.96h1.02v14.96zM171.6 435v-15.06h1.02v15.06zM172.6 435v-14.81h1.02v14.81zM173.6 435v-15.48h1.02v15.48zM174.6 435v-15.77h1.02v15.77zM175.6 435v-15.64h1.02v15.64zM176.6 435v-15.76h1.02v15.76zM177.6 435v-15.79h1.02v15.79zM178.6 435v-15.26h1.02v15.26zM179.6 435v-14.37h1.02v14.37zM180.6 435v-14.87h1.02v14.87zM181.6 435v-15.63h1.02v15.63zM182.6 435v-15.11h1.02v15.11zM183.6 435v-15.45h1.02v15.45zM184.6 435v-15.05h1.02v15.05zM185.6 435v-15.31h1.02v15.31zM186.6 435v-15.86h1.02v15.86zM187.6 435v-15.57h1.02v15.57zM188.6 435v-16.28h1.02v16.28zM189.6 435v-15.81h1.02v15.81zM190.6 435v-15.67h1.02v15.67zM191.6 435v-15.69h1.02v15.69zM192.6 435v-15.72h1.02v15.72zM193.6 435v-16.04h0.12v16.04zM233.6 435v-12.84h1.02v12.84zM234.6 435v-13.31h1.02v13.31zM235.6 435v-12.77h1.02v12.77zM236.6 435v-12.35h1.02v12.35zM237.6 435v-12.21h1.02v12.21zM238.6 435v-12.9h1.02v12.9zM239.6 435v-12.17h1.02v12.17zM240.6 435v-13.2h1.02v13.2zM241.6 435v-13.02h1.02v13.02zM242.6 435v-12.56h1.02v12.56zM243.6 435v-12.7h1.02v12.7zM244.6 435v-13.12h1.02v13.12zM245.6 435v-13.04h1.02v13.04zM246.6 435v-13.84h1.02v13.84zM247.6 435v-13.53h1.02v13.53zM248.6 435v-12.9h1.02v12.9zM249.6 435v-12.61h1.02v12.61zM250.6 435v-13.08h1.02v13.08zM251.6 435v-12.55h1.02v12.55zM252.6 435v-13.95h1.02v13.95zM253.6 435v-13.27h1.02v13.27zM254.6 435v-13.06h1.02v13.06zM255.6 435v-12.84h1.02v12.84zM256.6 435v-12.94h1.02v12.94zM257.6 435v-14.34h1.02v14.34zM258.6 435v-13.35h1.02v13.35zM259.6 435v-13.83h1.02v13.83zM260.6 435v-13.27h1.02v13.27zM261.6 435v-13.84h1.02v13.84zM262.6 435v-13.46h1.02v13.46zM263.6 435v-13.19h1.02v13.19zM264.6 435v-13.11h1.02v13.11zM265.6 435v-12.95h1.02v12.95zM266.6 435v-12.92h1.02v12.92zM267.6 435v-13.09h1.02v13.09zM268.6 435v-13.35h1.02v13.35zM269.6 435v-13.43h1.02v13.43zM270.6 435v-13.29h0.82v13.29zM307.2 435v-14.69h1.02v14.69zM308.2 435v-15.8h1.02v15.8zM309.2 435v-15.67h1.02v15.67zM310.2 435v-15.13h1.02v15.13zM311.2 435v-15.34h1.02v15.34zM312.2 435v-15.25h1.02v15.25zM313.2 435v-16.39h1.02v16.39zM314.2 435v-15.89h1.02v15.89zM315.2 435v-16h1.02v16zM316.2 435v-15.24h1.02v15.24zM317.2 435v-15.73h1.02v15.73zM318.2 435v-14.65h1.02v14.65zM319.2 435v-15.27h1.02v15.27zM320.2 435v-14.67h1.02v14.67zM321.2 435v-14.78h1.02v14.78zM322.2 435v-14.62h1.02v14.62zM323.2 435v-16.02h1.02v16.02zM324.2 435v-15.82h1.02v15.82zM325.2 435v-15.97h1.02v15.97zM326.2 435v-15.04h1.02v15.04zM327.2 435v-15.84h1.02v15.84zM328.2 435v-15.01h1.02v15.01zM329.2 435v-14.83h1.02v14.83zM330.2 435v-14.2h1.02v14.2zM331.2 435v-14.74h1.02v14.74zM332.2 435v-15.06h1.02v15.06zM333.2 435v-15.23h1.02v15.23zM334.2 435v-14.78h1.02v14.78zM335.2 435v-15.89h1.02v15.89zM336.2 435v-15.79h1.02v15.79zM337.2 435v-16.38h1.02v16.38zM338.2 435v-16.06h1.02v16.06zM339.2 435v-15.7h1.02v15.7zM340.2 435v-15.69h0.62v15.69zM371.3 435v-15.71h1.02v15.71zM372.3 435v-14.27h1.02v14.27zM373.3 435v-14.56h1.02v14.56zM374.3 435v-15.31h1.02v15.31zM375.3 435v-15.08h1.02v15.08zM376.3 435v-15.04h1.02v15.04zM377.3 435v-14.49h1.02v14.49zM378.3 435v-15h1.02v15zM379.3 435v-15.95h1.02v15.95zM380.3 435v-15.05h1.02v15.05zM381.3 435v-15.55h1.02v15.55zM385.3 435v-14.98h1.02v14.98zM386.3 435v-15.2h1.02v15.2zM387.3 435v-15.08h1.02v15.08zM388.3 435v-15.14h1.02v15.14zM389.3 435v-14.3h1.02v14.3zM390.3 435v-15.2h1.02v15.2zM391.3 435v-15.22h1.02v15.22zM392.3 435v-14.28h1.02v14.28zM393.3 435v-15.09h1.02v15.09zM394.3 435v-14.34h1.02v14.34zM395.3 435v-14.2h1.02v14.2zM396.3 435v-14.24h1.02v14.24zM397.3 435v-14.39h1.02v14.39zM398.3 435v-14.12h1.02v14.12zM399.3 435v-13.88h1.02v13.88zM400.3 435v-14.3h0.92v14.3zM429.3 435v-14.34h1.02v14.34zM430.3 435v-15.11h1.02v15.11zM431.3 435v-13.68h1.02v13.68zM432.3 435v-14.56h1.02v14.56zM433.3 435v-14.11h1.02v14.11zM434.3 435v-13.87h1.02v13.87zM435.3 435v-14.55h1.02v14.55zM436.3 435v-13.67h1.02v13.67zM437.3 435v-13.93h1.02v13.93zM438.3 435v-13.3h1.02v13.3zM439.3 435v-14.81h1.02v14.81zM440.3 435v-14.96h1.02v14.96zM441.3 435v-13.55h1.02v13.55zM442.3 435v-14.55h1.02v14.55zM443.3 435v-14.13h1.02v14.13zM444.3 435v-13.98h1.02v13.98zM445.3 435v-14.68h1.02v14.68zM446.3 435v-14.23h1.02v14.23zM447.3 435v-14.46h1.02v14.46zM448.3 435v-14.39h1.02v14.39zM449.3 435v-13.84h1.02v13.84zM450.3 435v-14.37h1.02v14.37zM451.3 435v-13.19h1.02v13.19zM452.3 435v-13.47h1.02v13.47zM453.3 435v-12.8h1.02v12.8zM454.3 435v-13.26h1.02v13.26zM455.3 435v-14.46h1.02v14.46zM456.3 435v-14h1.02v14zM457.3 435v-13.4h0.82v13.4zM490.2 435v-13.4h1.02v13.4zM491.2 435v-12.61h1.02v12.61zM492.2 435v-13.05h1.02v13.05zM493.2 435v-12.05h1.02v12.05zM494.2 435v-12.42h1.02v12.42zM495.2 435v-12.81h1.02v12.81zM496.2 435v-12.09h1.02v12.09zM497.2 435v-12.61h1.02v12.61zM498.2 435v-12.29h1.02v12.29zM499.2 435v-12.69h1.02v12.69zM500.2 435v-12.81h1.02v12.81zM501.2 435v-13.45h1.02v13.45zM502.2 435v-13.17h1.02v13.17zM503.2 435v-13.43h1.02v13.43zM504.2 435v-12.15h1.02v12.15zM505.2 435v-13.08h1.02v13.08zM506.2 435v-13.33h1.02v13.33zM507.2 435v-13.73h1.02v13.73zM508.2 435v-12.82h1.02v12.82zM509.2 435v-13.75h1.02v13.75zM510.2 435v-13.31h0.62v13.31zM536.8 435v-14.7h1.02v14.7zM537.8 435v-14.04h1.02v14.04zM538.8 435v-14.12h1.02v14.12zM539.8 435v-13.66h1.02v13.66zM540.8 435v-13.74h1.02v13.74zM541.8 435v-13.91h1.02v13.91zM542.8 435v-13.25h1.02v13.25zM543.8 435v-14.02h1.02v14.02zM544.8 435v-14.18h1.02v14.18zM545.8 435v-13.98h1.02v13.98zM546.8 435v-13.73h1.02v13.73zM547.8 435v-12.91h1.02v12.91zM548.8 435v-12.8h1.02v12.8zM549.8 435v-13.34h1.02v13.34zM550.8 435v-13.13h1.02v13.13zM551.8 435v-12.91h1.02v12.91zM552.8 435v-12.84h1.02v12.84zM553.8 435v-12.57h0.22v12.57zM572.9 435v-13.27h1.02v13.27zM573.9 435v-14.03h1.02v14.03zM574.9 435v-14.25h1.02v14.25zM575.9 435v-13.88h1.02v13.88zM576.9 435v-13.53h1.02v13.53zM577.9 435v-14.7h1.02v14.7zM578.9 435v-14.85h1.02v14.85zM579.9 435v-14.92h1.02v14.92zM580.9 435v-14.09h1.02v14.09zM581.9 435v-14.43h1.02v14.43zM582.9 435v-14.58h1.02v14.58zM583.9 435v-14.31h1.02v14.31zM584.9 435v-13.84h1.02v13.84zM585.9 435v-14.18h1.02v14.18zM586.9 435v-13.93h1.02v13.93zM587.9 435v-13.11h1.02v13.11zM588.9 435v-13.64h1.02v13.64zM589.9 435v-13.44h0.52v13.44zM606 435v-13.41h1.02v13.41zM607 435v-13.95h1.02v13.95zM608 435v-13.24h1.02v13.24zM609 435v-13.41h1.02v13.41zM610 435v-14.77h1.02v14.77zM611 435v-13.41h1.02v13.41zM612 435v-13.94h1.02v13.94zM613 435v-14.49h1.02v14.49zM614 435v-13.5h1.02v13.5zM615 435v-12.96h1.02v12.96zM616 435v-14.34h1.02v14.34zM617 435v-13.42h1.02v13.42zM618 435v-14.76h1.02v14.76zM634.8 435v-14.32h1.02v14.32zM635.8 435v-15.22h1.02v15.22zM636.8 435v-15.43h1.02v15.43zM637.8 435v-15.56h1.02v15.56zM638.8 435v-16.03h1.02v16.03zM639.8 435v-15.66h1.02v15.66zM640.8 435v-15.85h1.02v15.85zM641.8 435v-15.18h1.02v15.18zM642.8 435v-15.1h0.12v15.1z"/>
<path fill="#c4c4c4" d="M128.42 435v-15.83h1.2v15.83zM139.34 435v-15.34h2.2v15.34zM132.84 435v-15.04h0.9v15.04zM138.41 435v-14.52h2.2v14.52zM113.2 435v-15.41h1.2v15.41zM112.64 435v-18.2h0.9v18.2zM150.35 435v-18.8h0.9v18.8zM120 435v-17.18h0.9v17.18zM122.52 435v-18h0.9v18zM114.86 435v-13.86h1.6v13.86zM143.36 435v-16.11h1.6v16.11zM132.33 435v-14.99h1.6v14.99zM137.59 435v-17.98h0.7v17.98zM122.27 435v-16.78h2.2v16.78zM142.95 435v-21.05h2.2v21.05zM132.78 435v-15h1.6v15zM135.72 435v-15.65h1.6v15.65zM136.32 435v-15.76h0.9v15.76zM123.52 435v-20.43h2.2v20.43zM133.76 435v-19.69h0.9v19.69zM101.43 435v-18.82h1.6v18.82zM113.39 435v-17.4h0.9v17.4zM147.65 435v-17.7h2.2v17.7zM123.6 435v-16.16h0.9v16.16zM132.67 435v-15.69h1.2v15.69zM228.87 435v-17.91h2.2v17.91zM217.37 435v-17.92h0.7v17.92zM224.36 435v-16.99h1.2v16.99zM214.35 435v-14.34h1.6v14.34zM198.31 435v-14.45h1.6v14.45zM212.88 435v-17.97h0.7v17.97zM220.95 435v-16.29h0.9v16.29zM227.27 435v-15.28h0.7v15.28zM220.77 435v-17.67h1.6v17.67zM208.29 435v-21.04h1.6v21.04zM200.72 435v-13.94h1.2v13.94zM217.42 435v-14.24h1.2v14.24zM212.53 435v-17.11h0.9v17.11zM218.02 435v-16.84h1.2v16.84zM206.98 435v-18h2.2v18zM204.75 435v-16.36h1.2v16.36zM225.86 435v-16.08h1.2v16.08zM206.68 435v-19.75h1.2v19.75zM201.62 435v-15.33h1.6v15.33zM305.74 435v-14.36h0.7v14.36zM287.84 435v-14.92h1.2v14.92zM296.93 435v-19.83h0.9v19.83zM297.4 435v-14.19h0.9v14.19zM293.28 435v-18.1h1.6v18.1zM280.24 435v-13.86h0.7v13.86zM271.91 435v-15.24h2.2v15.24zM296.78 435v-21.66h0.9v21.66zM292.59 435v-16.45h1.2v16.45zM286.67 435v-17.48h0.9v17.48zM284.04 435v-15.73h0.9v15.73zM284.82 435v-21.46h1.6v21.46zM291.13 435v-16.67h1.2v16.67zM294.05 435v-16.59h2.2v16.59zM305.42 435v-15.23h0.9v15.23zM286.31 435v-16.96h0.9v16.96zM292.34 435v-15.11h0.9v15.11zM366.49 435v-16.42h2.2v16.42zM348.52 435v-18.16h1.2v18.16zM363.43 435v-19.4h2.2v19.4zM341.92 435v-19.88h0.9v19.88zM341.61 435v-17.81h0.7v17.81zM354.32 435v-20.9h0.7v20.9zM368 435v-16.4h0.7v16.4zM359.7 435v-15.87h2.2v15.87zM345.51 435v-19.27h0.9v19.27zM341.94 435v-18.64h1.2v18.64zM357.11 435v-14.02h0.7v14.02zM364 435v-14.47h1.6v14.47zM363.07 435v-15.18h0.9v15.18zM358.25 435v-15.52h0.7v15.52zM352.31 435v-14.58h1.2v14.58zM418.3 435v-17.65h0.9v17.65zM404.43 435v-20.09h0.9v20.09zM408.29 435v-18.79h0.9v18.79zM409.04 435v-17.15h0.9v17.15zM409.15 435v-16.14h0.7v16.14zM415.04 435v-17.64h1.6v17.64zM415.47 435v-13.99h0.9v13.99zM412.28 435v-14.44h1.2v14.44zM406.08 435v-14.71h0.9v14.71zM403.35 435v-21.25h0.7v21.25zM421.83 435v-16.62h0.9v16.62zM420.38 435v-14.74h0.9v14.74zM402.98 435v-17.13h2.2v17.13zM402.7 435v-17.68h1.2v17.68zM461.51 435v-17.31h1.6v17.31zM461.15 435v-14.44h0.7v14.44zM474.49 435v-16.44h0.9v16.44zM478.78 435v-18.48h0.9v18.48zM475.69 435v-16.58h1.6v16.58zM459.1 435v-15.36h0.7v15.36zM464.76 435v-17.69h1.2v17.69zM473.73 435v-17.71h1.2v17.71zM459.58 435v-16.94h2.2v16.94zM467.89 435v-13.86h1.6v13.86zM461.12 435v-15.8h0.9v15.8zM472.08 435v-15.74h0.7v15.74zM469.1 435v-17.53h1.6v17.53zM482.6 435v-16.76h0.7v16.76zM522.8 435v-15.34h1.2v15.34zM517.6 435v-16.5h2.2v16.5zM514.41 435v-18.19h1.2v18.19zM520.03 435v-15.12h1.2v15.12zM531.98 435v-13.91h1.2v13.91zM524.12 435v-20.12h2.2v20.12zM515.32 435v-15.44h1.6v15.44zM527.93 435v-18.22h2.2v18.22zM527.5 435v-16.88h0.9v16.88zM560.32 435v-15.58h2.2v15.58zM559.76 435v-15.19h1.6v15.19zM568.37 435v-16.48h1.6v16.48zM555.57 435v-17.69h1.2v17.69zM569 435v-15.77h1.2v15.77zM570.3 435v-14.99h0.7v14.99zM570.04 435v-21.42h1.2v21.42zM597.88 435v-15.16h0.7v15.16zM595.41 435v-20.05h2.2v20.05zM592.68 435v-14.76h1.2v14.76zM603.44 435v-16.71h1.6v16.71zM599.21 435v-16.71h1.2v16.71zM600.95 435v-13.82h1.6v13.82zM600.78 435v-15.21h2.2v15.21zM619.81 435v-16.47h0.7v16.47zM620.87 435v-14.59h0.9v14.59zM622.47 435v-22.1h0.7v22.1zM619.82 435v-15.58h0.9v15.58zM619.71 435v-18.22h1.6v18.22zM624.72 435v-14.83h2.2v14.83zM621.07 435v-19.63h2.2v19.63zM646.5 435v-14.66h0.9v14.66zM652.6 435v-15.48h1.2v15.48zM648.21 435v-16.8h1.6v16.8z"/>
<path fill="#afafaf" d="M100.9 435v-14.43h1.02v14.43zM101.9 435v-13.78h1.02v13.78zM102.9 435v-13.62h1.02v13.62zM103.9 435v-13.76h1.02v13.76zM104.9 435v-13.52h1.02v13.52zM105.9 435v-13.32h1.02v13.32zM106.9 435v-13.41h1.02v13.41zM107.9 435v-13.98h1.02v13.98zM108.9 435v-13.89h1.02v13.89zM109.9 435v-13.24h1.02v13.24zM110.9 435v-14.6h1.02v14.6zM111.9 435v-14.95h1.02v14.95zM112.9 435v-14.29h1.02v14.29zM113.9 435v-14.29h1.02v14.29zM114.9 435v-13.11h1.02v13.11zM115.9 435v-13h1.02v13zM116.9 435v-12.71h1.02v12.71zM117.9 435v-12.42h1.02v12.42zM118.9 435v-12.39h1.02v12.39zM119.9 435v-13.1h1.02v13.1zM120.9 435v-12.17h1.02v12.17zM121.9 435v-12.35h1.02v12.35zM122.9 435v-12.03h1.02v12.03zM123.9 435v-13.56h1.02v13.56zM124.9 435v-12.81h1.02v12.81zM125.9 435v-12h1.02v12zM126.9 435v-12.23h1.02v12.23zM127.9 435v-12.37h1.02v12.37zM128.9 435v-13.21h1.02v13.21zM129.9 435v-12.09h1.02v12.09zM130.9 435v-11.96h1.02v11.96zM131.9 435v-13.33h1.02v13.33zM132.9 435v-13.24h1.02v13.24zM133.9 435v-12.57h1.02v12.57zM134.9 435v-12.95h1.02v12.95zM135.9 435v-12.99h1.02v12.99zM136.9 435v-12.17h1.02v12.17zM137.9 435v-13.52h1.02v13.52zM138.9 435v-13.56h1.02v13.56zM139.9 435v-13.74h1.02v13.74zM140.9 435v-13.19h1.02v13.19zM141.9 435v-12.38h1.02v12.38zM142.9 435v-12.33h1.02v12.33zM143.9 435v-12.84h1.02v12.84zM144.9 435v-12.88h1.02v12.88zM145.9 435v-14.02h1.02v14.02zM146.9 435v-13.52h1.02v13.52zM147.9 435v-13.09h1.02v13.09zM148.9 435v-12.8h1.02v12.8zM149.9 435v-13.89h1.02v13.89zM150.9 435v-13.58h0.72v13.58zM193.7 435v-14.86h1.02v14.86zM194.7 435v-15.88h1.02v15.88zM195.7 435v-15.03h1.02v15.03zM196.7 435v-15.14h1.02v15.14zM197.7 435v-14.49h1.02v14.49zM198.7 435v-14.73h1.02v14.73zM199.7 435v-15.3h1.02v15.3zM200.7 435v-14.75h1.02v14.75zM201.7 435v-14.07h1.02v14.07zM202.7 435v-15.57h1.02v15.57zM203.7 435v-15.31h1.02v15.31zM204.7 435v-14.56h1.02v14.56zM205.7 435v-15.47h1.02v15.47zM206.7 435v-14.61h1.02v14.61zM207.7 435v-14.49h1.02v14.49zM208.7 435v-14.21h1.02v14.21zM209.7 435v-13.97h1.02v13.97zM210.7 435v-14.61h1.02v14.61zM211.7 435v-14.05h1.02v14.05zM212.7 435v-14.41h1.02v14.41zM213.7 435v-14.71h1.02v14.71zM214.7 435v-14.94h1.02v14.94zM215.7 435v-13.6h1.02v13.6zM216.7 435v-13.94h1.02v13.94zM217.7 435v-12.82h1.02v12.82zM218.7 435v-13.86h1.02v13.86zM219.7 435v-13.21h1.02v13.21zM220.7 435v-13.85h1.02v13.85zM221.7 435v-13.6h1.02v13.6zM222.7 435v-12.34h1.02v12.34zM223.7 435v-13.02h1.02v13.02zM224.7 435v-13.38h1.02v13.38zM225.7 435v-13.3h1.02v13.3zM226.7 435v-13.07h1.02v13.07zM227.7 435v-13.08h1.02v13.08zM228.7 435v-12.34h1.02v12.34zM229.7 435v-13.22h1.02v13.22zM230.7 435v-12.04h1.02v12.04zM231.7 435v-12.22h1.02v12.22zM232.7 435v-12.09h0.92v12.09zM271.4 435v-13.77h1.02v13.77zM272.4 435v-14.66h1.02v14.66zM273.4 435v-14.54h1.02v14.54zM274.4 435v-14.58h1.02v14.58zM275.4 435v-15.04h1.02v15.04zM276.4 435v-14.33h1.02v14.33zM277.4 435v-14.77h1.02v14.77zM278.4 435v-15.02h1.02v15.02zM279.4 435v-15.18h1.02v15.18zM280.4 435v-15.06h1.02v15.06zM281.4 435v-13.89h1.02v13.89zM282.4 435v-14.04h1.02v14.04zM283.4 435v-14.38h1.02v14.38zM284.4 435v-14.14h1.02v14.14zM285.4 435v-14.32h1.02v14.32zM286.4 435v-13.35h1.02v13.35zM287.4 435v-14.66h1.02v14.66zM288.4 435v-14.36h1.02v14.36zM289.4 435v-13.83h1.02v13.83zM290.4 435v-14.29h1.02v14.29zM291.4 435v-13.95h1.02v13.95zM292.4 435v-14.06h1.02v14.06zM293.4 435v-15.36h1.02v15.36zM294.4 435v-14.51h1.02v14.51zM295.4 435v-14.92h1.02v14.92zM296.4 435v-15.05h1.02v15.05zM297.4 435v-14.41h1.02v14.41zM298.4 435v-14.36h1.02v14.36zM299.4 435v-14.64h1.02v14.64zM300.4 435v-14.28h1.02v14.28zM301.4 435v-14.27h1.02v14.27zM302.4 435v-15.02h1.02v15.02zM303.4 435v-14.6h1.02v14.6zM304.4 435v-14.86h1.02v14.86zM305.4 435v-14.34h1.02v14.34zM306.4 435v-14.79h0.82v14.79zM340.8 435v-13.6h1.02v13.6zM341.8 435v-14.07h1.02v14.07zM342.8 435v-14.35h1.02v14.35zM343.8 435v-14.74h1.02v14.74zM344.8 435v-14.47h1.02v14.47zM345.8 435v-14.66h1.02v14.66zM346.8 435v-14.84h1.02v14.84zM347.8 435v-14.23h1.02v14.23zM348.8 435v-15.03h1.02v15.03zM349.8 435v-14.06h1.02v14.06zM350.8 435v-15.5h1.02v15.5zM351.8 435v-14.25h1.02v14.25zM352.8 435v-13.92h1.02v13.92zM353.8 435v-13.78h1.02v13.78zM354.8 435v-13.8h1.02v13.8zM355.8 435v-14.75h1.02v14.75zM356.8 435v-14.29h1.02v14.29zM357.8 435v-14.37h1.02v14.37zM358.8 435v-14h1.02v14zM359.8 435v-13.55h1.02v13.55zM360.8 435v-13.73h1.02v13.73zM361.8 435v-14.44h1.02v14.44zM362.8 435v-14.17h1.02v14.17zM363.8 435v-14.02h1.02v14.02zM364.8 435v-14.21h1.02v14.21zM365.8 435v-15.17h1.02v15.17zM366.8 435v-14.31h1.02v14.31zM367.8 435v-14.89h1.02v14.89zM368.8 435v-14.89h1.02v14.89zM369.8 435v-14.3h1.02v14.3zM370.8 435v-15.52h0.52v15.52zM401.2 435v-14.22h1.02v14.22zM402.2 435v-13.46h1.02v13.46zM403.2 435v-14.01h1.02v14.01zM404.2 435v-14.17h1.02v14.17zM405.2 435v-14.69h1.02v14.69zM406.2 435v-14.78h1.02v14.78zM407.2 435v-13.7h1.02v13.7zM408.2 435v-13.79h1.02v13.79zM409.2 435v-14.68h1.02v14.68zM410.2 435v-13.59h1.02v13.59zM411.2 435v-14.17h1.02v14.17zM412.2 435v-12.56h1.02v12.56zM413.2 435v-12.67h1.02v12.67zM414.2 435v-13.7h1.02v13.7zM415.2 435v-14.06h1.02v14.06zM416.2 435v-13.48h1.02v13.48zM417.2 435v-14.07h1.02v14.07zM418.2 435v-13h1.02v13zM419.2 435v-13.63h1.02v13.63zM420.2 435v-13.46h1.02v13.46zM421.2 435v-12.71h1.02v12.71zM422.2 435v-13.02h1.02v13.02zM423.2 435v-13.09h1.02v13.09zM424.2 435v-13.6h1.02v13.6zM425.2 435v-14.35h1.02v14.35zM426.2 435v-14.07h1.02v14.07zM427.2 435v-13.74h1.02v13.74zM428.2 435v-14.27h1.02v14.27zM429.2 435v-13.22h0.12v13.22zM458.1 435v-14.26h1.02v14.26zM459.1 435v-13.99h1.02v13.99zM460.1 435v-14.46h1.02v14.46zM461.1 435v-14.91h1.02v14.91zM462.1 435v-14.03h1.02v14.03zM463.1 435v-14.56h1.02v14.56zM464.1 435v-14.73h1.02v14.73zM465.1 435v-14.69h1.02v14.69zM466.1 435v-14.54h1.02v14.54zM467.1 435v-15.15h1.02v15.15zM468.1 435v-14.42h1.02v14.42zM469.1 435v-15.28h1.02v15.28zM470.1 435v-14.21h1.02v14.21zM471.1 435v-15.07h1.02v15.07zM472.1 435v-14.7h1.02v14.7zM473.1 435v-15.7h1.02v15.7zM474.1 435v-16.12h1.02v16.12zM475.1 435v-14.85h1.02v14.85zM476.1 435v-14.38h1.02v14.38zM477.1 435v-15.34h1.02v15.34zM478.1 435v-15.41h1.02v15.41zM479.1 435v-15.68h1.02v15.68zM480.1 435v-15.94h1.02v15.94zM481.1 435v-15.19h1.02v15.19zM482.1 435v-15.92h1.02v15.92zM483.1 435v-15.33h1.02v15.33zM484.1 435v-14.79h1.02v14.79zM485.1 435v-15.14h1.02v15.14zM486.1 435v-14.71h0.72v14.71zM514.2 435v-14.27h1.02v14.27zM515.2 435v-13.66h1.02v13.66zM516.2 435v-14.59h1.02v14.59zM517.2 435v-13.64h1.02v13.64zM518.2 435v-14.57h1.02v14.57zM519.2 435v-13.12h1.02v13.12zM520.2 435v-14.7h1.02v14.7zM521.2 435v-13.38h1.02v13.38zM522.2 435v-14.22h1.02v14.22zM523.2 435v-14.89h1.02v14.89zM524.2 435v-14.52h1.02v14.52zM525.2 435v-14.85h1.02v14.85zM526.2 435v-15.65h1.02v15.65zM527.2 435v-14.99h1.02v14.99zM528.2 435v-15.06h1.02v15.06zM529.2 435v-15.05h1.02v15.05zM530.2 435v-14.53h1.02v14.53zM531.2 435v-15.65h1.02v15.65zM532.2 435v-14.78h1.02v14.78zM554 435v-13.81h1.02v13.81zM555 435v-15.33h1.02v15.33zM556 435v-15.27h1.02v15.27zM557 435v-15.25h1.02v15.25zM558 435v-15.21h1.02v15.21zM559 435v-14.44h1.02v14.44zM560 435v-15.77h1.02v15.77zM561 435v-14.58h1.02v14.58zM564 435v-14.52h1.02v14.52zM565 435v-15.03h1.02v15.03zM566 435v-15.11h1.02v15.11zM567 435v-16.21h1.02v16.21zM568 435v-15.03h1.02v15.03zM569 435v-15.12h1.02v15.12zM570 435v-14.53h1.02v14.53zM571 435v-15.31h1.02v15.31zM572 435v-15.4h0.92v15.4zM590.4 435v-14.16h1.02v14.16zM591.4 435v-14h1.02v14zM592.4 435v-14.05h1.02v14.05zM593.4 435v-13.72h1.02v13.72zM594.4 435v-13.8h1.02v13.8zM595.4 435v-13.34h1.02v13.34zM596.4 435v-13.83h1.02v13.83zM597.4 435v-14.18h1.02v14.18zM598.4 435v-12.84h1.02v12.84zM599.4 435v-13.19h1.02v13.19zM600.4 435v-13.71h1.02v13.71zM601.4 435v-12.89h1.02v12.89zM602.4 435v-13.02h1.02v13.02zM603.4 435v-12.65h1.02v12.65zM604.4 435v-12.91h1.02v12.91zM605.4 435v-13.69h0.62v13.69zM619 435v-14.24h1.02v14.24zM620 435v-13.51h1.02v13.51zM621 435v-13.19h1.02v13.19zM622 435v-14.06h1.02v14.06zM623 435v-14.36h1.02v14.36zM624 435v-13.72h1.02v13.72zM625 435v-14h1.02v14zM626 435v-14.37h1.02v14.37zM627 435v-14.34h1.02v14.34zM628 435v-14.14h1.02v14.14zM629 435v-14.17h1.02v14.17zM630 435v-14.28h1.02v14.28zM631 435v-15.49h1.02v15.49zM632 435v-14.83h1.02v14.83zM645.9 435v-13.92h1.02v13.92zM646.9 435v-14.86h1.02v14.86zM647.9 435v-13.61h1.02v13.61zM648.9 435v-13.07h1.02v13.07zM649.9 435v-14.07h1.02v14.07zM650.9 435v-14.39h1.02v14.39zM651.9 435v-13.81h1.02v13.81zM652.9 435v-14.01h0.92v14.01z"/>
<path fill="#cfcfcf" d="M97.87 425.33h1.1v1.1h-1.1zM97.87 424.19h1.1v1.1h-1.1zM97.87 422.19h1.1v1.1h-1.1zM97.87 420.21h1.1v1.1h-1.1zM97.87 418.86h1.1v1.1h-1.1zM97.87 417.72h1.1v1.1h-1.1zM97.87 416.71h1.1v1.1h-1.1zM97.87 415.73h1.1v1.1h-1.1zM78.47 426.04h1.1v1.1h-1.1zM78.47 424.76h1.1v1.1h-1.1zM78.47 423.27h1.1v1.1h-1.1zM78.47 422.14h1.1v1.1h-1.1zM78.47 420.95h1.1v1.1h-1.1zM83.42 427.21h1.1v1.1h-1.1zM83.42 426.34h1.1v1.1h-1.1zM83.42 424.09h1.1v1.1h-1.1zM83.42 421.78h1.1v1.1h-1.1zM83.42 420.89h1.1v1.1h-1.1zM83.42 419.52h1.1v1.1h-1.1zM83.42 418.55h1.1v1.1h-1.1zM69.2 425.71h1.1v1.1h-1.1zM69.2 424.46h1.1v1.1h-1.1zM69.2 421.93h1.1v1.1h-1.1zM69.2 420.64h1.1v1.1h-1.1zM69.2 419.77h1.1v1.1h-1.1zM69.2 418.63h1.1v1.1h-1.1zM69.2 417.52h1.1v1.1h-1.1zM79.9 426.48h1.1v1.1h-1.1zM79.9 425.36h1.1v1.1h-1.1zM79.9 424.41h1.1v1.1h-1.1zM79.9 423.21h1.1v1.1h-1.1zM79.9 421.76h1.1v1.1h-1.1zM79.9 420.76h1.1v1.1h-1.1zM79.9 419.58h1.1v1.1h-1.1zM79.9 418.31h1.1v1.1h-1.1zM54.56 423.4h1.1v1.1h-1.1zM54.56 422.18h1.1v1.1h-1.1zM54.56 420.71h1.1v1.1h-1.1zM54.56 419.83h1.1v1.1h-1.1zM54.56 418.49h1.1v1.1h-1.1zM54.56 417.06h1.1v1.1h-1.1zM54.56 415.73h1.1v1.1h-1.1zM60.11 424.74h1.1v1.1h-1.1zM60.11 423.67h1.1v1.1h-1.1zM60.11 422.38h1.1v1.1h-1.1zM60.11 421.13h1.1v1.1h-1.1zM92.02 423.32h1.1v1.1h-1.1zM92.02 421.94h1.1v1.1h-1.1zM92.02 418.62h1.1v1.1h-1.1zM92.02 417.66h1.1v1.1h-1.1zM81.31 426.95h1.1v1.1h-1.1zM81.31 423.1h1.1v1.1h-1.1zM81.31 422.16h1.1v1.1h-1.1zM96.85 423.89h1.1v1.1h-1.1zM51.06 422.65h1.1v1.1h-1.1zM51.06 421.7h1.1v1.1h-1.1zM51.06 418.13h1.1v1.1h-1.1zM51.06 416.97h1.1v1.1h-1.1zM51.06 415.91h1.1v1.1h-1.1zM51.06 414.89h1.1v1.1h-1.1zM51.06 413.44h1.1v1.1h-1.1zM65.26 425.69h1.1v1.1h-1.1zM65.26 424.37h1.1v1.1h-1.1zM50.14 425.49h1.1v1.1h-1.1zM50.14 424.3h1.1v1.1h-1.1zM64.68 424.23h1.1v1.1h-1.1zM64.68 421.8h1.1v1.1h-1.1zM64.68 419.87h1.1v1.1h-1.1zM99.84 425.44h1.1v1.1h-1.1zM99.84 424.12h1.1v1.1h-1.1zM80.8 426.92h1.1v1.1h-1.1zM80.8 425.81h1.1v1.1h-1.1zM80.8 424.42h1.1v1.1h-1.1zM80.8 423.43h1.1v1.1h-1.1zM80 422.12h1.1v1.1h-1.1zM80 419.85h1.1v1.1h-1.1zM80 418.88h1.1v1.1h-1.1zM80 416.43h1.1v1.1h-1.1zM72.76 424.65h1.1v1.1h-1.1zM72.76 422.3h1.1v1.1h-1.1zM72.76 421.39h1.1v1.1h-1.1zM72.76 420.08h1.1v1.1h-1.1zM72.76 418.82h1.1v1.1h-1.1zM67.65 424.01h1.1v1.1h-1.1zM67.65 422.75h1.1v1.1h-1.1zM67.65 421.76h1.1v1.1h-1.1zM56.34 424.44h1.1v1.1h-1.1zM56.34 423.44h1.1v1.1h-1.1zM56.34 418.25h1.1v1.1h-1.1zM83.03 423.71h1.1v1.1h-1.1zM83.03 422.41h1.1v1.1h-1.1zM83.03 420.99h1.1v1.1h-1.1zM83.5 423.19h1.1v1.1h-1.1zM83.5 421.81h1.1v1.1h-1.1zM83.5 420.56h1.1v1.1h-1.1zM72.31 421.6h1.1v1.1h-1.1zM72.31 419.62h1.1v1.1h-1.1zM72.31 418.16h1.1v1.1h-1.1zM53.32 422.12h1.1v1.1h-1.1zM53.32 421.04h1.1v1.1h-1.1zM53.32 419.68h1.1v1.1h-1.1zM53.32 417.82h1.1v1.1h-1.1zM53.32 416.64h1.1v1.1h-1.1zM53.32 415.47h1.1v1.1h-1.1zM53.32 414.4h1.1v1.1h-1.1zM53.32 413.34h1.1v1.1h-1.1zM53.32 412.47h1.1v1.1h-1.1zM53.32 411.47h1.1v1.1h-1.1zM71.28 421.8h1.1v1.1h-1.1zM71.28 420.52h1.1v1.1h-1.1zM71.28 417.81h1.1v1.1h-1.1zM71.28 416.79h1.1v1.1h-1.1zM71.28 415.93h1.1v1.1h-1.1zM71.28 414.77h1.1v1.1h-1.1zM71.28 413.9h1.1v1.1h-1.1zM71.28 413h1.1v1.1h-1.1zM71.28 411.74h1.1v1.1h-1.1zM98.19 423.8h1.1v1.1h-1.1zM98.19 422.62h1.1v1.1h-1.1zM98.19 421.43h1.1v1.1h-1.1zM98.19 420.5h1.1v1.1h-1.1zM98.19 419.52h1.1v1.1h-1.1zM98.19 418.2h1.1v1.1h-1.1zM96.66 424.94h1.1v1.1h-1.1zM96.66 423.7h1.1v1.1h-1.1zM67.05 424.48h1.1v1.1h-1.1zM67.05 423.04h1.1v1.1h-1.1zM67.05 421.01h1.1v1.1h-1.1zM67.05 420.1h1.1v1.1h-1.1zM97.96 424.38h1.1v1.1h-1.1zM97.96 423.32h1.1v1.1h-1.1zM97.96 422.04h1.1v1.1h-1.1zM97.96 420.7h1.1v1.1h-1.1zM90.12 422.08h1.1v1.1h-1.1zM90.12 420.8h1.1v1.1h-1.1zM90.12 419.7h1.1v1.1h-1.1zM78.78 426.91h1.1v1.1h-1.1zM78.78 425.64h1.1v1.1h-1.1zM78.78 423.3h1.1v1.1h-1.1zM78.78 422.26h1.1v1.1h-1.1zM78.78 421.11h1.1v1.1h-1.1zM78.78 419.82h1.1v1.1h-1.1zM78.78 418.39h1.1v1.1h-1.1zM57.79 422.64h1.1v1.1h-1.1zM57.79 420.76h1.1v1.1h-1.1zM90.48 424.46h1.1v1.1h-1.1zM90.48 423.61h1.1v1.1h-1.1zM90.48 422.74h1.1v1.1h-1.1zM90.48 420.18h1.1v1.1h-1.1zM90.48 417.42h1.1v1.1h-1.1zM90.48 416.51h1.1v1.1h-1.1zM90.48 415.17h1.1v1.1h-1.1zM90.48 414.06h1.1v1.1h-1.1zM90.48 411.61h1.1v1.1h-1.1zM90.48 410.56h1.1v1.1h-1.1zM91.43 426.84h1.1v1.1h-1.1zM91.43 425.45h1.1v1.1h-1.1zM66.4 423.87h1.1v1.1h-1.1zM66.4 421.41h1.1v1.1h-1.1zM66.4 419h1.1v1.1h-1.1zM66.4 417.8h1.1v1.1h-1.1zM66.4 416.59h1.1v1.1h-1.1zM66.4 414.39h1.1v1.1h-1.1zM90.12 422.19h1.1v1.1h-1.1zM90.12 420.72h1.1v1.1h-1.1zM59.3 423.32h1.1v1.1h-1.1zM59.3 421.9h1.1v1.1h-1.1zM59.3 420.5h1.1v1.1h-1.1zM59.3 419.31h1.1v1.1h-1.1zM71.37 417.53h1.1v1.1h-1.1zM59.72 416.97h1.1v1.1h-1.1zM94.8 422.53h1.1v1.1h-1.1zM59.67 418.27h1.1v1.1h-1.1zM50.2 419.65h1.1v1.1h-1.1zM49.64 418.09h1.1v1.1h-1.1zM95.45 419.5h1.1v1.1h-1.1zM66.73 424.24h1.1v1.1h-1.1zM68.03 417.03h1.1v1.1h-1.1zM68 419.68h1.1v1.1h-1.1zM92.73 426.34h1.1v1.1h-1.1zM49.91 419.13h1.1v1.1h-1.1zM61.18 422.9h1.1v1.1h-1.1zM65.48 422.14h1.1v1.1h-1.1zM63.06 417.32h1.1v1.1h-1.1zM98.9 418.26h1.1v1.1h-1.1zM73.2 416.74h1.1v1.1h-1.1zM183.96 423.87h1.1v1.1h-1.1zM183.96 422.42h1.1v1.1h-1.1zM183.96 421.1h1.1v1.1h-1.1zM177.55 427.34h1.1v1.1h-1.1zM177.55 424.73h1.1v1.1h-1.1zM177.55 423.32h1.1v1.1h-1.1zM177.55 421.87h1.1v1.1h-1.1zM177.55 420.99h1.1v1.1h-1.1zM177.55 419.89h1.1v1.1h-1.1zM177.55 418.55h1.1v1.1h-1.1zM190.52 426.43h1.1v1.1h-1.1zM190.52 425h1.1v1.1h-1.1zM190.52 423.96h1.1v1.1h-1.1zM190.52 422.73h1.1v1.1h-1.1zM190.52 421.32h1.1v1.1h-1.1zM190.52 419.26h1.1v1.1h-1.1zM190.52 418.36h1.1v1.1h-1.1zM152.89 425.82h1.1v1.1h-1.1zM152.89 424.71h1.1v1.1h-1.1zM152.89 422.46h1.1v1.1h-1.1zM152.89 421.04h1.1v1.1h-1.1zM152.89 419.02h1.1v1.1h-1.1zM152.89 417.65h1.1v1.1h-1.1zM152.89 416.19h1.1v1.1h-1.1zM152.89 415.14h1.1v1.1h-1.1zM176.48 420.47h1.1v1.1h-1.1zM176.48 419.2h1.1v1.1h-1.1zM176.48 417.92h1.1v1.1h-1.1zM176.48 416.61h1.1v1.1h-1.1zM176.48 412.89h1.1v1.1h-1.1zM162.5 426.05h1.1v1.1h-1.1zM162.5 424.6h1.1v1.1h-1.1zM162.5 423.71h1.1v1.1h-1.1zM162.5 422.55h1.1v1.1h-1.1zM162.5 421.69h1.1v1.1h-1.1zM156.44 424.35h1.1v1.1h-1.1zM156.44 422.9h1.1v1.1h-1.1zM156.44 422.04h1.1v1.1h-1.1zM172.43 422.07h1.1v1.1h-1.1zM168.3 427.25h1.1v1.1h-1.1zM168.3 425.78h1.1v1.1h-1.1zM168.3 424.35h1.1v1.1h-1.1zM168.3 422.97h1.1v1.1h-1.1zM168.3 422.09h1.1v1.1h-1.1zM168.3 418.26h1.1v1.1h-1.1zM168.3 416.98h1.1v1.1h-1.1zM191.48 421.91h1.1v1.1h-1.1zM191.48 420.66h1.1v1.1h-1.1zM191.48 419.55h1.1v1.1h-1.1zM191.48 418.47h1.1v1.1h-1.1zM170.97 427.09h1.1v1.1h-1.1zM170.97 423.53h1.1v1.1h-1.1zM170.97 422.26h1.1v1.1h-1.1zM170.97 420.05h1.1v1.1h-1.1zM170.97 418.95h1.1v1.1h-1.1zM152.03 424.71h1.1v1.1h-1.1zM152.03 423.63h1.1v1.1h-1.1zM152.03 422.22h1.1v1.1h-1.1zM152.03 421.31h1.1v1.1h-1.1zM152.03 419.93h1.1v1.1h-1.1zM152.03 418.63h1.1v1.1h-1.1zM152.03 416.36h1.1v1.1h-1.1zM168.15 422.96h1.1v1.1h-1.1zM168.15 421.79h1.1v1.1h-1.1zM168.15 420.39h1.1v1.1h-1.1zM168.15 419.45h1.1v1.1h-1.1zM168.15 418.33h1.1v1.1h-1.1zM168.15 416.02h1.1v1.1h-1.1zM160.34 423.6h1.1v1.1h-1.1zM160.34 419.47h1.1v1.1h-1.1zM160.34 418.03h1.1v1.1h-1.1zM160.34 417h1.1v1.1h-1.1zM160.34 415.59h1.1v1.1h-1.1zM180.81 423.35h1.1v1.1h-1.1zM180.81 421.93h1.1v1.1h-1.1zM180.81 420.85h1.1v1.1h-1.1zM180.81 418.57h1.1v1.1h-1.1zM180.81 417.64h1.1v1.1h-1.1zM180.81 416.65h1.1v1.1h-1.1zM169.92 424.87h1.1v1.1h-1.1zM169.92 424h1.1v1.1h-1.1zM169.92 422.86h1.1v1.1h-1.1zM169.92 421.82h1.1v1.1h-1.1zM169.92 420.35h1.1v1.1h-1.1zM169.92 419.36h1.1v1.1h-1.1zM169.92 416.51h1.1v1.1h-1.1zM169.92 414.25h1.1v1.1h-1.1zM166.94 422.32h1.1v1.1h-1.1zM166.94 420.86h1.1v1.1h-1.1zM166.94 419.59h1.1v1.1h-1.1zM166.94 418.7h1.1v1.1h-1.1zM166.94 417.51h1.1v1.1h-1.1zM166.94 416.5h1.1v1.1h-1.1zM166.94 415.29h1.1v1.1h-1.1zM166.94 413.82h1.1v1.1h-1.1zM159.39 424.24h1.1v1.1h-1.1zM159.39 423.34h1.1v1.1h-1.1zM159.39 422.48h1.1v1.1h-1.1zM182.09 423.34h1.1v1.1h-1.1zM182.09 422.31h1.1v1.1h-1.1zM182.09 421.44h1.1v1.1h-1.1zM168.73 422.99h1.1v1.1h-1.1zM168.73 421.79h1.1v1.1h-1.1zM168.73 420.58h1.1v1.1h-1.1zM168.73 418.18h1.1v1.1h-1.1zM168.73 415.76h1.1v1.1h-1.1zM186.82 424.6h1.1v1.1h-1.1zM186.82 423.18h1.1v1.1h-1.1zM186.82 421.79h1.1v1.1h-1.1zM186.82 420.78h1.1v1.1h-1.1zM186.82 419.7h1.1v1.1h-1.1zM186.82 417.23h1.1v1.1h-1.1zM186.82 416.05h1.1v1.1h-1.1zM158.17 421.33h1.1v1.1h-1.1zM158.17 420.47h1.1v1.1h-1.1zM189.11 422.86h1.1v1.1h-1.1zM189.11 421.52h1.1v1.1h-1.1zM189.11 419.59h1.1v1.1h-1.1zM189.11 418.68h1.1v1.1h-1.1zM169.64 424.48h1.1v1.1h-1.1zM169.64 423.15h1.1v1.1h-1.1zM169.64 421.84h1.1v1.1h-1.1zM169.64 420.88h1.1v1.1h-1.1zM169.64 419.48h1.1v1.1h-1.1zM169.64 418.18h1.1v1.1h-1.1zM169.64 416.77h1.1v1.1h-1.1zM169.64 415.84h1.1v1.1h-1.1zM169.64 414.75h1.1v1.1h-1.1zM188.1 426.38h1.1v1.1h-1.1zM188.1 425.37h1.1v1.1h-1.1zM188.1 423.25h1.1v1.1h-1.1zM188.1 421.8h1.1v1.1h-1.1zM153.37 423.43h1.1v1.1h-1.1zM153.37 421.97h1.1v1.1h-1.1zM153.37 419.61h1.1v1.1h-1.1zM153.37 418.37h1.1v1.1h-1.1zM190.87 425.56h1.1v1.1h-1.1zM190.87 424.66h1.1v1.1h-1.1zM190.87 423.42h1.1v1.1h-1.1zM190.87 422.23h1.1v1.1h-1.1zM190.87 420.96h1.1v1.1h-1.1zM190.87 419.81h1.1v1.1h-1.1zM190.87 417.64h1.1v1.1h-1.1zM190.87 414.95h1.1v1.1h-1.1zM190.87 413.68h1.1v1.1h-1.1zM179.4 427.23h1.1v1.1h-1.1zM179.4 424.11h1.1v1.1h-1.1zM159.44 427.28h1.1v1.1h-1.1zM159.44 426.29h1.1v1.1h-1.1zM189.52 424.47h1.1v1.1h-1.1zM189.52 422.68h1.1v1.1h-1.1zM184.48 426.08h1.1v1.1h-1.1zM176.98 423.55h1.1v1.1h-1.1zM162.05 425.24h1.1v1.1h-1.1zM183.92 417.67h1.1v1.1h-1.1zM152.72 422.6h1.1v1.1h-1.1zM158.21 424.93h1.1v1.1h-1.1zM190.46 419.7h1.1v1.1h-1.1zM171 420.05h1.1v1.1h-1.1zM182.51 418.69h1.1v1.1h-1.1zM164.95 418.13h1.1v1.1h-1.1zM152.09 420.95h1.1v1.1h-1.1zM165.55 420.89h1.1v1.1h-1.1zM166.21 418h1.1v1.1h-1.1zM151.62 418.47h1.1v1.1h-1.1zM236.5 423.08h1.1v1.1h-1.1zM236.5 420.77h1.1v1.1h-1.1zM236.5 418.34h1.1v1.1h-1.1zM236.5 416.87h1.1v1.1h-1.1zM236.5 415.98h1.1v1.1h-1.1zM236.5 414.12h1.1v1.1h-1.1zM257.95 423.73h1.1v1.1h-1.1zM257.95 422.54h1.1v1.1h-1.1zM257.95 421.45h1.1v1.1h-1.1zM257.95 420.25h1.1v1.1h-1.1zM257.95 417.93h1.1v1.1h-1.1zM257.95 416.47h1.1v1.1h-1.1zM268.74 423.92h1.1v1.1h-1.1zM268.74 422.79h1.1v1.1h-1.1zM268.74 421.46h1.1v1.1h-1.1zM268.74 420.04h1.1v1.1h-1.1zM268.74 418.98h1.1v1.1h-1.1zM253.52 425.45h1.1v1.1h-1.1zM253.52 424.15h1.1v1.1h-1.1zM253.52 422.99h1.1v1.1h-1.1zM257.09 422.75h1.1v1.1h-1.1zM257.09 421.5h1.1v1.1h-1.1zM257.09 420.35h1.1v1.1h-1.1zM253.53 425.77h1.1v1.1h-1.1zM253.53 424.48h1.1v1.1h-1.1zM253.53 423.13h1.1v1.1h-1.1zM253.53 422.21h1.1v1.1h-1.1zM253.53 421.17h1.1v1.1h-1.1zM253.53 418.96h1.1v1.1h-1.1zM253.53 417.88h1.1v1.1h-1.1zM239.56 427.36h1.1v1.1h-1.1zM239.56 426.48h1.1v1.1h-1.1zM239.56 425.25h1.1v1.1h-1.1zM239.56 422.68h1.1v1.1h-1.1zM239.97 420.74h1.1v1.1h-1.1zM239.97 419.85h1.1v1.1h-1.1zM239.97 418.81h1.1v1.1h-1.1zM239.97 417.41h1.1v1.1h-1.1zM239.97 414.06h1.1v1.1h-1.1zM265.5 425.86h1.1v1.1h-1.1zM265.5 424.38h1.1v1.1h-1.1zM265.5 423.05h1.1v1.1h-1.1zM265.5 421.07h1.1v1.1h-1.1zM265.5 420.18h1.1v1.1h-1.1zM239.15 423.23h1.1v1.1h-1.1zM239.15 421.98h1.1v1.1h-1.1zM239.15 420.83h1.1v1.1h-1.1zM239.15 419.97h1.1v1.1h-1.1zM239.15 418.99h1.1v1.1h-1.1zM239.15 417.84h1.1v1.1h-1.1zM250.27 426.63h1.1v1.1h-1.1zM250.27 424.32h1.1v1.1h-1.1zM250.27 423.26h1.1v1.1h-1.1zM259.38 423.16h1.1v1.1h-1.1zM259.38 421.82h1.1v1.1h-1.1zM259.38 420.78h1.1v1.1h-1.1zM259.38 417.66h1.1v1.1h-1.1zM259.99 422.8h1.1v1.1h-1.1zM259.99 421.9h1.1v1.1h-1.1zM259.99 420.65h1.1v1.1h-1.1zM259.99 419.76h1.1v1.1h-1.1zM259.99 418.58h1.1v1.1h-1.1zM259.99 417.19h1.1v1.1h-1.1zM259.99 416.07h1.1v1.1h-1.1zM259.99 414.88h1.1v1.1h-1.1zM245.13 426.04h1.1v1.1h-1.1zM245.13 422.28h1.1v1.1h-1.1zM245.13 421.01h1.1v1.1h-1.1zM245.13 418.53h1.1v1.1h-1.1zM245.13 415.79h1.1v1.1h-1.1zM245.13 414.6h1.1v1.1h-1.1zM245.13 413.55h1.1v1.1h-1.1zM245.13 412.31h1.1v1.1h-1.1zM245.13 411.31h1.1v1.1h-1.1zM245.13 409.95h1.1v1.1h-1.1zM245.13 408.87h1.1v1.1h-1.1zM253.86 427.2h1.1v1.1h-1.1zM253.86 425.14h1.1v1.1h-1.1zM253.86 423.81h1.1v1.1h-1.1zM253.86 422.83h1.1v1.1h-1.1zM253.86 421.5h1.1v1.1h-1.1zM253.86 420.34h1.1v1.1h-1.1zM253.86 419.16h1.1v1.1h-1.1zM253.86 418.3h1.1v1.1h-1.1zM253.86 416.93h1.1v1.1h-1.1zM256.2 425.95h1.1v1.1h-1.1zM256.2 422.76h1.1v1.1h-1.1zM256.2 420.88h1.1v1.1h-1.1zM256.2 419.88h1.1v1.1h-1.1zM256.2 418.47h1.1v1.1h-1.1zM256.2 417.43h1.1v1.1h-1.1zM244 422.38h1.1v1.1h-1.1zM244 421.04h1.1v1.1h-1.1zM263.61 419.82h1.1v1.1h-1.1zM235.47 417.22h1.1v1.1h-1.1zM239.86 425.06h1.1v1.1h-1.1zM244.84 421.3h1.1v1.1h-1.1zM245.54 422.02h1.1v1.1h-1.1zM244.85 424.12h1.1v1.1h-1.1zM259.8 419.54h1.1v1.1h-1.1zM235.57 417.15h1.1v1.1h-1.1zM239.9 423.27h1.1v1.1h-1.1zM262.05 417.56h1.1v1.1h-1.1zM268.68 417.39h1.1v1.1h-1.1zM253.52 416.99h1.1v1.1h-1.1zM262.75 417.71h1.1v1.1h-1.1zM323.89 422.47h1.1v1.1h-1.1zM323.89 421.15h1.1v1.1h-1.1zM323.89 419.78h1.1v1.1h-1.1zM323.89 417.87h1.1v1.1h-1.1zM315.59 425.15h1.1v1.1h-1.1zM315.59 422.77h1.1v1.1h-1.1zM315.59 421.74h1.1v1.1h-1.1zM328.71 425.85h1.1v1.1h-1.1zM327.64 424.12h1.1v1.1h-1.1zM327.64 421.76h1.1v1.1h-1.1zM327.64 419.7h1.1v1.1h-1.1zM327.64 417.36h1.1v1.1h-1.1zM332.92 424.89h1.1v1.1h-1.1zM332.92 423.78h1.1v1.1h-1.1zM332.92 422.83h1.1v1.1h-1.1zM332.92 420.67h1.1v1.1h-1.1zM332.92 419.67h1.1v1.1h-1.1zM333.48 427.2h1.1v1.1h-1.1zM333.48 426.3h1.1v1.1h-1.1zM333.48 425.07h1.1v1.1h-1.1zM333.48 423.75h1.1v1.1h-1.1zM321.56 422.32h1.1v1.1h-1.1zM321.56 418.88h1.1v1.1h-1.1zM321.56 417.4h1.1v1.1h-1.1zM321.56 415.27h1.1v1.1h-1.1zM311.03 424.16h1.1v1.1h-1.1zM311.03 422.87h1.1v1.1h-1.1zM311.03 421.67h1.1v1.1h-1.1zM311.03 420.63h1.1v1.1h-1.1zM311.03 418.71h1.1v1.1h-1.1zM335.26 423.71h1.1v1.1h-1.1zM335.26 422.33h1.1v1.1h-1.1zM335.26 421.21h1.1v1.1h-1.1zM335.26 420.19h1.1v1.1h-1.1zM335.26 419.33h1.1v1.1h-1.1zM335.26 418.27h1.1v1.1h-1.1zM335.26 417.14h1.1v1.1h-1.1zM335.26 415.72h1.1v1.1h-1.1zM335.26 414.68h1.1v1.1h-1.1zM335.26 413.61h1.1v1.1h-1.1zM335.26 412.3h1.1v1.1h-1.1zM310.48 426.61h1.1v1.1h-1.1zM310.48 425.49h1.1v1.1h-1.1zM310.48 423.51h1.1v1.1h-1.1zM310.48 422.21h1.1v1.1h-1.1zM310.48 421.32h1.1v1.1h-1.1zM310.48 416.88h1.1v1.1h-1.1zM310.48 414.79h1.1v1.1h-1.1zM310.48 413.31h1.1v1.1h-1.1zM331.14 424.55h1.1v1.1h-1.1zM331.14 422.25h1.1v1.1h-1.1zM322.51 423.35h1.1v1.1h-1.1zM322.51 422.17h1.1v1.1h-1.1zM322.51 421.26h1.1v1.1h-1.1zM322.51 420.26h1.1v1.1h-1.1zM322.51 418.78h1.1v1.1h-1.1zM322.51 416.86h1.1v1.1h-1.1zM322.51 415.59h1.1v1.1h-1.1zM322.51 413.28h1.1v1.1h-1.1zM317.05 423.79h1.1v1.1h-1.1zM317.05 421.33h1.1v1.1h-1.1zM317.05 418.41h1.1v1.1h-1.1zM317.05 417.08h1.1v1.1h-1.1zM335.77 423.69h1.1v1.1h-1.1zM335.77 422.55h1.1v1.1h-1.1zM335.77 421.47h1.1v1.1h-1.1zM335.77 417.95h1.1v1.1h-1.1zM335.77 416.96h1.1v1.1h-1.1zM326.77 424.56h1.1v1.1h-1.1zM326.77 423.25h1.1v1.1h-1.1zM326.77 422.17h1.1v1.1h-1.1zM310.86 425.96h1.1v1.1h-1.1zM310.86 424.98h1.1v1.1h-1.1zM315.57 424.83h1.1v1.1h-1.1zM330.12 424.91h1.1v1.1h-1.1zM337.04 418.01h1.1v1.1h-1.1zM309.05 422.66h1.1v1.1h-1.1zM336.08 423.26h1.1v1.1h-1.1zM320.24 426.21h1.1v1.1h-1.1zM324.94 418.16h1.1v1.1h-1.1zM324.81 425.95h1.1v1.1h-1.1zM312.84 424.68h1.1v1.1h-1.1zM333.6 421.33h1.1v1.1h-1.1zM330.04 418.48h1.1v1.1h-1.1zM397.96 426.86h1.1v1.1h-1.1zM390.42 423.25h1.1v1.1h-1.1zM390.42 422.34h1.1v1.1h-1.1zM390.42 421.23h1.1v1.1h-1.1zM390.42 419.86h1.1v1.1h-1.1zM390.42 418.78h1.1v1.1h-1.1zM390.42 416.7h1.1v1.1h-1.1zM390.42 415.33h1.1v1.1h-1.1zM390.42 413.06h1.1v1.1h-1.1zM388.18 425.95h1.1v1.1h-1.1zM388.18 424.76h1.1v1.1h-1.1zM388.18 422.79h1.1v1.1h-1.1zM388.18 420.19h1.1v1.1h-1.1zM388.18 416.56h1.1v1.1h-1.1zM388.18 415.36h1.1v1.1h-1.1zM373.97 424.8h1.1v1.1h-1.1zM373.97 420.94h1.1v1.1h-1.1zM388.54 426.36h1.1v1.1h-1.1zM388.54 424.96h1.1v1.1h-1.1zM388.54 424.03h1.1v1.1h-1.1zM388.54 423.1h1.1v1.1h-1.1zM388.54 420.94h1.1v1.1h-1.1zM398.11 425.46h1.1v1.1h-1.1zM398.11 422.84h1.1v1.1h-1.1zM397.14 421.02h1.1v1.1h-1.1zM397.14 418.28h1.1v1.1h-1.1zM397.14 417.18h1.1v1.1h-1.1zM386.05 425.81h1.1v1.1h-1.1zM386.05 424.91h1.1v1.1h-1.1zM386.05 423.95h1.1v1.1h-1.1zM386.05 422.61h1.1v1.1h-1.1zM386.05 421.46h1.1v1.1h-1.1zM386.05 420.23h1.1v1.1h-1.1zM386.05 416.71h1.1v1.1h-1.1zM386.05 415.52h1.1v1.1h-1.1zM386.41 426.91h1.1v1.1h-1.1zM386.41 423.11h1.1v1.1h-1.1zM386.41 422.12h1.1v1.1h-1.1zM386.41 420.99h1.1v1.1h-1.1zM373.96 422.37h1.1v1.1h-1.1zM373.96 421.23h1.1v1.1h-1.1zM373.96 417.93h1.1v1.1h-1.1zM373.96 417.06h1.1v1.1h-1.1zM388.33 424.16h1.1v1.1h-1.1zM388.33 423.22h1.1v1.1h-1.1zM388.33 421.8h1.1v1.1h-1.1zM388.33 419.82h1.1v1.1h-1.1zM388.33 418.47h1.1v1.1h-1.1zM388.33 417.41h1.1v1.1h-1.1zM379.62 423.86h1.1v1.1h-1.1zM379.62 421.66h1.1v1.1h-1.1zM379.17 422.09h1.1v1.1h-1.1zM386.39 421.89h1.1v1.1h-1.1zM384.75 420.64h1.1v1.1h-1.1zM397.84 419.35h1.1v1.1h-1.1zM376.32 425.46h1.1v1.1h-1.1zM392.72 419.47h1.1v1.1h-1.1zM391.66 424.44h1.1v1.1h-1.1zM377.29 419.57h1.1v1.1h-1.1zM376.69 423.12h1.1v1.1h-1.1zM392.28 421.54h1.1v1.1h-1.1zM436.11 426.61h1.1v1.1h-1.1zM436.11 425.44h1.1v1.1h-1.1zM436.11 421.9h1.1v1.1h-1.1zM436.11 421.02h1.1v1.1h-1.1zM436.11 420.12h1.1v1.1h-1.1zM443.51 422.69h1.1v1.1h-1.1zM443.51 421.75h1.1v1.1h-1.1zM443.51 420.71h1.1v1.1h-1.1zM443.51 418.49h1.1v1.1h-1.1zM443.51 417.51h1.1v1.1h-1.1zM443.51 416.65h1.1v1.1h-1.1zM443.51 414.32h1.1v1.1h-1.1zM443.51 413.03h1.1v1.1h-1.1zM435.48 422.19h1.1v1.1h-1.1zM435.48 420.19h1.1v1.1h-1.1zM435.48 419.15h1.1v1.1h-1.1zM442.12 426.19h1.1v1.1h-1.1zM442.12 424.24h1.1v1.1h-1.1zM443.94 422.93h1.1v1.1h-1.1zM443.94 421.77h1.1v1.1h-1.1zM436.29 422.54h1.1v1.1h-1.1zM436.29 421.51h1.1v1.1h-1.1zM436.29 420.53h1.1v1.1h-1.1zM436.29 418.27h1.1v1.1h-1.1zM436.29 417.25h1.1v1.1h-1.1zM454.21 425.26h1.1v1.1h-1.1zM454.21 424.09h1.1v1.1h-1.1zM454.21 422.7h1.1v1.1h-1.1zM454.21 418.91h1.1v1.1h-1.1zM454.21 417.5h1.1v1.1h-1.1zM436.98 427.24h1.1v1.1h-1.1zM436.98 426.33h1.1v1.1h-1.1zM433.07 425.08h1.1v1.1h-1.1zM433.07 423.81h1.1v1.1h-1.1zM440.59 423.47h1.1v1.1h-1.1zM440.59 422.33h1.1v1.1h-1.1zM440.59 421.45h1.1v1.1h-1.1zM440.59 420.47h1.1v1.1h-1.1zM440.59 419.04h1.1v1.1h-1.1zM440.59 416.59h1.1v1.1h-1.1zM455.49 422.21h1.1v1.1h-1.1zM455.49 421.32h1.1v1.1h-1.1zM431.11 424.11h1.1v1.1h-1.1zM448.98 422.8h1.1v1.1h-1.1zM448.98 421.8h1.1v1.1h-1.1zM448.98 420.66h1.1v1.1h-1.1zM448.98 419.25h1.1v1.1h-1.1zM448.98 417.15h1.1v1.1h-1.1zM448.98 415.8h1.1v1.1h-1.1zM448.98 414.73h1.1v1.1h-1.1zM451.09 421.23h1.1v1.1h-1.1zM451.09 420.01h1.1v1.1h-1.1zM451.09 418.56h1.1v1.1h-1.1zM451.09 417.63h1.1v1.1h-1.1zM451.09 416.78h1.1v1.1h-1.1zM451.09 415.61h1.1v1.1h-1.1zM451.09 414.12h1.1v1.1h-1.1zM452.74 423.6h1.1v1.1h-1.1zM452.74 422.71h1.1v1.1h-1.1zM452.74 419.23h1.1v1.1h-1.1zM452.74 418.1h1.1v1.1h-1.1zM452.74 417.12h1.1v1.1h-1.1zM433.39 422.17h1.1v1.1h-1.1zM433.39 421.04h1.1v1.1h-1.1zM433.39 420h1.1v1.1h-1.1zM433.39 419.02h1.1v1.1h-1.1zM441.6 417.35h1.1v1.1h-1.1zM449.41 424.82h1.1v1.1h-1.1zM452.01 423.42h1.1v1.1h-1.1zM452.96 416.25h1.1v1.1h-1.1zM433.55 422.78h1.1v1.1h-1.1zM430.6 417.89h1.1v1.1h-1.1zM447.17 424.79h1.1v1.1h-1.1zM454.72 423.12h1.1v1.1h-1.1zM435 416.24h1.1v1.1h-1.1zM452.21 425.3h1.1v1.1h-1.1zM506.31 424.64h1.1v1.1h-1.1zM506.31 423.36h1.1v1.1h-1.1zM506.31 422.05h1.1v1.1h-1.1zM506.74 424.99h1.1v1.1h-1.1zM502.68 425.3h1.1v1.1h-1.1zM502.68 423.85h1.1v1.1h-1.1zM502.68 421.61h1.1v1.1h-1.1zM502.68 420.42h1.1v1.1h-1.1zM502.68 419.51h1.1v1.1h-1.1zM502.68 417.34h1.1v1.1h-1.1zM498.23 416.29h1.1v1.1h-1.1zM497.55 425.21h1.1v1.1h-1.1zM507.1 421.39h1.1v1.1h-1.1zM508.37 423.61h1.1v1.1h-1.1zM544.75 422.33h1.1v1.1h-1.1zM544.75 421.18h1.1v1.1h-1.1zM544.75 420.13h1.1v1.1h-1.1zM537.04 423.91h1.1v1.1h-1.1zM537.04 422.99h1.1v1.1h-1.1zM537.04 421.54h1.1v1.1h-1.1zM537.04 420.08h1.1v1.1h-1.1zM537.04 418.77h1.1v1.1h-1.1zM537.04 417.56h1.1v1.1h-1.1zM539.38 423.86h1.1v1.1h-1.1zM539.38 420.9h1.1v1.1h-1.1zM539.38 419.78h1.1v1.1h-1.1zM539.38 417.11h1.1v1.1h-1.1zM539.38 416.09h1.1v1.1h-1.1zM539.38 414.62h1.1v1.1h-1.1zM548.25 422.83h1.1v1.1h-1.1zM548.25 417.61h1.1v1.1h-1.1zM548.25 416.14h1.1v1.1h-1.1zM548.25 415.12h1.1v1.1h-1.1zM548.25 413.87h1.1v1.1h-1.1zM548.25 410.2h1.1v1.1h-1.1zM548.25 409.08h1.1v1.1h-1.1zM551.42 424.27h1.1v1.1h-1.1zM542.11 425.27h1.1v1.1h-1.1zM545.89 420.46h1.1v1.1h-1.1zM586.38 427.02h1.1v1.1h-1.1zM586.38 423.47h1.1v1.1h-1.1zM586.38 422.47h1.1v1.1h-1.1zM578.68 424.18h1.1v1.1h-1.1zM578.68 423.17h1.1v1.1h-1.1zM578.68 422.19h1.1v1.1h-1.1zM578.68 419.99h1.1v1.1h-1.1zM578.68 417.57h1.1v1.1h-1.1zM578.68 416.59h1.1v1.1h-1.1zM578.68 415.68h1.1v1.1h-1.1zM589.04 423.03h1.1v1.1h-1.1zM589.04 420.06h1.1v1.1h-1.1zM584.93 421.73h1.1v1.1h-1.1zM584.93 420.64h1.1v1.1h-1.1zM573.71 422.96h1.1v1.1h-1.1zM573.71 421.95h1.1v1.1h-1.1zM573.71 420.78h1.1v1.1h-1.1zM573.71 417.56h1.1v1.1h-1.1zM573.71 416.46h1.1v1.1h-1.1zM573.71 415.46h1.1v1.1h-1.1zM573.71 414.52h1.1v1.1h-1.1zM573.71 413.24h1.1v1.1h-1.1zM573.71 412.19h1.1v1.1h-1.1zM573.28 421.68h1.1v1.1h-1.1zM573.28 419.54h1.1v1.1h-1.1zM573.28 418.62h1.1v1.1h-1.1zM577.84 424.06h1.1v1.1h-1.1zM577.84 420.99h1.1v1.1h-1.1zM577.84 419.89h1.1v1.1h-1.1zM581.88 425.7h1.1v1.1h-1.1zM581.88 424.61h1.1v1.1h-1.1zM581.88 423.7h1.1v1.1h-1.1zM581.88 422.82h1.1v1.1h-1.1zM578.54 422.5h1.1v1.1h-1.1zM588.73 422.21h1.1v1.1h-1.1zM588.73 419.71h1.1v1.1h-1.1zM588.73 418.78h1.1v1.1h-1.1zM585.66 425.23h1.1v1.1h-1.1zM585.66 423.9h1.1v1.1h-1.1zM585.66 422.48h1.1v1.1h-1.1zM585.66 421.06h1.1v1.1h-1.1zM585.66 419.15h1.1v1.1h-1.1zM585.66 417.93h1.1v1.1h-1.1zM585.66 416.85h1.1v1.1h-1.1zM585.66 415.8h1.1v1.1h-1.1zM586.61 421.34h1.1v1.1h-1.1zM581.75 426.82h1.1v1.1h-1.1zM581.75 425.48h1.1v1.1h-1.1zM581.75 424.59h1.1v1.1h-1.1zM578.14 416.05h1.1v1.1h-1.1zM588.53 422.11h1.1v1.1h-1.1zM586.07 424.45h1.1v1.1h-1.1zM612.11 422.67h1.1v1.1h-1.1zM612.11 419.84h1.1v1.1h-1.1zM612.11 418.86h1.1v1.1h-1.1zM612.11 417.93h1.1v1.1h-1.1zM612.11 416.77h1.1v1.1h-1.1zM610.2 423.08h1.1v1.1h-1.1zM610.2 421.84h1.1v1.1h-1.1zM610.2 419.12h1.1v1.1h-1.1zM610.2 417.74h1.1v1.1h-1.1zM610.2 416.45h1.1v1.1h-1.1zM610.2 414.22h1.1v1.1h-1.1zM615.14 424.64h1.1v1.1h-1.1zM615.14 422.3h1.1v1.1h-1.1zM615.14 421.41h1.1v1.1h-1.1zM615.14 420.36h1.1v1.1h-1.1zM617.56 425.14h1.1v1.1h-1.1zM617.56 424.17h1.1v1.1h-1.1zM613.96 424.93h1.1v1.1h-1.1zM613.96 423.71h1.1v1.1h-1.1zM613.96 422.33h1.1v1.1h-1.1zM607.82 423.36h1.1v1.1h-1.1zM607.82 422.03h1.1v1.1h-1.1zM612.1 424.6h1.1v1.1h-1.1zM606.53 424.36h1.1v1.1h-1.1zM636.42 422.64h1.1v1.1h-1.1zM636.42 420.69h1.1v1.1h-1.1zM637.31 423.62h1.1v1.1h-1.1zM49.15 427.37h1.1v1.1h-1.1zM49.15 425.93h1.1v1.1h-1.1zM49.15 424.84h1.1v1.1h-1.1zM49.15 423.34h1.1v1.1h-1.1zM49.15 422.29h1.1v1.1h-1.1zM49.15 421.08h1.1v1.1h-1.1zM49.15 420.05h1.1v1.1h-1.1zM49.15 418.67h1.1v1.1h-1.1zM49.15 417.76h1.1v1.1h-1.1zM49.15 415.88h1.1v1.1h-1.1zM49.15 414.68h1.1v1.1h-1.1zM49.15 413.76h1.1v1.1h-1.1zM49.15 412.2h1.1v1.1h-1.1zM49.15 411.07h1.1v1.1h-1.1zM49.15 409.7h1.1v1.1h-1.1zM49.2 407.69h1v1h-1zM49.2 405.67h1v1h-1zM49.2 403.6h1v1h-1zM49.2 402.31h1v1h-1zM49.2 401.22h1v1h-1zM49.2 399.68h1v1h-1zM49.2 397.6h1v1h-1zM49.2 395.95h1v1h-1zM49.2 394.42h1v1h-1zM49.2 392.87h1v1h-1zM49.2 390.8h1v1h-1zM49.2 355.56h1v1h-1zM49.2 354.48h1v1h-1zM49.2 353.17h1v1h-1zM49.2 351.94h1v1h-1zM49.2 350.96h1v1h-1zM49.2 349.29h1v1h-1zM49.2 348.18h1v1h-1zM49.2 340.69h1v1h-1zM49.2 338.67h1v1h-1zM49.2 337.42h1v1h-1zM49.2 335.99h1v1h-1zM49.2 334.67h1v1h-1zM49.2 333.71h1v1h-1zM49.2 317.68h1v1h-1zM49.2 312.37h1v1h-1zM49.2 307.06h1v1h-1zM49.2 295.73h1v1h-1zM49.2 294.28h1v1h-1zM49.2 293.21h1v1h-1zM49.2 291.96h1v1h-1zM49.2 290.33h1v1h-1zM72.85 427.37h1.1v1.1h-1.1zM72.85 426.33h1.1v1.1h-1.1zM72.85 424.8h1.1v1.1h-1.1zM72.85 423.38h1.1v1.1h-1.1zM72.85 421.84h1.1v1.1h-1.1zM72.85 420.13h1.1v1.1h-1.1zM72.85 418.03h1.1v1.1h-1.1zM72.85 416.71h1.1v1.1h-1.1zM72.85 415.82h1.1v1.1h-1.1zM72.85 414.82h1.1v1.1h-1.1zM72.85 413.04h1.1v1.1h-1.1zM72.85 411.64h1.1v1.1h-1.1zM72.85 410.66h1.1v1.1h-1.1zM72.85 408.77h1.1v1.1h-1.1zM72.9 407.25h1v1h-1zM72.9 405.57h1v1h-1zM72.9 403.71h1v1h-1zM72.9 401.89h1v1h-1zM72.9 400.12h1v1h-1zM72.9 398.2h1v1h-1zM72.9 396.2h1v1h-1zM72.9 394.41h1v1h-1zM72.9 393.48h1v1h-1zM72.9 392.49h1v1h-1zM72.9 391.3h1v1h-1zM72.9 389.35h1v1h-1zM72.9 388.19h1v1h-1zM72.9 385.65h1v1h-1zM72.9 383.77h1v1h-1zM72.9 375.38h1v1h-1zM72.9 374.28h1v1h-1zM72.9 373.28h1v1h-1zM72.9 371.26h1v1h-1zM72.9 370.27h1v1h-1zM72.9 331.84h1v1h-1zM72.9 330.81h1v1h-1zM81.05 427.37h1.1v1.1h-1.1zM81.05 426.16h1.1v1.1h-1.1zM81.05 424.34h1.1v1.1h-1.1zM81.05 423.03h1.1v1.1h-1.1zM81.05 421.23h1.1v1.1h-1.1zM81.05 419.28h1.1v1.1h-1.1zM81.05 417.47h1.1v1.1h-1.1zM81.05 415.87h1.1v1.1h-1.1zM81.05 414.92h1.1v1.1h-1.1zM81.05 413.37h1.1v1.1h-1.1zM81.05 411.85h1.1v1.1h-1.1zM81.05 410.22h1.1v1.1h-1.1zM81.05 408.97h1.1v1.1h-1.1zM81.1 406.9h1v1h-1zM81.1 405.2h1v1h-1zM81.1 403.26h1v1h-1zM81.1 401.17h1v1h-1zM81.1 399.18h1v1h-1zM81.1 397.35h1v1h-1zM81.1 396.32h1v1h-1zM81.1 394.58h1v1h-1zM81.1 392.55h1v1h-1zM81.1 379.63h1v1h-1zM81.1 377.55h1v1h-1zM81.1 361.93h1v1h-1zM81.1 360.69h1v1h-1zM183.95 427.37h1.1v1.1h-1.1zM183.95 426.36h1.1v1.1h-1.1zM183.95 425.09h1.1v1.1h-1.1zM183.95 423.85h1.1v1.1h-1.1zM183.95 422.93h1.1v1.1h-1.1zM183.95 421.88h1.1v1.1h-1.1zM183.95 420.89h1.1v1.1h-1.1zM183.95 419.5h1.1v1.1h-1.1zM183.95 418.52h1.1v1.1h-1.1zM183.95 417.11h1.1v1.1h-1.1zM183.95 415.94h1.1v1.1h-1.1zM183.95 414.65h1.1v1.1h-1.1zM183.95 413.82h1.1v1.1h-1.1zM184 402.29h1v1h-1zM184 401.14h1v1h-1zM184 399.74h1v1h-1zM184 398.89h1v1h-1zM248.75 427.37h1.1v1.1h-1.1zM248.75 425.57h1.1v1.1h-1.1zM248.75 424h1.1v1.1h-1.1zM248.75 422.78h1.1v1.1h-1.1zM248.75 421.63h1.1v1.1h-1.1zM248.75 419.75h1.1v1.1h-1.1zM248.75 418.29h1.1v1.1h-1.1zM248.75 416.92h1.1v1.1h-1.1zM248.75 415.22h1.1v1.1h-1.1zM248.75 413.32h1.1v1.1h-1.1zM248.75 412.25h1.1v1.1h-1.1zM248.75 410.71h1.1v1.1h-1.1zM248.75 408.95h1.1v1.1h-1.1zM248.8 407.24h1v1h-1zM248.8 406.27h1v1h-1zM248.8 404.27h1v1h-1zM248.8 402.2h1v1h-1zM248.8 400.75h1v1h-1zM248.8 399.85h1v1h-1zM248.8 398.96h1v1h-1zM248.8 398.02h1v1h-1zM248.8 396.6h1v1h-1zM248.8 394.79h1v1h-1zM248.8 393.4h1v1h-1zM248.8 392.16h1v1h-1zM248.8 391.01h1v1h-1zM248.8 388.94h1v1h-1zM248.8 387.48h1v1h-1zM248.8 386.29h1v1h-1zM248.8 385.02h1v1h-1zM248.8 383.47h1v1h-1zM315.75 427.37h1.1v1.1h-1.1zM315.75 426.45h1.1v1.1h-1.1zM315.75 425.7h1.1v1.1h-1.1zM315.75 424.32h1.1v1.1h-1.1zM315.75 423.38h1.1v1.1h-1.1zM315.75 422.04h1.1v1.1h-1.1zM315.75 421.13h1.1v1.1h-1.1zM315.75 419.91h1.1v1.1h-1.1zM315.75 419.14h1.1v1.1h-1.1zM315.75 417.86h1.1v1.1h-1.1zM315.75 416.51h1.1v1.1h-1.1zM315.75 415.38h1.1v1.1h-1.1zM315.75 414.03h1.1v1.1h-1.1zM315.75 412.88h1.1v1.1h-1.1zM315.75 411.63h1.1v1.1h-1.1zM315.75 410.54h1.1v1.1h-1.1zM315.8 400.87h1v1h-1zM315.8 399.59h1v1h-1zM315.8 398.76h1v1h-1zM315.8 397.43h1v1h-1zM315.8 396.62h1v1h-1zM315.8 395.67h1v1h-1zM315.8 394.27h1v1h-1zM315.8 384.94h1v1h-1zM315.8 383.58h1v1h-1zM315.8 381.79h1v1h-1zM315.8 379.93h1v1h-1zM315.8 371.49h1v1h-1zM315.8 370.53h1v1h-1zM315.8 369.5h1v1h-1zM315.8 367.46h1v1h-1zM315.8 366.34h1v1h-1zM315.8 364.23h1v1h-1zM315.8 362.63h1v1h-1zM386.45 427.37h1.1v1.1h-1.1zM386.45 426.59h1.1v1.1h-1.1zM386.45 425.64h1.1v1.1h-1.1zM386.45 424.25h1.1v1.1h-1.1zM386.45 422.86h1.1v1.1h-1.1zM386.45 422.1h1.1v1.1h-1.1zM386.45 420.97h1.1v1.1h-1.1zM386.45 419.66h1.1v1.1h-1.1zM386.45 418.93h1.1v1.1h-1.1zM386.45 418.09h1.1v1.1h-1.1zM386.45 416.92h1.1v1.1h-1.1zM386.45 415.98h1.1v1.1h-1.1zM386.45 415.05h1.1v1.1h-1.1zM386.45 414.33h1.1v1.1h-1.1zM386.45 413.62h1.1v1.1h-1.1zM386.45 412.63h1.1v1.1h-1.1zM386.45 411.55h1.1v1.1h-1.1zM386.45 410.55h1.1v1.1h-1.1zM386.45 409.14h1.1v1.1h-1.1zM386.45 408.19h1.1v1.1h-1.1zM386.5 407.38h1v1h-1zM386.5 406.54h1v1h-1zM386.5 405.59h1v1h-1zM386.5 404.35h1v1h-1zM386.5 403h1v1h-1zM386.5 401.63h1v1h-1zM386.5 400.25h1v1h-1zM386.5 399.1h1v1h-1zM386.5 398.22h1v1h-1zM386.5 397.11h1v1h-1zM386.5 395.85h1v1h-1zM396.05 427.37h1.1v1.1h-1.1zM396.05 426.32h1.1v1.1h-1.1zM396.05 425.23h1.1v1.1h-1.1zM396.05 424.18h1.1v1.1h-1.1zM396.05 422.97h1.1v1.1h-1.1zM396.05 421.67h1.1v1.1h-1.1zM396.05 420.32h1.1v1.1h-1.1zM396.05 419h1.1v1.1h-1.1zM396.05 417.94h1.1v1.1h-1.1zM396.05 417.23h1.1v1.1h-1.1zM396.05 415.89h1.1v1.1h-1.1zM396.05 415.03h1.1v1.1h-1.1zM396.05 413.72h1.1v1.1h-1.1zM396.05 412.73h1.1v1.1h-1.1zM396.05 411.34h1.1v1.1h-1.1zM396.05 410.45h1.1v1.1h-1.1zM396.05 409.22h1.1v1.1h-1.1zM396.05 408.41h1.1v1.1h-1.1zM396.1 407.13h1v1h-1zM396.1 406.05h1v1h-1zM396.1 405.05h1v1h-1zM396.1 403.97h1v1h-1zM396.1 403.15h1v1h-1zM396.1 401.85h1v1h-1zM396.1 400.89h1v1h-1zM396.1 399.51h1v1h-1zM396.1 387.42h1v1h-1zM396.1 384.59h1v1h-1zM396.1 381.75h1v1h-1zM396.1 379.28h1v1h-1zM431.05 427.37h1.1v1.1h-1.1zM431.05 426.41h1.1v1.1h-1.1zM431.05 425.01h1.1v1.1h-1.1zM431.05 423.67h1.1v1.1h-1.1zM431.05 422.66h1.1v1.1h-1.1zM431.05 421.37h1.1v1.1h-1.1zM431.05 420.18h1.1v1.1h-1.1zM431.05 419.39h1.1v1.1h-1.1zM431.05 418.23h1.1v1.1h-1.1zM431.05 417.1h1.1v1.1h-1.1zM431.05 415.86h1.1v1.1h-1.1zM431.05 414.76h1.1v1.1h-1.1zM431.05 414h1.1v1.1h-1.1zM431.05 412.8h1.1v1.1h-1.1zM431.05 411.84h1.1v1.1h-1.1zM431.05 410.7h1.1v1.1h-1.1zM431.05 409.56h1.1v1.1h-1.1zM431.05 408.19h1.1v1.1h-1.1zM431.1 407.22h1v1h-1zM431.1 406.32h1v1h-1zM431.1 405.35h1v1h-1zM431.1 404.52h1v1h-1zM431.1 403.25h1v1h-1zM431.1 401.99h1v1h-1zM431.1 401.06h1v1h-1zM431.1 399.93h1v1h-1zM431.1 398.99h1v1h-1zM431.1 397.58h1v1h-1zM431.1 394.14h1v1h-1zM431.1 391.31h1v1h-1zM431.1 388.13h1v1h-1zM431.1 384.23h1v1h-1zM431.1 380.69h1v1h-1zM615.15 420.64h1.1v1.1h-1.1zM615.15 419.6h1.1v1.1h-1.1zM615.15 418.65h1.1v1.1h-1.1zM615.15 417.78h1.1v1.1h-1.1zM615.15 417.01h1.1v1.1h-1.1zM615.15 416.19h1.1v1.1h-1.1zM615.15 414.82h1.1v1.1h-1.1zM615.15 413.92h1.1v1.1h-1.1zM615.15 412.76h1.1v1.1h-1.1zM615.15 411.47h1.1v1.1h-1.1zM615.15 410.56h1.1v1.1h-1.1zM615.15 409.71h1.1v1.1h-1.1zM615.15 408.38h1.1v1.1h-1.1zM615.2 407.49h1v1h-1zM615.2 406.74h1v1h-1zM615.2 405.54h1v1h-1zM615.2 404.17h1v1h-1zM615.2 403.35h1v1h-1zM615.2 402.48h1v1h-1zM615.2 401.68h1v1h-1zM615.2 400.32h1v1h-1zM585.2 399.1h1v1h-1zM585.2 398.06h1v1h-1zM583.25 427.37h1.1v1.1h-1.1zM583.25 426.63h1.1v1.1h-1.1zM583.25 425.5h1.1v1.1h-1.1zM583.25 424.69h1.1v1.1h-1.1zM583.25 423.7h1.1v1.1h-1.1zM583.25 422.73h1.1v1.1h-1.1zM583.25 421.75h1.1v1.1h-1.1zM583.25 420.69h1.1v1.1h-1.1zM583.25 419.39h1.1v1.1h-1.1zM583.25 418.27h1.1v1.1h-1.1zM583.25 417.18h1.1v1.1h-1.1zM583.25 415.77h1.1v1.1h-1.1zM583.25 414.58h1.1v1.1h-1.1zM583.25 413.86h1.1v1.1h-1.1zM583.3 407.6h1v1h-1zM583.3 406.55h1v1h-1zM583.3 405.74h1v1h-1zM583.3 404.87h1v1h-1zM583.3 403.83h1v1h-1zM583.3 402.62h1v1h-1zM332.15 427.37h1.1v1.1h-1.1zM332.15 426.61h1.1v1.1h-1.1zM332.15 425.41h1.1v1.1h-1.1zM332.15 424.04h1.1v1.1h-1.1zM332.15 423h1.1v1.1h-1.1zM332.15 422.18h1.1v1.1h-1.1zM332.15 421.46h1.1v1.1h-1.1zM332.15 420.55h1.1v1.1h-1.1zM332.15 419.19h1.1v1.1h-1.1zM332.15 418.38h1.1v1.1h-1.1zM332.15 416.96h1.1v1.1h-1.1zM332.15 416.23h1.1v1.1h-1.1zM332.15 414.91h1.1v1.1h-1.1zM332.15 413.67h1.1v1.1h-1.1z"/><path fill="#a0a0a0" d="M139.08 421.47h1.1v1.1h-1.1zM139.08 420.46h1.1v1.1h-1.1zM148.4 426.52h1.1v1.1h-1.1zM122.67 425.26h1.1v1.1h-1.1zM125.83 425.73h1.1v1.1h-1.1zM125.83 424.62h1.1v1.1h-1.1zM125.83 423.35h1.1v1.1h-1.1zM125.83 422.28h1.1v1.1h-1.1zM125.83 418.87h1.1v1.1h-1.1zM125.83 417.66h1.1v1.1h-1.1zM103.25 422.66h1.1v1.1h-1.1zM103.25 420.48h1.1v1.1h-1.1zM103.25 419.23h1.1v1.1h-1.1zM103.25 417.75h1.1v1.1h-1.1zM103.25 416.36h1.1v1.1h-1.1zM103.25 415.46h1.1v1.1h-1.1zM103.25 414.07h1.1v1.1h-1.1zM103.25 410.76h1.1v1.1h-1.1zM103.23 423.25h1.1v1.1h-1.1zM103.23 422.38h1.1v1.1h-1.1zM103.23 421.35h1.1v1.1h-1.1zM103.23 420.24h1.1v1.1h-1.1zM103.23 417.79h1.1v1.1h-1.1zM103.23 415.36h1.1v1.1h-1.1zM103.23 414h1.1v1.1h-1.1zM149.99 423.8h1.1v1.1h-1.1zM149.99 419.97h1.1v1.1h-1.1zM149.99 418.77h1.1v1.1h-1.1zM149.99 417.63h1.1v1.1h-1.1zM149.99 416.49h1.1v1.1h-1.1zM149.99 415.34h1.1v1.1h-1.1zM117.87 424.63h1.1v1.1h-1.1zM117.87 423.23h1.1v1.1h-1.1zM117.87 422.34h1.1v1.1h-1.1zM117.87 421.32h1.1v1.1h-1.1zM133.86 422.49h1.1v1.1h-1.1zM133.86 421.09h1.1v1.1h-1.1zM133.86 419.87h1.1v1.1h-1.1zM133.86 417.05h1.1v1.1h-1.1zM133.86 414.99h1.1v1.1h-1.1zM133.86 414.04h1.1v1.1h-1.1zM147.93 422.88h1.1v1.1h-1.1zM147.93 421.8h1.1v1.1h-1.1zM147.93 420.67h1.1v1.1h-1.1zM147.93 419.38h1.1v1.1h-1.1zM147.93 418.29h1.1v1.1h-1.1zM147.93 417.11h1.1v1.1h-1.1zM123.03 424.98h1.1v1.1h-1.1zM123.03 423.71h1.1v1.1h-1.1zM123.03 422.53h1.1v1.1h-1.1zM123.03 421.51h1.1v1.1h-1.1zM123.03 419.44h1.1v1.1h-1.1zM146.42 426.28h1.1v1.1h-1.1zM146.42 424.18h1.1v1.1h-1.1zM146.42 423.15h1.1v1.1h-1.1zM136.5 425.6h1.1v1.1h-1.1zM136.5 424.47h1.1v1.1h-1.1zM107.28 424.22h1.1v1.1h-1.1zM107.28 420.8h1.1v1.1h-1.1zM107.28 419.69h1.1v1.1h-1.1zM107.28 418.43h1.1v1.1h-1.1zM107.28 417.51h1.1v1.1h-1.1zM107.28 416.06h1.1v1.1h-1.1zM107.28 414.93h1.1v1.1h-1.1zM107.57 422.27h1.1v1.1h-1.1zM117.26 425.53h1.1v1.1h-1.1zM117.26 424.67h1.1v1.1h-1.1zM117.26 422.14h1.1v1.1h-1.1zM117.26 421.16h1.1v1.1h-1.1zM117.26 419.76h1.1v1.1h-1.1zM117.26 418.44h1.1v1.1h-1.1zM117.26 417.5h1.1v1.1h-1.1zM117.26 416.62h1.1v1.1h-1.1zM117.26 412.9h1.1v1.1h-1.1zM117.26 411.99h1.1v1.1h-1.1zM144.87 423.87h1.1v1.1h-1.1zM144.87 422.74h1.1v1.1h-1.1zM144.87 420.71h1.1v1.1h-1.1zM144.87 419.27h1.1v1.1h-1.1zM107.87 422.45h1.1v1.1h-1.1zM107.87 421.18h1.1v1.1h-1.1zM107.87 418.87h1.1v1.1h-1.1zM110.82 426.54h1.1v1.1h-1.1zM110.82 421.91h1.1v1.1h-1.1zM110.82 420.54h1.1v1.1h-1.1zM110.82 419.69h1.1v1.1h-1.1zM110.82 417.38h1.1v1.1h-1.1zM110.82 416.05h1.1v1.1h-1.1zM108.75 423.32h1.1v1.1h-1.1zM108.75 420.08h1.1v1.1h-1.1zM108.75 418.95h1.1v1.1h-1.1zM108.75 417.55h1.1v1.1h-1.1zM108.75 415.48h1.1v1.1h-1.1zM140.47 421.07h1.1v1.1h-1.1zM140.47 420.07h1.1v1.1h-1.1zM140.47 417.98h1.1v1.1h-1.1zM120.8 426.24h1.1v1.1h-1.1zM120.8 425.34h1.1v1.1h-1.1zM120.8 424.48h1.1v1.1h-1.1zM120.8 423.06h1.1v1.1h-1.1zM114.77 424.86h1.1v1.1h-1.1zM114.77 423.52h1.1v1.1h-1.1zM114.77 419.29h1.1v1.1h-1.1zM118.26 423.62h1.1v1.1h-1.1zM118.26 422.31h1.1v1.1h-1.1zM120.4 427.52h1.1v1.1h-1.1zM120.4 426.23h1.1v1.1h-1.1zM104.64 423.6h1.1v1.1h-1.1zM104.64 421.44h1.1v1.1h-1.1zM104.64 417.33h1.1v1.1h-1.1zM104.64 416.33h1.1v1.1h-1.1zM114.94 424.58h1.1v1.1h-1.1zM114.94 421.59h1.1v1.1h-1.1zM114.94 418.02h1.1v1.1h-1.1zM114.94 416.53h1.1v1.1h-1.1zM111.67 426.34h1.1v1.1h-1.1zM111.67 422.92h1.1v1.1h-1.1zM111.67 421.96h1.1v1.1h-1.1zM111.67 421.06h1.1v1.1h-1.1zM111.67 418.78h1.1v1.1h-1.1zM108.21 421.23h1.1v1.1h-1.1zM109.16 418.19h1.1v1.1h-1.1zM139.13 424.5h1.1v1.1h-1.1zM146.82 419.38h1.1v1.1h-1.1zM136.07 425.95h1.1v1.1h-1.1zM100.99 417.31h1.1v1.1h-1.1zM102.73 421.08h1.1v1.1h-1.1zM117.25 425.93h1.1v1.1h-1.1zM130.84 426h1.1v1.1h-1.1zM143.92 426.13h1.1v1.1h-1.1zM119.02 422.29h1.1v1.1h-1.1zM133.2 416.35h1.1v1.1h-1.1zM129.81 418.13h1.1v1.1h-1.1zM125.33 418.46h1.1v1.1h-1.1zM125.51 423.91h1.1v1.1h-1.1zM135.33 423.44h1.1v1.1h-1.1zM103.47 421.71h1.1v1.1h-1.1zM202.94 424.39h1.1v1.1h-1.1zM211.47 425.09h1.1v1.1h-1.1zM223.85 424.15h1.1v1.1h-1.1zM223.85 422.73h1.1v1.1h-1.1zM223.85 420.16h1.1v1.1h-1.1zM223.85 416.36h1.1v1.1h-1.1zM197.22 422.82h1.1v1.1h-1.1zM197.22 418.19h1.1v1.1h-1.1zM197.22 416.09h1.1v1.1h-1.1zM213.5 422.75h1.1v1.1h-1.1zM213.5 421.74h1.1v1.1h-1.1zM213.5 418.97h1.1v1.1h-1.1zM213.5 417.57h1.1v1.1h-1.1zM213.5 415.42h1.1v1.1h-1.1zM213.5 413.43h1.1v1.1h-1.1zM226.55 427.31h1.1v1.1h-1.1zM226.55 425.39h1.1v1.1h-1.1zM195.88 423.8h1.1v1.1h-1.1zM214.74 426.73h1.1v1.1h-1.1zM214.74 425.77h1.1v1.1h-1.1zM214.74 424.36h1.1v1.1h-1.1zM214.74 423.41h1.1v1.1h-1.1zM228.14 423.4h1.1v1.1h-1.1zM228.14 421.47h1.1v1.1h-1.1zM228.14 419.24h1.1v1.1h-1.1zM228.14 418.32h1.1v1.1h-1.1zM228.14 417.16h1.1v1.1h-1.1zM228.14 416h1.1v1.1h-1.1zM228.14 414.57h1.1v1.1h-1.1zM210.92 426.37h1.1v1.1h-1.1zM210.92 425.38h1.1v1.1h-1.1zM210.92 423.9h1.1v1.1h-1.1zM210.92 420.5h1.1v1.1h-1.1zM210.92 418.3h1.1v1.1h-1.1zM210.92 416.84h1.1v1.1h-1.1zM210.92 415.91h1.1v1.1h-1.1zM224.34 426.16h1.1v1.1h-1.1zM224.34 424.8h1.1v1.1h-1.1zM224.34 423.54h1.1v1.1h-1.1zM224.34 422.67h1.1v1.1h-1.1zM224.34 421.33h1.1v1.1h-1.1zM224.34 420.39h1.1v1.1h-1.1zM224.34 419.29h1.1v1.1h-1.1zM195.27 422.87h1.1v1.1h-1.1zM195.27 422.01h1.1v1.1h-1.1zM195.27 420.7h1.1v1.1h-1.1zM195.27 417.83h1.1v1.1h-1.1zM195.27 416.79h1.1v1.1h-1.1zM212.49 427.35h1.1v1.1h-1.1zM212.49 423.5h1.1v1.1h-1.1zM223.05 426.32h1.1v1.1h-1.1zM200.56 422.28h1.1v1.1h-1.1zM221.23 420.62h1.1v1.1h-1.1zM223.6 424.13h1.1v1.1h-1.1zM226.21 425.02h1.1v1.1h-1.1zM225.23 420.22h1.1v1.1h-1.1zM212.13 420.84h1.1v1.1h-1.1zM208.69 423.89h1.1v1.1h-1.1zM215.52 423.75h1.1v1.1h-1.1zM209.83 416.99h1.1v1.1h-1.1zM232.49 425.23h1.1v1.1h-1.1zM206.15 418.66h1.1v1.1h-1.1zM200.18 422.17h1.1v1.1h-1.1zM305.43 422.36h1.1v1.1h-1.1zM305.43 420.98h1.1v1.1h-1.1zM305.43 418.98h1.1v1.1h-1.1zM305.43 416.47h1.1v1.1h-1.1zM273.18 422.85h1.1v1.1h-1.1zM273.18 421.76h1.1v1.1h-1.1zM273.18 420.35h1.1v1.1h-1.1zM273.18 419.3h1.1v1.1h-1.1zM273.18 417.91h1.1v1.1h-1.1zM273.18 416.84h1.1v1.1h-1.1zM273.18 415.61h1.1v1.1h-1.1zM273.73 424.21h1.1v1.1h-1.1zM294.28 422.83h1.1v1.1h-1.1zM294.28 420.69h1.1v1.1h-1.1zM294.28 418.54h1.1v1.1h-1.1zM294.28 417.63h1.1v1.1h-1.1zM294.28 415.31h1.1v1.1h-1.1zM276.84 424.12h1.1v1.1h-1.1zM276.84 422.63h1.1v1.1h-1.1zM288.45 423.46h1.1v1.1h-1.1zM288.45 422.37h1.1v1.1h-1.1zM277.06 425.53h1.1v1.1h-1.1zM277.06 424.1h1.1v1.1h-1.1zM277.06 422.8h1.1v1.1h-1.1zM277.06 421.81h1.1v1.1h-1.1zM277.06 419.92h1.1v1.1h-1.1zM276.09 421.24h1.1v1.1h-1.1zM276.09 418.46h1.1v1.1h-1.1zM276.09 417.47h1.1v1.1h-1.1zM305.32 423.64h1.1v1.1h-1.1zM305.32 422.65h1.1v1.1h-1.1zM305.32 421.53h1.1v1.1h-1.1zM271.41 422.8h1.1v1.1h-1.1zM271.41 421.69h1.1v1.1h-1.1zM271.41 419.53h1.1v1.1h-1.1zM271.41 418.22h1.1v1.1h-1.1zM271.41 417.23h1.1v1.1h-1.1zM271.41 416.15h1.1v1.1h-1.1zM271.41 415.1h1.1v1.1h-1.1zM285.88 422.97h1.1v1.1h-1.1zM285.88 421.94h1.1v1.1h-1.1zM285.88 420.79h1.1v1.1h-1.1zM285.88 418.55h1.1v1.1h-1.1zM285.88 416.34h1.1v1.1h-1.1zM285.88 415.04h1.1v1.1h-1.1zM287.54 423h1.1v1.1h-1.1zM287.54 421.82h1.1v1.1h-1.1zM287.54 420.54h1.1v1.1h-1.1zM287.54 418.03h1.1v1.1h-1.1zM287.54 417.18h1.1v1.1h-1.1zM287.54 415.93h1.1v1.1h-1.1zM287.54 414.83h1.1v1.1h-1.1zM287.54 411.05h1.1v1.1h-1.1zM287.54 408.59h1.1v1.1h-1.1zM287.59 407.4h1v1h-1zM280.91 424.77h1.1v1.1h-1.1zM280.91 423.71h1.1v1.1h-1.1zM280.21 421.55h1.1v1.1h-1.1zM280.21 420.69h1.1v1.1h-1.1zM280.21 419.65h1.1v1.1h-1.1zM280.21 418.21h1.1v1.1h-1.1zM276.24 424.49h1.1v1.1h-1.1zM276.24 422.37h1.1v1.1h-1.1zM276.52 422.98h1.1v1.1h-1.1zM276.52 421.86h1.1v1.1h-1.1zM277.6 425.95h1.1v1.1h-1.1zM277.6 424.99h1.1v1.1h-1.1zM277.6 423h1.1v1.1h-1.1zM277.6 420.63h1.1v1.1h-1.1zM277.6 419.52h1.1v1.1h-1.1zM302.68 426.79h1.1v1.1h-1.1zM302.68 425.52h1.1v1.1h-1.1zM302.68 424.27h1.1v1.1h-1.1zM302.68 422.92h1.1v1.1h-1.1zM302.68 419.13h1.1v1.1h-1.1zM302.68 417.07h1.1v1.1h-1.1zM288.64 423.83h1.1v1.1h-1.1zM288.64 422.39h1.1v1.1h-1.1zM288.64 420.94h1.1v1.1h-1.1zM295.9 426.65h1.1v1.1h-1.1zM295.9 425.5h1.1v1.1h-1.1zM278.69 423.96h1.1v1.1h-1.1zM278.69 422.7h1.1v1.1h-1.1zM278.69 421.34h1.1v1.1h-1.1zM278.69 420.13h1.1v1.1h-1.1zM278.69 418.67h1.1v1.1h-1.1zM278.69 417.19h1.1v1.1h-1.1zM278.69 412.41h1.1v1.1h-1.1zM278.69 411.55h1.1v1.1h-1.1zM278.69 410.62h1.1v1.1h-1.1zM278.69 409.21h1.1v1.1h-1.1zM302.06 423.14h1.1v1.1h-1.1zM302.06 422.27h1.1v1.1h-1.1zM298.57 426.56h1.1v1.1h-1.1zM298.57 425.22h1.1v1.1h-1.1zM298.57 422.7h1.1v1.1h-1.1zM298.57 421.41h1.1v1.1h-1.1zM299.58 426.05h1.1v1.1h-1.1zM299.58 424.61h1.1v1.1h-1.1zM299.58 423.21h1.1v1.1h-1.1zM299.58 422.2h1.1v1.1h-1.1zM299.58 420.16h1.1v1.1h-1.1zM301.84 427.27h1.1v1.1h-1.1zM301.84 425.81h1.1v1.1h-1.1zM301.84 424.48h1.1v1.1h-1.1zM302.89 424.09h1.1v1.1h-1.1zM302.89 421.51h1.1v1.1h-1.1zM302.89 418.93h1.1v1.1h-1.1zM302.89 416.79h1.1v1.1h-1.1zM289.79 425.56h1.1v1.1h-1.1zM289.79 424.13h1.1v1.1h-1.1zM289.79 422.98h1.1v1.1h-1.1zM274.79 424.91h1.1v1.1h-1.1zM274.79 424h1.1v1.1h-1.1zM274.79 423.07h1.1v1.1h-1.1zM274.79 420.85h1.1v1.1h-1.1zM274.79 419.88h1.1v1.1h-1.1zM274.79 418.83h1.1v1.1h-1.1zM274.79 417.37h1.1v1.1h-1.1zM274.79 416.29h1.1v1.1h-1.1zM274.79 414.84h1.1v1.1h-1.1zM303.7 424.6h1.1v1.1h-1.1zM303.7 423.3h1.1v1.1h-1.1zM303.7 421.28h1.1v1.1h-1.1zM303.7 420.01h1.1v1.1h-1.1zM303.7 417.01h1.1v1.1h-1.1zM274.4 426.14h1.1v1.1h-1.1zM274.4 425.06h1.1v1.1h-1.1zM274.4 422.66h1.1v1.1h-1.1zM274.4 419.03h1.1v1.1h-1.1zM274.4 417.57h1.1v1.1h-1.1zM274.4 416.47h1.1v1.1h-1.1zM292.11 423.77h1.1v1.1h-1.1zM292.11 422.59h1.1v1.1h-1.1zM292.11 419.2h1.1v1.1h-1.1zM292.11 418.11h1.1v1.1h-1.1zM275.99 419.17h1.1v1.1h-1.1zM275.99 418.26h1.1v1.1h-1.1zM297.45 423.6h1.1v1.1h-1.1zM297.45 422.75h1.1v1.1h-1.1zM297.45 421.67h1.1v1.1h-1.1zM297.45 420.29h1.1v1.1h-1.1zM287.93 426.22h1.1v1.1h-1.1zM305.3 416.12h1.1v1.1h-1.1zM273.05 416.17h1.1v1.1h-1.1zM279.66 426.26h1.1v1.1h-1.1zM303.54 424.56h1.1v1.1h-1.1zM280.39 418.44h1.1v1.1h-1.1zM297.61 423.06h1.1v1.1h-1.1zM274.09 418.65h1.1v1.1h-1.1zM273.93 418.39h1.1v1.1h-1.1zM286.9 419.38h1.1v1.1h-1.1zM277.34 422.07h1.1v1.1h-1.1zM303.77 425.53h1.1v1.1h-1.1zM360.18 422.8h1.1v1.1h-1.1zM360.18 420.46h1.1v1.1h-1.1zM360.18 419.48h1.1v1.1h-1.1zM368.49 423h1.1v1.1h-1.1zM368.49 422.07h1.1v1.1h-1.1zM368.49 420.91h1.1v1.1h-1.1zM368.49 417.26h1.1v1.1h-1.1zM368.49 415.97h1.1v1.1h-1.1zM368.49 415.03h1.1v1.1h-1.1zM367.47 421.44h1.1v1.1h-1.1zM347.79 426.69h1.1v1.1h-1.1zM347.79 425.76h1.1v1.1h-1.1zM360.56 426.02h1.1v1.1h-1.1zM360.56 424.79h1.1v1.1h-1.1zM360.56 421.65h1.1v1.1h-1.1zM360.56 420.38h1.1v1.1h-1.1zM360.56 419.15h1.1v1.1h-1.1zM360.56 418.06h1.1v1.1h-1.1zM360.56 416.97h1.1v1.1h-1.1zM360.56 415.59h1.1v1.1h-1.1zM360.56 413.14h1.1v1.1h-1.1zM349.77 427.47h1.1v1.1h-1.1zM349.77 426.32h1.1v1.1h-1.1zM349.77 425.16h1.1v1.1h-1.1zM364.26 423.71h1.1v1.1h-1.1zM364.26 422.28h1.1v1.1h-1.1zM364.26 421.33h1.1v1.1h-1.1zM360.03 424.21h1.1v1.1h-1.1zM360.03 422.83h1.1v1.1h-1.1zM360.03 421.46h1.1v1.1h-1.1zM360.03 420.42h1.1v1.1h-1.1zM360.03 419.48h1.1v1.1h-1.1zM367.22 422.29h1.1v1.1h-1.1zM367.22 421.14h1.1v1.1h-1.1zM353.64 422.92h1.1v1.1h-1.1zM353.64 421.87h1.1v1.1h-1.1zM353.64 419.83h1.1v1.1h-1.1zM345.51 424.4h1.1v1.1h-1.1zM345.51 423.49h1.1v1.1h-1.1zM345.51 422.09h1.1v1.1h-1.1zM359.81 427.15h1.1v1.1h-1.1zM359.81 425.9h1.1v1.1h-1.1zM359.81 422.01h1.1v1.1h-1.1zM349.81 425.08h1.1v1.1h-1.1zM349.81 423.09h1.1v1.1h-1.1zM349.81 421.22h1.1v1.1h-1.1zM349.81 418.82h1.1v1.1h-1.1zM349.81 417.49h1.1v1.1h-1.1zM362.87 425.16h1.1v1.1h-1.1zM362.87 424.11h1.1v1.1h-1.1zM362.87 422.85h1.1v1.1h-1.1zM362.87 421.86h1.1v1.1h-1.1zM362.87 420.61h1.1v1.1h-1.1zM362.87 419.29h1.1v1.1h-1.1zM362.87 418.06h1.1v1.1h-1.1zM362.87 415.35h1.1v1.1h-1.1zM347.11 422.33h1.1v1.1h-1.1zM347.11 421.4h1.1v1.1h-1.1zM347.11 419.98h1.1v1.1h-1.1zM347.11 416.99h1.1v1.1h-1.1zM347.11 415.58h1.1v1.1h-1.1zM347.11 414.33h1.1v1.1h-1.1zM347.11 413.39h1.1v1.1h-1.1zM362 422.55h1.1v1.1h-1.1zM362 420.33h1.1v1.1h-1.1zM362 419.29h1.1v1.1h-1.1zM362 417.86h1.1v1.1h-1.1zM359.53 418.8h1.1v1.1h-1.1zM367.16 425.41h1.1v1.1h-1.1zM354.44 421.49h1.1v1.1h-1.1zM353.85 425.53h1.1v1.1h-1.1zM368.05 422.63h1.1v1.1h-1.1zM346.65 421.56h1.1v1.1h-1.1zM361.75 422.64h1.1v1.1h-1.1zM356.06 420.76h1.1v1.1h-1.1zM365.36 420.44h1.1v1.1h-1.1zM359.97 423.87h1.1v1.1h-1.1zM402.41 422.11h1.1v1.1h-1.1zM402.41 420.79h1.1v1.1h-1.1zM402.41 417.83h1.1v1.1h-1.1zM402.41 416.58h1.1v1.1h-1.1zM402.41 415.7h1.1v1.1h-1.1zM402.41 413.49h1.1v1.1h-1.1zM402.41 412.5h1.1v1.1h-1.1zM402.41 411.63h1.1v1.1h-1.1zM402.41 410.24h1.1v1.1h-1.1zM402.41 409.08h1.1v1.1h-1.1zM402.46 406.95h1v1h-1zM418.17 425.41h1.1v1.1h-1.1zM418.17 423.22h1.1v1.1h-1.1zM418.17 422.1h1.1v1.1h-1.1zM418.17 421.23h1.1v1.1h-1.1zM418.17 420.08h1.1v1.1h-1.1zM418.17 418.69h1.1v1.1h-1.1zM418.17 417.46h1.1v1.1h-1.1zM418.17 416.23h1.1v1.1h-1.1zM418.17 415.38h1.1v1.1h-1.1zM410.67 425.07h1.1v1.1h-1.1zM410.67 424.19h1.1v1.1h-1.1zM410.67 423.19h1.1v1.1h-1.1zM425.19 423.2h1.1v1.1h-1.1zM425.19 421.94h1.1v1.1h-1.1zM425.19 421h1.1v1.1h-1.1zM425.19 419.96h1.1v1.1h-1.1zM425.19 416.5h1.1v1.1h-1.1zM405.61 426.24h1.1v1.1h-1.1zM405.61 424.93h1.1v1.1h-1.1zM405.61 423.59h1.1v1.1h-1.1zM405.61 422.65h1.1v1.1h-1.1zM405.61 420.15h1.1v1.1h-1.1zM405.61 417.56h1.1v1.1h-1.1zM408.98 424.7h1.1v1.1h-1.1zM408.98 423.85h1.1v1.1h-1.1zM408.98 422.56h1.1v1.1h-1.1zM408.98 420.41h1.1v1.1h-1.1zM424.27 425.12h1.1v1.1h-1.1zM424.27 424.19h1.1v1.1h-1.1zM424.27 423.25h1.1v1.1h-1.1zM424.27 417.84h1.1v1.1h-1.1zM424.27 416.48h1.1v1.1h-1.1zM404.66 425.39h1.1v1.1h-1.1zM404.66 424.03h1.1v1.1h-1.1zM404.66 423.07h1.1v1.1h-1.1zM421.22 422.51h1.1v1.1h-1.1zM421.22 419.29h1.1v1.1h-1.1zM421.22 418.44h1.1v1.1h-1.1zM421.22 414.75h1.1v1.1h-1.1zM411.91 426.58h1.1v1.1h-1.1zM411.91 425.45h1.1v1.1h-1.1zM411.91 424.05h1.1v1.1h-1.1zM411.91 423.16h1.1v1.1h-1.1zM411.91 421h1.1v1.1h-1.1zM411.91 420.03h1.1v1.1h-1.1zM409.38 424.2h1.1v1.1h-1.1zM409.38 423.08h1.1v1.1h-1.1zM409.38 420.68h1.1v1.1h-1.1zM409.38 418.65h1.1v1.1h-1.1zM427.28 425.78h1.1v1.1h-1.1zM427.28 424.88h1.1v1.1h-1.1zM427.28 423.93h1.1v1.1h-1.1zM427.28 423h1.1v1.1h-1.1zM427.28 420.21h1.1v1.1h-1.1zM427.28 418.99h1.1v1.1h-1.1zM405.85 426.29h1.1v1.1h-1.1zM405.85 425.26h1.1v1.1h-1.1zM405.85 424.09h1.1v1.1h-1.1zM405.85 422.69h1.1v1.1h-1.1zM405.85 421.83h1.1v1.1h-1.1zM405.85 420.51h1.1v1.1h-1.1zM405.85 417.97h1.1v1.1h-1.1zM405.85 415.84h1.1v1.1h-1.1zM405.85 414.55h1.1v1.1h-1.1zM405.85 413.43h1.1v1.1h-1.1zM405.85 412.43h1.1v1.1h-1.1zM405.85 411.51h1.1v1.1h-1.1zM426.52 422.73h1.1v1.1h-1.1zM426.52 421.25h1.1v1.1h-1.1zM426.52 420.15h1.1v1.1h-1.1zM426.52 417.67h1.1v1.1h-1.1zM423.19 427.41h1.1v1.1h-1.1zM423.19 426.37h1.1v1.1h-1.1zM423.19 422.01h1.1v1.1h-1.1zM423.19 420.68h1.1v1.1h-1.1zM423.19 419.74h1.1v1.1h-1.1zM423.19 417.72h1.1v1.1h-1.1zM412.07 421.12h1.1v1.1h-1.1zM412.07 419.7h1.1v1.1h-1.1zM412.07 418.77h1.1v1.1h-1.1zM421.81 426.35h1.1v1.1h-1.1zM421.81 425.15h1.1v1.1h-1.1zM421.81 423.91h1.1v1.1h-1.1zM421.81 423.05h1.1v1.1h-1.1zM418.29 424.64h1.1v1.1h-1.1zM418.29 423.43h1.1v1.1h-1.1zM418.29 422.35h1.1v1.1h-1.1zM418.29 419.52h1.1v1.1h-1.1zM417.12 423.8h1.1v1.1h-1.1zM417.12 422.67h1.1v1.1h-1.1zM417.12 419.97h1.1v1.1h-1.1zM417.12 418.55h1.1v1.1h-1.1zM417.12 417.21h1.1v1.1h-1.1zM417.12 416.17h1.1v1.1h-1.1zM421.69 420.59h1.1v1.1h-1.1zM421.69 418.45h1.1v1.1h-1.1zM417.11 422.27h1.1v1.1h-1.1zM417.11 421.01h1.1v1.1h-1.1zM417.11 419.59h1.1v1.1h-1.1zM417.11 418.31h1.1v1.1h-1.1zM418.99 420.88h1.1v1.1h-1.1zM418.99 419.86h1.1v1.1h-1.1zM418.99 418.55h1.1v1.1h-1.1zM418.99 417.52h1.1v1.1h-1.1zM418.99 414.98h1.1v1.1h-1.1zM418.99 413.91h1.1v1.1h-1.1zM403.5 416.84h1.1v1.1h-1.1zM414.67 422.77h1.1v1.1h-1.1zM415.17 417.94h1.1v1.1h-1.1zM402.3 422.19h1.1v1.1h-1.1zM418.03 423.88h1.1v1.1h-1.1zM406.07 421.36h1.1v1.1h-1.1zM425.87 424.07h1.1v1.1h-1.1zM408.14 419.34h1.1v1.1h-1.1zM407.53 424.03h1.1v1.1h-1.1zM483.35 422.07h1.1v1.1h-1.1zM483.35 421.13h1.1v1.1h-1.1zM483.35 419.65h1.1v1.1h-1.1zM483.35 418.64h1.1v1.1h-1.1zM483.35 413.76h1.1v1.1h-1.1zM480.9 421.94h1.1v1.1h-1.1zM480.9 420.67h1.1v1.1h-1.1zM480.9 419.81h1.1v1.1h-1.1zM480.9 417.16h1.1v1.1h-1.1zM480.9 416.18h1.1v1.1h-1.1zM480.39 425.15h1.1v1.1h-1.1zM480.39 423.81h1.1v1.1h-1.1zM480.39 422.47h1.1v1.1h-1.1zM480.39 421.26h1.1v1.1h-1.1zM480.39 419.94h1.1v1.1h-1.1zM480.39 418.55h1.1v1.1h-1.1zM480.39 417.24h1.1v1.1h-1.1zM480.39 416.22h1.1v1.1h-1.1zM479.62 427.24h1.1v1.1h-1.1zM479.62 424.93h1.1v1.1h-1.1zM479.62 423.47h1.1v1.1h-1.1zM479.62 422.43h1.1v1.1h-1.1zM473.36 426.09h1.1v1.1h-1.1zM473.36 422.52h1.1v1.1h-1.1zM459.71 426.68h1.1v1.1h-1.1zM459.71 425.22h1.1v1.1h-1.1zM459.71 424.27h1.1v1.1h-1.1zM459.71 423.01h1.1v1.1h-1.1zM462.92 425.18h1.1v1.1h-1.1zM462.92 424.24h1.1v1.1h-1.1zM462.92 423.24h1.1v1.1h-1.1zM462.92 421.89h1.1v1.1h-1.1zM462.92 420.65h1.1v1.1h-1.1zM473.4 424.17h1.1v1.1h-1.1zM473.4 423.22h1.1v1.1h-1.1zM473.4 419.46h1.1v1.1h-1.1zM473.4 417.13h1.1v1.1h-1.1zM473.4 415.03h1.1v1.1h-1.1zM470.7 424.03h1.1v1.1h-1.1zM470.7 423.11h1.1v1.1h-1.1zM470.7 422.23h1.1v1.1h-1.1zM476.99 425.71h1.1v1.1h-1.1zM476.99 423.37h1.1v1.1h-1.1zM476.99 422.08h1.1v1.1h-1.1zM463.05 421.27h1.1v1.1h-1.1zM463.05 420.14h1.1v1.1h-1.1zM463.05 416.45h1.1v1.1h-1.1zM468.5 422.74h1.1v1.1h-1.1zM468.5 421.41h1.1v1.1h-1.1zM468.5 419.94h1.1v1.1h-1.1zM481.22 426.41h1.1v1.1h-1.1zM476.36 425.85h1.1v1.1h-1.1zM476.36 424.55h1.1v1.1h-1.1zM476.36 422.19h1.1v1.1h-1.1zM476.36 421.09h1.1v1.1h-1.1zM476.36 420.22h1.1v1.1h-1.1zM476.36 418.79h1.1v1.1h-1.1zM476.36 417.88h1.1v1.1h-1.1zM476.19 424.06h1.1v1.1h-1.1zM476.19 422.61h1.1v1.1h-1.1zM476.19 421.43h1.1v1.1h-1.1zM476.19 420.27h1.1v1.1h-1.1zM469.5 424.84h1.1v1.1h-1.1zM469.5 421.49h1.1v1.1h-1.1zM469.5 419.35h1.1v1.1h-1.1zM469.5 417.99h1.1v1.1h-1.1zM469.5 416.68h1.1v1.1h-1.1zM475.53 426.76h1.1v1.1h-1.1zM475.53 425.85h1.1v1.1h-1.1zM475.53 424.79h1.1v1.1h-1.1zM475.53 422.31h1.1v1.1h-1.1zM474.98 424.31h1.1v1.1h-1.1zM474.98 423.22h1.1v1.1h-1.1zM474.98 421.76h1.1v1.1h-1.1zM474.98 420.7h1.1v1.1h-1.1zM461.99 423.25h1.1v1.1h-1.1zM461.99 422.1h1.1v1.1h-1.1zM464.14 424.88h1.1v1.1h-1.1zM464.14 423.87h1.1v1.1h-1.1zM460.13 423.5h1.1v1.1h-1.1zM460.13 422.41h1.1v1.1h-1.1zM460.13 420.98h1.1v1.1h-1.1zM460.13 416.79h1.1v1.1h-1.1zM474.51 424.35h1.1v1.1h-1.1zM474.51 423h1.1v1.1h-1.1zM474.51 420.9h1.1v1.1h-1.1zM474.51 419.53h1.1v1.1h-1.1zM480.75 421.63h1.1v1.1h-1.1zM479.66 424h1.1v1.1h-1.1zM475.2 420.57h1.1v1.1h-1.1zM480.74 425.76h1.1v1.1h-1.1zM485.18 420.9h1.1v1.1h-1.1zM481.79 426.05h1.1v1.1h-1.1zM480.15 417.88h1.1v1.1h-1.1zM467.57 422.33h1.1v1.1h-1.1zM481.5 423.52h1.1v1.1h-1.1zM463.38 419.42h1.1v1.1h-1.1zM515.86 424.33h1.1v1.1h-1.1zM515.86 423.1h1.1v1.1h-1.1zM515.86 422.1h1.1v1.1h-1.1zM515.86 420.73h1.1v1.1h-1.1zM515.86 419.55h1.1v1.1h-1.1zM515.86 418.36h1.1v1.1h-1.1zM515.86 416.04h1.1v1.1h-1.1zM515.86 414.18h1.1v1.1h-1.1zM529.98 425.07h1.1v1.1h-1.1zM529.98 424.1h1.1v1.1h-1.1zM529.98 421.32h1.1v1.1h-1.1zM517.62 422.45h1.1v1.1h-1.1zM517.62 420.99h1.1v1.1h-1.1zM514.4 423.72h1.1v1.1h-1.1zM514.4 422.34h1.1v1.1h-1.1zM514.4 421.26h1.1v1.1h-1.1zM514.4 420.4h1.1v1.1h-1.1zM514.4 419.15h1.1v1.1h-1.1zM514.4 416.55h1.1v1.1h-1.1zM514.4 415.4h1.1v1.1h-1.1zM514.4 414.06h1.1v1.1h-1.1zM514.4 409.03h1.1v1.1h-1.1zM514.45 407.89h1v1h-1zM514.45 406.54h1v1h-1zM514.45 402.65h1v1h-1zM525.47 422.31h1.1v1.1h-1.1zM525.47 421.07h1.1v1.1h-1.1zM525.47 419.89h1.1v1.1h-1.1zM525.47 418.43h1.1v1.1h-1.1zM525.47 417.47h1.1v1.1h-1.1zM525.57 426.19h1.1v1.1h-1.1zM525.57 424.8h1.1v1.1h-1.1zM523.16 422.07h1.1v1.1h-1.1zM523.16 421.09h1.1v1.1h-1.1zM520.25 425.53h1.1v1.1h-1.1zM520.25 423.43h1.1v1.1h-1.1zM514.73 427.52h1.1v1.1h-1.1zM514.73 426.27h1.1v1.1h-1.1zM514.73 425.27h1.1v1.1h-1.1zM520.26 425.13h1.1v1.1h-1.1zM520.26 423.99h1.1v1.1h-1.1zM520.26 421.96h1.1v1.1h-1.1zM520.26 420.68h1.1v1.1h-1.1zM520.26 419.33h1.1v1.1h-1.1zM520.26 418.07h1.1v1.1h-1.1zM520.26 416.87h1.1v1.1h-1.1zM520.26 415.98h1.1v1.1h-1.1zM520.26 414.66h1.1v1.1h-1.1zM517.05 426.82h1.1v1.1h-1.1zM517.05 425.66h1.1v1.1h-1.1zM517.05 424.37h1.1v1.1h-1.1zM517.05 421.21h1.1v1.1h-1.1zM517.05 419.98h1.1v1.1h-1.1zM515.59 425.05h1.1v1.1h-1.1zM515.59 424.12h1.1v1.1h-1.1zM515.59 422.98h1.1v1.1h-1.1zM515.59 419.7h1.1v1.1h-1.1zM515.59 418.51h1.1v1.1h-1.1zM515.59 417.53h1.1v1.1h-1.1zM519.5 421.49h1.1v1.1h-1.1zM519.5 420.05h1.1v1.1h-1.1zM517.7 424.32h1.1v1.1h-1.1zM516.85 419.63h1.1v1.1h-1.1zM516.71 418.38h1.1v1.1h-1.1zM526.67 416.13h1.1v1.1h-1.1zM554.68 424.37h1.1v1.1h-1.1zM554.68 421.57h1.1v1.1h-1.1zM554.68 420.15h1.1v1.1h-1.1zM554.68 419.03h1.1v1.1h-1.1zM554.68 417.94h1.1v1.1h-1.1zM554.68 416.97h1.1v1.1h-1.1zM554.68 415.97h1.1v1.1h-1.1zM554.68 415.01h1.1v1.1h-1.1zM570.91 425.07h1.1v1.1h-1.1zM570.91 422.88h1.1v1.1h-1.1zM570.91 421.97h1.1v1.1h-1.1zM570.91 419.57h1.1v1.1h-1.1zM570.91 418.18h1.1v1.1h-1.1zM570.91 417.25h1.1v1.1h-1.1zM564.73 426.45h1.1v1.1h-1.1zM564.73 420.18h1.1v1.1h-1.1zM564.73 418.92h1.1v1.1h-1.1zM564.73 417.49h1.1v1.1h-1.1zM568.04 424.72h1.1v1.1h-1.1zM568.04 422.77h1.1v1.1h-1.1zM571.38 426.5h1.1v1.1h-1.1zM571.38 425.44h1.1v1.1h-1.1zM571.38 423.02h1.1v1.1h-1.1zM571.38 421.68h1.1v1.1h-1.1zM571.38 416.98h1.1v1.1h-1.1zM567.78 416.42h1.1v1.1h-1.1zM555.7 419.26h1.1v1.1h-1.1zM598.88 426.39h1.1v1.1h-1.1zM598.88 425h1.1v1.1h-1.1zM598.88 424.07h1.1v1.1h-1.1zM598.88 422.8h1.1v1.1h-1.1zM591.4 425.63h1.1v1.1h-1.1zM591.4 423.23h1.1v1.1h-1.1zM591.4 422.19h1.1v1.1h-1.1zM591.4 420.81h1.1v1.1h-1.1zM598.45 423.4h1.1v1.1h-1.1zM598.45 422.22h1.1v1.1h-1.1zM598.45 419.12h1.1v1.1h-1.1zM598.45 416.9h1.1v1.1h-1.1zM595.31 424.3h1.1v1.1h-1.1zM595.31 423.38h1.1v1.1h-1.1zM595.31 422.37h1.1v1.1h-1.1zM595.31 420.98h1.1v1.1h-1.1zM595.31 419.67h1.1v1.1h-1.1zM595.31 418.66h1.1v1.1h-1.1zM595.31 415.9h1.1v1.1h-1.1zM601.85 425.66h1.1v1.1h-1.1zM601.85 424.45h1.1v1.1h-1.1zM601.85 423.23h1.1v1.1h-1.1zM601.85 422.26h1.1v1.1h-1.1zM601.85 421.09h1.1v1.1h-1.1zM601.85 420.24h1.1v1.1h-1.1zM601.85 419.25h1.1v1.1h-1.1zM597.92 426.98h1.1v1.1h-1.1zM597.92 426.05h1.1v1.1h-1.1zM597.92 425.08h1.1v1.1h-1.1zM597.92 423.67h1.1v1.1h-1.1zM597.92 422.32h1.1v1.1h-1.1zM597.92 419.76h1.1v1.1h-1.1zM597.92 418.78h1.1v1.1h-1.1zM600.99 424.45h1.1v1.1h-1.1zM600.99 422.14h1.1v1.1h-1.1zM598.42 420.62h1.1v1.1h-1.1zM598.42 419.22h1.1v1.1h-1.1zM598.42 417.75h1.1v1.1h-1.1zM598.42 416.35h1.1v1.1h-1.1zM597.11 419.09h1.1v1.1h-1.1zM595.12 418.15h1.1v1.1h-1.1zM602.81 426.01h1.1v1.1h-1.1zM620.75 424.83h1.1v1.1h-1.1zM620.75 423.65h1.1v1.1h-1.1zM620.75 422.18h1.1v1.1h-1.1zM620.75 421.31h1.1v1.1h-1.1zM620.75 420.1h1.1v1.1h-1.1zM620.75 418.8h1.1v1.1h-1.1zM620.75 417.92h1.1v1.1h-1.1zM620.75 416.58h1.1v1.1h-1.1zM620.75 415.25h1.1v1.1h-1.1zM620.75 414.36h1.1v1.1h-1.1zM620.69 422.87h1.1v1.1h-1.1zM620.69 418.82h1.1v1.1h-1.1zM620.69 417.86h1.1v1.1h-1.1zM620.69 416.5h1.1v1.1h-1.1zM620.69 412.65h1.1v1.1h-1.1zM624.98 427.48h1.1v1.1h-1.1zM624.98 426.58h1.1v1.1h-1.1zM624.98 425.36h1.1v1.1h-1.1zM624.98 424.49h1.1v1.1h-1.1zM624.98 423.32h1.1v1.1h-1.1zM619.76 425.9h1.1v1.1h-1.1zM619.76 424.68h1.1v1.1h-1.1zM624.57 422.97h1.1v1.1h-1.1zM624.57 421.97h1.1v1.1h-1.1zM624.57 419.91h1.1v1.1h-1.1zM624.57 419h1.1v1.1h-1.1zM624.57 417.67h1.1v1.1h-1.1zM628.49 425.79h1.1v1.1h-1.1zM628.49 424.66h1.1v1.1h-1.1zM628.49 423.75h1.1v1.1h-1.1zM628.49 422.67h1.1v1.1h-1.1zM628.49 421.48h1.1v1.1h-1.1zM626.76 423.28h1.1v1.1h-1.1zM626.76 422.28h1.1v1.1h-1.1zM626.76 420.9h1.1v1.1h-1.1zM626.76 420.04h1.1v1.1h-1.1zM624.61 425.06h1.1v1.1h-1.1zM624.61 424.07h1.1v1.1h-1.1zM624.61 421.77h1.1v1.1h-1.1zM624.61 420.86h1.1v1.1h-1.1zM624.61 418.48h1.1v1.1h-1.1zM624.61 417.04h1.1v1.1h-1.1zM626.21 421.76h1.1v1.1h-1.1zM626.21 420.63h1.1v1.1h-1.1zM621.31 419.34h1.1v1.1h-1.1zM621.31 418.16h1.1v1.1h-1.1zM621.31 417.3h1.1v1.1h-1.1zM629.44 425.07h1.1v1.1h-1.1zM629.44 424.22h1.1v1.1h-1.1zM627.2 421.66h1.1v1.1h-1.1zM627.2 419.75h1.1v1.1h-1.1zM627.2 418.77h1.1v1.1h-1.1zM625.6 425.89h1.1v1.1h-1.1zM625.38 425.97h1.1v1.1h-1.1zM648.28 422.14h1.1v1.1h-1.1zM648.28 419.69h1.1v1.1h-1.1zM648.28 414.86h1.1v1.1h-1.1zM648.28 413.52h1.1v1.1h-1.1zM648.28 412.57h1.1v1.1h-1.1zM649.22 426.81h1.1v1.1h-1.1zM649.22 425.96h1.1v1.1h-1.1zM649.22 424.94h1.1v1.1h-1.1zM649.22 423.47h1.1v1.1h-1.1zM649.22 422.09h1.1v1.1h-1.1zM649.22 420.62h1.1v1.1h-1.1zM649.36 420.76h1.1v1.1h-1.1zM149.85 427.37h1.1v1.1h-1.1zM149.85 425.59h1.1v1.1h-1.1zM149.85 424.26h1.1v1.1h-1.1zM149.85 422.42h1.1v1.1h-1.1zM149.85 421.4h1.1v1.1h-1.1zM149.85 419.43h1.1v1.1h-1.1zM149.85 417.83h1.1v1.1h-1.1zM149.85 415.76h1.1v1.1h-1.1zM149.85 414.47h1.1v1.1h-1.1zM149.85 413.43h1.1v1.1h-1.1zM149.85 411.54h1.1v1.1h-1.1zM149.85 409.8h1.1v1.1h-1.1zM149.85 408.37h1.1v1.1h-1.1zM149.9 407.18h1v1h-1zM149.9 405.18h1v1h-1zM149.9 403.51h1v1h-1zM149.9 401.96h1v1h-1zM149.9 401.04h1v1h-1zM149.9 399.85h1v1h-1zM149.9 398.1h1v1h-1zM149.9 397.19h1v1h-1zM149.9 395.25h1v1h-1zM149.9 393.7h1v1h-1zM149.9 392.42h1v1h-1zM149.9 391.18h1v1h-1zM149.9 389.68h1v1h-1zM149.9 380.69h1v1h-1zM149.9 379.54h1v1h-1zM149.9 377.43h1v1h-1zM149.9 375.8h1v1h-1zM149.9 359.81h1v1h-1zM149.9 358.22h1v1h-1zM149.9 356.39h1v1h-1zM149.9 354.49h1v1h-1zM149.9 352.97h1v1h-1zM149.9 350.94h1v1h-1zM149.9 349.89h1v1h-1zM149.9 348.14h1v1h-1zM149.9 346.17h1v1h-1zM149.9 344.19h1v1h-1zM149.9 342.56h1v1h-1zM149.9 340.94h1v1h-1zM149.9 339.44h1v1h-1zM149.9 338.26h1v1h-1zM149.9 333.96h1v1h-1zM149.9 332.94h1v1h-1zM149.9 331.56h1v1h-1zM149.9 330.09h1v1h-1zM149.9 329.06h1v1h-1zM149.9 327.72h1v1h-1zM149.9 326.68h1v1h-1zM149.9 324.79h1v1h-1zM149.9 323.03h1v1h-1zM274.15 427.37h1.1v1.1h-1.1zM274.15 426.44h1.1v1.1h-1.1zM274.15 425.18h1.1v1.1h-1.1zM274.15 424.27h1.1v1.1h-1.1zM274.15 422.97h1.1v1.1h-1.1zM274.15 421.89h1.1v1.1h-1.1zM274.15 421.11h1.1v1.1h-1.1zM274.15 419.8h1.1v1.1h-1.1zM274.15 418.6h1.1v1.1h-1.1zM274.15 417.56h1.1v1.1h-1.1zM274.15 416.42h1.1v1.1h-1.1zM274.15 415.41h1.1v1.1h-1.1zM274.15 414.44h1.1v1.1h-1.1zM274.15 413.19h1.1v1.1h-1.1zM274.15 412.19h1.1v1.1h-1.1zM274.15 411.21h1.1v1.1h-1.1zM274.15 410.14h1.1v1.1h-1.1zM274.15 409.18h1.1v1.1h-1.1zM274.2 407.89h1v1h-1zM274.2 407.08h1v1h-1zM274.2 406.33h1v1h-1zM274.2 405.4h1v1h-1zM274.2 404.04h1v1h-1zM274.2 402.87h1v1h-1zM274.2 401.81h1v1h-1zM274.2 400.6h1v1h-1zM274.2 399.42h1v1h-1zM274.2 384.59h1v1h-1zM274.2 383.31h1v1h-1zM274.2 382.41h1v1h-1zM274.2 381.19h1v1h-1zM274.2 379.27h1v1h-1zM274.2 378.13h1v1h-1zM274.2 370.07h1v1h-1zM274.2 368.25h1v1h-1zM274.2 366.25h1v1h-1zM274.2 365.06h1v1h-1zM274.2 363.67h1v1h-1zM274.2 362.78h1v1h-1zM274.2 360.8h1v1h-1zM274.2 359.89h1v1h-1zM274.2 345.65h1v1h-1zM279.55 427.37h1.1v1.1h-1.1zM279.55 426.6h1.1v1.1h-1.1zM279.55 425.28h1.1v1.1h-1.1zM279.55 424.13h1.1v1.1h-1.1zM279.55 422.9h1.1v1.1h-1.1zM279.55 421.75h1.1v1.1h-1.1zM279.55 420.59h1.1v1.1h-1.1zM279.55 419.33h1.1v1.1h-1.1zM279.55 418.46h1.1v1.1h-1.1zM279.55 417.2h1.1v1.1h-1.1zM279.55 415.79h1.1v1.1h-1.1zM279.55 414.97h1.1v1.1h-1.1zM279.55 414.09h1.1v1.1h-1.1zM279.55 413.33h1.1v1.1h-1.1zM279.55 412.02h1.1v1.1h-1.1zM279.6 395.56h1v1h-1zM279.6 394.41h1v1h-1zM279.6 392.47h1v1h-1zM291.55 427.37h1.1v1.1h-1.1zM291.55 425.26h1.1v1.1h-1.1zM291.55 424.26h1.1v1.1h-1.1zM291.55 423.19h1.1v1.1h-1.1zM291.55 422.22h1.1v1.1h-1.1zM291.55 420.51h1.1v1.1h-1.1zM291.55 419.52h1.1v1.1h-1.1zM291.55 417.86h1.1v1.1h-1.1zM291.55 416.61h1.1v1.1h-1.1zM291.55 414.67h1.1v1.1h-1.1zM291.55 413.79h1.1v1.1h-1.1zM291.55 412.55h1.1v1.1h-1.1zM291.55 410.56h1.1v1.1h-1.1zM291.55 408.75h1.1v1.1h-1.1zM291.6 407.86h1v1h-1zM291.6 406.3h1v1h-1zM291.6 405.26h1v1h-1zM291.6 403.46h1v1h-1zM291.6 401.37h1v1h-1zM291.6 400.02h1v1h-1zM291.6 398.28h1v1h-1zM291.6 396.4h1v1h-1zM291.6 394.65h1v1h-1zM291.6 393.62h1v1h-1zM291.6 392.58h1v1h-1zM291.6 390.73h1v1h-1zM291.6 389.12h1v1h-1zM291.6 381.4h1v1h-1zM291.6 380.32h1v1h-1zM291.6 378.77h1v1h-1zM291.6 370.07h1v1h-1zM291.6 369.16h1v1h-1zM291.6 367.96h1v1h-1zM291.6 366.49h1v1h-1zM291.6 365.15h1v1h-1zM291.6 363.71h1v1h-1zM291.6 362.62h1v1h-1zM291.6 360.74h1v1h-1zM291.6 359.16h1v1h-1zM291.6 357.18h1v1h-1zM291.6 356.14h1v1h-1zM291.6 354.74h1v1h-1zM291.6 352.64h1v1h-1zM291.6 336.44h1v1h-1zM291.6 334.99h1v1h-1zM291.6 332.88h1v1h-1zM291.6 330.8h1v1h-1zM291.6 329.68h1v1h-1zM291.6 328.18h1v1h-1zM291.6 327.04h1v1h-1zM291.6 325.15h1v1h-1zM291.6 324.23h1v1h-1zM291.6 322.28h1v1h-1zM291.6 320.41h1v1h-1zM291.6 319.26h1v1h-1zM291.6 317.53h1v1h-1zM296.95 427.37h1.1v1.1h-1.1zM296.95 425.85h1.1v1.1h-1.1zM296.95 424.86h1.1v1.1h-1.1zM296.95 423.7h1.1v1.1h-1.1zM296.95 422.7h1.1v1.1h-1.1zM296.95 420.7h1.1v1.1h-1.1zM296.95 419.25h1.1v1.1h-1.1zM296.95 417.23h1.1v1.1h-1.1zM296.95 415.47h1.1v1.1h-1.1zM296.95 413.97h1.1v1.1h-1.1zM296.95 412.97h1.1v1.1h-1.1zM296.95 411.04h1.1v1.1h-1.1zM296.95 410.12h1.1v1.1h-1.1zM296.95 409.01h1.1v1.1h-1.1zM297 407.12h1v1h-1zM297 405.86h1v1h-1zM297 404.79h1v1h-1zM297 403.23h1v1h-1zM297 401.62h1v1h-1zM297 399.99h1v1h-1zM297 398.1h1v1h-1zM297 397.04h1v1h-1zM297 395.45h1v1h-1zM297 394.4h1v1h-1zM297 392.36h1v1h-1zM297 391.14h1v1h-1zM297 389.3h1v1h-1zM297 387.46h1v1h-1zM297 385.83h1v1h-1zM297 383.79h1v1h-1zM297 381.66h1v1h-1zM297 375.38h1v1h-1zM297 374h1v1h-1zM286.25 427.37h1.1v1.1h-1.1zM286.25 426.49h1.1v1.1h-1.1zM286.25 425.42h1.1v1.1h-1.1zM286.25 424.57h1.1v1.1h-1.1zM286.25 423.73h1.1v1.1h-1.1zM286.25 422.99h1.1v1.1h-1.1zM286.25 421.87h1.1v1.1h-1.1zM286.25 420.66h1.1v1.1h-1.1zM286.25 419.39h1.1v1.1h-1.1zM286.25 418.12h1.1v1.1h-1.1zM286.25 416.98h1.1v1.1h-1.1zM286.25 416.22h1.1v1.1h-1.1zM286.25 415.09h1.1v1.1h-1.1zM286.25 413.99h1.1v1.1h-1.1zM286.25 413.27h1.1v1.1h-1.1zM286.25 412.28h1.1v1.1h-1.1zM286.25 411.4h1.1v1.1h-1.1zM286.25 410.33h1.1v1.1h-1.1zM286.25 408.96h1.1v1.1h-1.1zM286.25 408.07h1.1v1.1h-1.1zM286.3 407.4h1v1h-1zM286.3 406.36h1v1h-1zM275.65 427.37h1.1v1.1h-1.1zM275.65 426.45h1.1v1.1h-1.1zM275.65 425.35h1.1v1.1h-1.1zM275.65 424.6h1.1v1.1h-1.1zM275.65 423.62h1.1v1.1h-1.1zM275.65 422.32h1.1v1.1h-1.1zM275.65 421.52h1.1v1.1h-1.1zM275.65 420.74h1.1v1.1h-1.1zM275.65 419.45h1.1v1.1h-1.1zM275.65 418.34h1.1v1.1h-1.1zM275.65 417.43h1.1v1.1h-1.1zM275.65 416.44h1.1v1.1h-1.1zM275.65 415.73h1.1v1.1h-1.1zM275.65 414.98h1.1v1.1h-1.1zM275.65 413.75h1.1v1.1h-1.1zM275.65 412.87h1.1v1.1h-1.1zM275.65 412h1.1v1.1h-1.1zM275.65 410.89h1.1v1.1h-1.1zM275.65 409.5h1.1v1.1h-1.1zM275.65 408.57h1.1v1.1h-1.1zM275.7 407.26h1v1h-1zM275.7 406.47h1v1h-1zM275.7 405.14h1v1h-1zM420.55 427.37h1.1v1.1h-1.1zM420.55 426.43h1.1v1.1h-1.1zM420.55 425.18h1.1v1.1h-1.1zM420.55 424.18h1.1v1.1h-1.1zM420.55 423.23h1.1v1.1h-1.1zM420.55 422.5h1.1v1.1h-1.1zM420.55 421.64h1.1v1.1h-1.1zM420.55 420.52h1.1v1.1h-1.1zM420.55 419.34h1.1v1.1h-1.1zM420.55 418.57h1.1v1.1h-1.1zM420.55 417.2h1.1v1.1h-1.1zM420.55 415.84h1.1v1.1h-1.1zM420.55 414.62h1.1v1.1h-1.1zM420.55 413.31h1.1v1.1h-1.1zM420.55 412.34h1.1v1.1h-1.1zM420.55 411.06h1.1v1.1h-1.1zM420.55 410.17h1.1v1.1h-1.1zM420.55 409.04h1.1v1.1h-1.1zM420.55 408.17h1.1v1.1h-1.1zM420.6 407.28h1v1h-1zM420.6 406.01h1v1h-1zM420.6 404.91h1v1h-1zM420.6 403.64h1v1h-1zM420.6 402.86h1v1h-1zM420.6 401.61h1v1h-1zM420.6 400.67h1v1h-1zM420.6 399.47h1v1h-1zM420.6 398.47h1v1h-1zM420.6 397.41h1v1h-1zM420.6 396.57h1v1h-1zM420.6 379.28h1v1h-1zM420.6 377.53h1v1h-1zM420.6 376.42h1v1h-1zM420.6 375.26h1v1h-1zM427.05 427.37h1.1v1.1h-1.1zM427.05 426.43h1.1v1.1h-1.1zM427.05 425.58h1.1v1.1h-1.1zM427.05 424.47h1.1v1.1h-1.1zM427.05 423.22h1.1v1.1h-1.1zM427.05 422.34h1.1v1.1h-1.1zM427.05 421.06h1.1v1.1h-1.1zM427.05 419.82h1.1v1.1h-1.1zM427.05 418.81h1.1v1.1h-1.1zM427.05 417.97h1.1v1.1h-1.1zM427.05 416.95h1.1v1.1h-1.1zM427.05 415.95h1.1v1.1h-1.1zM427.05 414.64h1.1v1.1h-1.1zM427.05 413.52h1.1v1.1h-1.1zM427.05 412.74h1.1v1.1h-1.1zM427.05 411.94h1.1v1.1h-1.1zM427.05 410.72h1.1v1.1h-1.1zM427.05 409.34h1.1v1.1h-1.1zM427.05 408.06h1.1v1.1h-1.1zM427.1 407.38h1v1h-1zM427.1 406.56h1v1h-1zM427.1 405.54h1v1h-1zM458.55 427.37h1.1v1.1h-1.1zM458.55 425.97h1.1v1.1h-1.1zM458.55 425.05h1.1v1.1h-1.1zM458.55 424.01h1.1v1.1h-1.1zM458.55 422.63h1.1v1.1h-1.1zM458.55 421.32h1.1v1.1h-1.1zM458.55 420.47h1.1v1.1h-1.1zM458.55 419.73h1.1v1.1h-1.1zM458.55 418.36h1.1v1.1h-1.1zM458.55 416.98h1.1v1.1h-1.1zM458.6 392.73h1v1h-1zM458.6 389.9h1v1h-1zM458.6 387.06h1v1h-1zM458.6 381.75h1v1h-1zM458.6 379.63h1v1h-1zM458.6 377.15h1v1h-1zM469.65 427.37h1.1v1.1h-1.1zM469.65 425.39h1.1v1.1h-1.1zM469.65 424.37h1.1v1.1h-1.1zM469.65 422.72h1.1v1.1h-1.1zM469.65 421.62h1.1v1.1h-1.1zM469.65 420.7h1.1v1.1h-1.1zM469.65 419.74h1.1v1.1h-1.1zM469.65 418.55h1.1v1.1h-1.1zM469.65 417.42h1.1v1.1h-1.1zM469.65 415.38h1.1v1.1h-1.1zM469.65 413.88h1.1v1.1h-1.1zM469.65 411.76h1.1v1.1h-1.1zM469.65 409.73h1.1v1.1h-1.1zM469.65 408.42h1.1v1.1h-1.1zM469.7 407.24h1v1h-1zM469.7 405.93h1v1h-1zM469.7 404.38h1v1h-1zM469.7 402.62h1v1h-1zM469.7 401.66h1v1h-1zM469.7 399.9h1v1h-1zM469.7 398.38h1v1h-1zM469.7 397.2h1v1h-1zM469.7 396.24h1v1h-1zM469.7 394.91h1v1h-1zM469.7 393.84h1v1h-1zM469.7 392.25h1v1h-1zM469.7 391.01h1v1h-1zM469.7 389.54h1v1h-1zM469.7 388.64h1v1h-1zM469.7 387.62h1v1h-1zM469.7 386.18h1v1h-1zM469.7 384.87h1v1h-1zM469.7 383.54h1v1h-1zM469.7 381.82h1v1h-1zM469.7 374.67h1v1h-1zM469.7 361.22h1v1h-1zM469.7 359.66h1v1h-1zM469.7 358.46h1v1h-1zM469.7 353.43h1v1h-1zM469.7 349.54h1v1h-1zM469.7 345.29h1v1h-1zM469.7 339.63h1v1h-1zM469.7 338.46h1v1h-1zM469.7 337.16h1v1h-1zM469.7 336.2h1v1h-1zM469.7 334.83h1v1h-1zM469.7 320.87h1v1h-1zM469.7 316.26h1v1h-1zM469.7 314.55h1v1h-1zM469.7 313.42h1v1h-1zM469.7 312.32h1v1h-1zM469.7 311.09h1v1h-1zM469.7 307.41h1v1h-1zM469.7 305.96h1v1h-1zM469.7 305h1v1h-1zM469.7 303.23h1v1h-1zM469.7 301.54h1v1h-1zM469.7 290.07h1v1h-1zM469.7 268.83h1v1h-1zM469.7 255.02h1v1h-1zM529.75 427.37h1.1v1.1h-1.1zM529.75 425.99h1.1v1.1h-1.1zM529.75 424.93h1.1v1.1h-1.1zM529.75 424.13h1.1v1.1h-1.1zM529.75 422.73h1.1v1.1h-1.1zM529.75 421.56h1.1v1.1h-1.1zM529.75 420.39h1.1v1.1h-1.1zM529.75 419.57h1.1v1.1h-1.1zM529.75 418.5h1.1v1.1h-1.1zM529.75 417.72h1.1v1.1h-1.1zM529.75 416.47h1.1v1.1h-1.1zM529.75 415.37h1.1v1.1h-1.1zM529.75 414.01h1.1v1.1h-1.1zM529.75 413.24h1.1v1.1h-1.1zM529.8 405.83h1v1h-1zM529.8 404.8h1v1h-1zM529.8 403.99h1v1h-1zM529.8 402.62h1v1h-1zM523.75 427.37h1.1v1.1h-1.1zM523.75 426.47h1.1v1.1h-1.1zM523.75 425.64h1.1v1.1h-1.1zM523.75 424.25h1.1v1.1h-1.1zM523.75 423.2h1.1v1.1h-1.1zM523.75 422.15h1.1v1.1h-1.1zM523.75 421.1h1.1v1.1h-1.1zM523.75 419.96h1.1v1.1h-1.1zM523.75 418.7h1.1v1.1h-1.1zM523.75 417.7h1.1v1.1h-1.1zM523.75 416.6h1.1v1.1h-1.1zM523.75 415.66h1.1v1.1h-1.1zM523.75 414.79h1.1v1.1h-1.1zM523.75 413.51h1.1v1.1h-1.1zM622.85 427.37h1.1v1.1h-1.1zM622.85 426.56h1.1v1.1h-1.1zM622.85 425.29h1.1v1.1h-1.1zM622.85 424.28h1.1v1.1h-1.1zM622.85 423.46h1.1v1.1h-1.1zM622.85 422.67h1.1v1.1h-1.1zM622.85 421.77h1.1v1.1h-1.1zM622.85 420.77h1.1v1.1h-1.1zM622.85 419.37h1.1v1.1h-1.1zM622.85 418.16h1.1v1.1h-1.1zM622.85 416.94h1.1v1.1h-1.1zM622.85 416.2h1.1v1.1h-1.1zM622.85 415.33h1.1v1.1h-1.1zM622.85 414.18h1.1v1.1h-1.1zM622.85 413.24h1.1v1.1h-1.1zM622.85 412.02h1.1v1.1h-1.1zM622.85 411.29h1.1v1.1h-1.1zM622.85 409.97h1.1v1.1h-1.1zM622.85 408.86h1.1v1.1h-1.1zM622.9 407.7h1v1h-1zM622.9 406.77h1v1h-1zM622.9 405.84h1v1h-1zM622.9 404.65h1v1h-1zM622.9 403.93h1v1h-1zM622.9 403.11h1v1h-1zM622.9 401.95h1v1h-1zM622.9 400.97h1v1h-1zM622.9 394.85h1v1h-1zM622.9 393.03h1v1h-1zM622.9 391.66h1v1h-1zM599.25 427.37h1.1v1.1h-1.1zM599.25 426.44h1.1v1.1h-1.1zM599.25 425.63h1.1v1.1h-1.1zM599.25 424.72h1.1v1.1h-1.1zM599.25 423.54h1.1v1.1h-1.1zM599.25 422.54h1.1v1.1h-1.1zM599.25 421.33h1.1v1.1h-1.1zM599.25 420.24h1.1v1.1h-1.1zM599.25 419.31h1.1v1.1h-1.1zM599.25 418.33h1.1v1.1h-1.1zM599.25 417.17h1.1v1.1h-1.1zM599.25 416.45h1.1v1.1h-1.1zM599.25 415.39h1.1v1.1h-1.1zM599.25 414.25h1.1v1.1h-1.1zM599.25 413.19h1.1v1.1h-1.1zM599.25 412.36h1.1v1.1h-1.1zM599.25 411.24h1.1v1.1h-1.1zM599.25 410.02h1.1v1.1h-1.1zM599.25 408.61h1.1v1.1h-1.1zM599.3 401.58h1v1h-1zM599.3 400.54h1v1h-1zM599.3 399.68h1v1h-1zM599.3 398.74h1v1h-1zM599.3 397.83h1v1h-1zM599.3 396.84h1v1h-1zM346.25 408.96h1.1v1.1h-1.1z"/>
<path fill="#ee7b4e" d="M71.7 413.68h1.44v1.44h-1.44zM72.39 416.55h1.44v1.44h-1.44zM57.78 416.18h1.44v1.44h-1.44zM89.41 418.96h1.44v1.44h-1.44zM52.89 415.64h1.44v1.44h-1.44zM50.36 404.5h1.44v1.44h-1.44zM82.18 420.2h1.44v1.44h-1.44zM48.96 421.03h1.44v1.44h-1.44zM58.07 421.28h1.44v1.44h-1.44zM72.3 414.38h1.44v1.44h-1.44zM81.48 415.91h1.44v1.44h-1.44zM71.96 413.06h1.44v1.44h-1.44zM99.96 415.52h1.44v1.44h-1.44zM64.57 419.08h1.44v1.44h-1.44zM51.83 418.13h1.44v1.44h-1.44zM92.2 413.4h1.44v1.44h-1.44zM92.24 419.75h1.44v1.44h-1.44zM95.51 413.21h1.44v1.44h-1.44zM68.85 416.19h1.44v1.44h-1.44zM88.66 420.8h1.44v1.44h-1.44zM65.47 406.33h1.44v1.44h-1.44zM54.32 420.68h1.44v1.44h-1.44zM103.22 420.03h1.44v1.44h-1.44zM128.54 419.92h1.44v1.44h-1.44zM137.29 416.07h1.44v1.44h-1.44zM106.09 419.73h1.44v1.44h-1.44zM113.86 405.93h1.44v1.44h-1.44zM115.6 411.18h1.44v1.44h-1.44zM120.17 407.36h1.44v1.44h-1.44zM105.27 411.15h1.44v1.44h-1.44zM113.27 418.74h1.44v1.44h-1.44zM115.2 420.77h1.44v1.44h-1.44zM129.72 416.43h1.44v1.44h-1.44zM119.03 413.39h1.44v1.44h-1.44zM124.7 414.17h1.44v1.44h-1.44zM109.45 413.82h1.44v1.44h-1.44zM141.64 419.92h1.44v1.44h-1.44zM137.67 411.3h1.44v1.44h-1.44zM148.35 407.7h1.44v1.44h-1.44zM121.55 421.21h1.44v1.44h-1.44zM148.99 415.55h1.44v1.44h-1.44zM113.21 416.47h1.44v1.44h-1.44zM115.06 415.42h1.44v1.44h-1.44zM103.67 416.78h1.44v1.44h-1.44zM186.77 419.16h1.44v1.44h-1.44zM189.5 421.4h1.44v1.44h-1.44zM162.21 421.02h1.44v1.44h-1.44zM158.3 416.67h1.44v1.44h-1.44zM156.42 413.97h1.44v1.44h-1.44zM192.16 415.66h1.44v1.44h-1.44zM175.48 421.24h1.44v1.44h-1.44zM151.63 406.84h1.44v1.44h-1.44zM191.41 416.13h1.44v1.44h-1.44zM171.18 418.83h1.44v1.44h-1.44zM192.95 416.9h1.44v1.44h-1.44zM181.91 406.52h1.44v1.44h-1.44zM180.51 413.76h1.44v1.44h-1.44zM165.69 413.88h1.44v1.44h-1.44zM187.55 414.82h1.44v1.44h-1.44zM187.23 416.23h1.44v1.44h-1.44zM166.98 416.36h1.44v1.44h-1.44zM154.26 413.1h1.44v1.44h-1.44zM228.08 418.24h1.44v1.44h-1.44zM222.31 417.79h1.44v1.44h-1.44zM226.43 415.16h1.44v1.44h-1.44zM194.17 417.45h1.44v1.44h-1.44zM202.17 417.31h1.44v1.44h-1.44zM217.5 410.78h1.44v1.44h-1.44zM193.43 415.77h1.44v1.44h-1.44zM201.06 413.84h1.44v1.44h-1.44zM219.31 413.96h1.44v1.44h-1.44zM206.03 419.85h1.44v1.44h-1.44zM210.17 413.77h1.44v1.44h-1.44zM228.1 416.58h1.44v1.44h-1.44zM205.61 417.32h1.44v1.44h-1.44zM226.38 415.49h1.44v1.44h-1.44zM230.89 420.1h1.44v1.44h-1.44zM210.96 419.72h1.44v1.44h-1.44zM209.5 417.34h1.44v1.44h-1.44zM244.8 413.19h1.44v1.44h-1.44zM249.98 421.27h1.44v1.44h-1.44zM265.87 415.52h1.44v1.44h-1.44zM254.45 414.81h1.44v1.44h-1.44zM233.6 417.67h1.44v1.44h-1.44zM233.81 419.52h1.44v1.44h-1.44zM238.21 416.19h1.44v1.44h-1.44zM249.76 415.97h1.44v1.44h-1.44zM263.4 406.98h1.44v1.44h-1.44zM240.42 420.02h1.44v1.44h-1.44zM233.29 415.47h1.44v1.44h-1.44zM239.65 418.6h1.44v1.44h-1.44zM259.24 416.32h1.44v1.44h-1.44zM261.46 414.81h1.44v1.44h-1.44zM267.14 413.61h1.44v1.44h-1.44zM260.19 417.68h1.44v1.44h-1.44zM256.53 409.71h1.44v1.44h-1.44zM291.04 405.99h1.44v1.44h-1.44zM304.48 416h1.44v1.44h-1.44zM278.02 414.58h1.44v1.44h-1.44zM293.65 419.72h1.44v1.44h-1.44zM302.9 404.39h1.44v1.44h-1.44zM289.9 418.81h1.44v1.44h-1.44zM303.26 409.96h1.44v1.44h-1.44zM273.64 416.86h1.44v1.44h-1.44zM298.18 421.29h1.44v1.44h-1.44zM299.65 414.74h1.44v1.44h-1.44zM276.87 414.84h1.44v1.44h-1.44zM275.71 417.15h1.44v1.44h-1.44zM296.58 415.68h1.44v1.44h-1.44zM304.54 413.47h1.44v1.44h-1.44zM273.76 417.06h1.44v1.44h-1.44zM281.07 416.11h1.44v1.44h-1.44zM324.05 416.78h1.44v1.44h-1.44zM316.95 414.35h1.44v1.44h-1.44zM336.74 414.31h1.44v1.44h-1.44zM339.02 416.67h1.44v1.44h-1.44zM313.23 417.26h1.44v1.44h-1.44zM326.82 413.3h1.44v1.44h-1.44zM323.82 414.73h1.44v1.44h-1.44zM325.39 415.67h1.44v1.44h-1.44zM308.69 418.02h1.44v1.44h-1.44zM338.63 410.66h1.44v1.44h-1.44zM322.38 417.85h1.44v1.44h-1.44zM333.89 408.82h1.44v1.44h-1.44zM317.14 416.29h1.44v1.44h-1.44zM337.57 414.92h1.44v1.44h-1.44zM307.25 419.61h1.44v1.44h-1.44zM361.03 418.52h1.44v1.44h-1.44zM358.98 415.33h1.44v1.44h-1.44zM343.82 419.41h1.44v1.44h-1.44zM346.11 417.83h1.44v1.44h-1.44zM351.54 417.04h1.44v1.44h-1.44zM344.95 416.17h1.44v1.44h-1.44zM359.55 414.3h1.44v1.44h-1.44zM358.74 410.98h1.44v1.44h-1.44zM362.67 413.87h1.44v1.44h-1.44zM349.71 413.7h1.44v1.44h-1.44zM346.73 405.19h1.44v1.44h-1.44zM344.16 415.36h1.44v1.44h-1.44zM347.99 414.47h1.44v1.44h-1.44zM394.2 418.11h1.44v1.44h-1.44zM391.07 419.83h1.44v1.44h-1.44zM390.98 404.47h1.44v1.44h-1.44zM374.03 415.09h1.44v1.44h-1.44zM385.61 419.93h1.44v1.44h-1.44zM372.69 421.22h1.44v1.44h-1.44zM387.07 416.7h1.44v1.44h-1.44zM374.96 419.8h1.44v1.44h-1.44zM395.7 404.84h1.44v1.44h-1.44zM373.43 413.45h1.44v1.44h-1.44zM393.45 417.57h1.44v1.44h-1.44zM414.96 416.43h1.44v1.44h-1.44zM400.85 414.36h1.44v1.44h-1.44zM405.57 415.25h1.44v1.44h-1.44zM411.87 420.13h1.44v1.44h-1.44zM414.88 413.95h1.44v1.44h-1.44zM423.01 414.22h1.44v1.44h-1.44zM418.17 416.44h1.44v1.44h-1.44zM414.65 405.92h1.44v1.44h-1.44zM407.74 406.45h1.44v1.44h-1.44zM422.34 418.09h1.44v1.44h-1.44zM425.67 406.89h1.44v1.44h-1.44zM422.04 418.09h1.44v1.44h-1.44zM449.39 418.63h1.44v1.44h-1.44zM442.08 418.51h1.44v1.44h-1.44zM446.97 419.56h1.44v1.44h-1.44zM455.79 418.67h1.44v1.44h-1.44zM447.58 417.01h1.44v1.44h-1.44zM439.8 407.36h1.44v1.44h-1.44zM448.78 413.21h1.44v1.44h-1.44zM429.24 415.26h1.44v1.44h-1.44zM435.97 421.11h1.44v1.44h-1.44zM434.21 420.7h1.44v1.44h-1.44zM435.81 408.17h1.44v1.44h-1.44zM443.21 408.01h1.44v1.44h-1.44zM485.94 414.66h1.44v1.44h-1.44zM459.57 415.09h1.44v1.44h-1.44zM458.67 411.62h1.44v1.44h-1.44zM470.92 417.33h1.44v1.44h-1.44zM474.92 413.5h1.44v1.44h-1.44zM469.45 416.46h1.44v1.44h-1.44zM467.87 415.97h1.44v1.44h-1.44zM473.47 415.45h1.44v1.44h-1.44zM465.88 419.45h1.44v1.44h-1.44zM458.61 415.12h1.44v1.44h-1.44zM468.57 406.42h1.44v1.44h-1.44zM458.82 404.68h1.44v1.44h-1.44zM490.99 409.24h1.44v1.44h-1.44zM499.32 410.88h1.44v1.44h-1.44zM500.26 406.64h1.44v1.44h-1.44zM499.13 405.81h1.44v1.44h-1.44zM501.91 416.23h1.44v1.44h-1.44zM498.87 421.09h1.44v1.44h-1.44zM500.36 417.77h1.44v1.44h-1.44zM503.24 419.31h1.44v1.44h-1.44zM501.47 414.93h1.44v1.44h-1.44zM523.56 404.61h1.44v1.44h-1.44zM527.43 420.57h1.44v1.44h-1.44zM530.44 416.23h1.44v1.44h-1.44zM520.3 415.72h1.44v1.44h-1.44zM524.21 416.16h1.44v1.44h-1.44zM527.79 419.42h1.44v1.44h-1.44zM532.09 405.26h1.44v1.44h-1.44zM514.23 419.23h1.44v1.44h-1.44zM543.39 420.67h1.44v1.44h-1.44zM545.4 420.8h1.44v1.44h-1.44zM547.71 416.17h1.44v1.44h-1.44zM542.5 419.75h1.44v1.44h-1.44zM541.99 414.41h1.44v1.44h-1.44zM537.36 414.66h1.44v1.44h-1.44zM546.81 419.72h1.44v1.44h-1.44zM561.3 414.66h1.44v1.44h-1.44zM560.25 413.13h1.44v1.44h-1.44zM559.43 415.2h1.44v1.44h-1.44zM570.68 418.4h1.44v1.44h-1.44zM555.11 412.35h1.44v1.44h-1.44zM554.85 417.42h1.44v1.44h-1.44zM566.23 414.95h1.44v1.44h-1.44zM554.72 415.91h1.44v1.44h-1.44zM573.61 415.38h1.44v1.44h-1.44zM584.32 420.32h1.44v1.44h-1.44zM578.44 418.42h1.44v1.44h-1.44zM574.23 416.7h1.44v1.44h-1.44zM588.25 404.96h1.44v1.44h-1.44zM579.84 418.95h1.44v1.44h-1.44zM577.74 413.6h1.44v1.44h-1.44zM603.64 418.46h1.44v1.44h-1.44zM595.38 418.17h1.44v1.44h-1.44zM595.73 416.75h1.44v1.44h-1.44zM602.11 414.43h1.44v1.44h-1.44zM598.46 415.09h1.44v1.44h-1.44zM603.42 421.35h1.44v1.44h-1.44zM597.72 416.71h1.44v1.44h-1.44zM617.84 414.7h1.44v1.44h-1.44zM606.11 414.84h1.44v1.44h-1.44zM606.37 415.27h1.44v1.44h-1.44zM616.97 416.15h1.44v1.44h-1.44zM607.15 416.02h1.44v1.44h-1.44zM621.72 415.03h1.44v1.44h-1.44zM625.58 418.19h1.44v1.44h-1.44zM623.01 407.09h1.44v1.44h-1.44zM625.19 415.41h1.44v1.44h-1.44zM628.19 409.41h1.44v1.44h-1.44zM629.85 414.28h1.44v1.44h-1.44zM640.61 413.99h1.44v1.44h-1.44zM641.84 417.09h1.44v1.44h-1.44zM639.83 417.95h1.44v1.44h-1.44zM648.5 415.24h1.44v1.44h-1.44zM653.01 420.11h1.44v1.44h-1.44zM646.79 419.05h1.44v1.44h-1.44zM48.98 289.49h1.44v1.44h-1.44zM72.68 330.2h1.44v1.44h-1.44zM80.88 359.59h1.44v1.44h-1.44zM149.68 322.77h1.44v1.44h-1.44zM183.78 398.17h1.44v1.44h-1.44zM248.58 381.89h1.44v1.44h-1.44zM273.98 344.72h1.44v1.44h-1.44zM279.38 391.45h1.44v1.44h-1.44zM291.38 316.4h1.44v1.44h-1.44zM296.78 372.68h1.44v1.44h-1.44zM315.58 361.71h1.44v1.44h-1.44zM286.08 405.96h1.44v1.44h-1.44zM275.48 404.19h1.44v1.44h-1.44zM386.28 394.63h1.44v1.44h-1.44zM395.88 378.7h1.44v1.44h-1.44zM420.38 374.45h1.44v1.44h-1.44zM430.88 379.06h1.44v1.44h-1.44zM426.88 404.19h1.44v1.44h-1.44zM458.38 376.58h1.44v1.44h-1.44zM469.48 254.45h1.44v1.44h-1.44zM529.58 401.71h1.44v1.44h-1.44zM622.68 390.03h1.44v1.44h-1.44zM614.98 399.59h1.44v1.44h-1.44zM599.08 396.4h1.44v1.44h-1.44zM584.98 397.46h1.44v1.44h-1.44zM583.08 401.36h1.44v1.44h-1.44z"/>
<line x1="30.5" y1="409.4" x2="671.5" y2="409.4" stroke="#ee7b4e" stroke-width="1.05" stroke-dasharray="2 1.45"/>
<line x1="30.5" y1="258" x2="30.5" y2="435" stroke="#cfcfcf" stroke-width="0.8"/>
<line x1="29" y1="435" x2="30.5" y2="435" stroke="#999" stroke-width="0.6"/>
<text x="27.8" y="436.9" class="tk" text-anchor="end">0</text>
<line x1="29" y1="399.6" x2="30.5" y2="399.6" stroke="#999" stroke-width="0.6"/>
<text x="27.8" y="401.5" class="tk" text-anchor="end">10</text>
<line x1="29" y1="364.2" x2="30.5" y2="364.2" stroke="#999" stroke-width="0.6"/>
<text x="27.8" y="366.1" class="tk" text-anchor="end">20</text>
<line x1="29" y1="328.8" x2="30.5" y2="328.8" stroke="#999" stroke-width="0.6"/>
<text x="27.8" y="330.7" class="tk" text-anchor="end">30</text>
<line x1="29" y1="293.4" x2="30.5" y2="293.4" stroke="#999" stroke-width="0.6"/>
<text x="27.8" y="295.3" class="tk" text-anchor="end">40</text>
<line x1="29" y1="258" x2="30.5" y2="258" stroke="#999" stroke-width="0.6"/>
<text x="27.8" y="259.9" class="tk" text-anchor="end">50</text>
<line x1="75.2" y1="435" x2="75.2" y2="436.2" stroke="#999" stroke-width="0.5"/>
<text x="75.2" y="441" class="tk" text-anchor="middle">1</text>
<line x1="127" y1="435" x2="127" y2="436.2" stroke="#999" stroke-width="0.5"/>
<text x="127" y="441" class="tk" text-anchor="middle">2</text>
<line x1="173.2" y1="435" x2="173.2" y2="436.2" stroke="#999" stroke-width="0.5"/>
<text x="173.2" y="441" class="tk" text-anchor="middle">3</text>
<line x1="213.6" y1="435" x2="213.6" y2="436.2" stroke="#999" stroke-width="0.5"/>
<text x="213.6" y="441" class="tk" text-anchor="middle">4</text>
<line x1="253" y1="435" x2="253" y2="436.2" stroke="#999" stroke-width="0.5"/>
<text x="253" y="441" class="tk" text-anchor="middle">5</text>
<line x1="289.8" y1="435" x2="289.8" y2="436.2" stroke="#999" stroke-width="0.5"/>
<text x="289.8" y="441" class="tk" text-anchor="middle">6</text>
<line x1="324" y1="435" x2="324" y2="436.2" stroke="#999" stroke-width="0.5"/>
<text x="324" y="441" class="tk" text-anchor="middle">7</text>
<line x1="356.2" y1="435" x2="356.2" y2="436.2" stroke="#999" stroke-width="0.5"/>
<text x="356.2" y="441" class="tk" text-anchor="middle">8</text>
<line x1="386.2" y1="435" x2="386.2" y2="436.2" stroke="#999" stroke-width="0.5"/>
<text x="386.2" y="441" class="tk" text-anchor="middle">9</text>
<line x1="415.7" y1="435" x2="415.7" y2="436.2" stroke="#999" stroke-width="0.5"/>
<text x="415.7" y="441" class="tk" text-anchor="middle">10</text>
<line x1="444.3" y1="435" x2="444.3" y2="436.2" stroke="#999" stroke-width="0.5"/>
<text x="444.3" y="441" class="tk" text-anchor="middle">11</text>
<line x1="472.2" y1="435" x2="472.2" y2="436.2" stroke="#999" stroke-width="0.5"/>
<text x="472.2" y="441" class="tk" text-anchor="middle">12</text>
<line x1="500.3" y1="435" x2="500.3" y2="436.2" stroke="#999" stroke-width="0.5"/>
<text x="500.3" y="441" class="tk" text-anchor="middle">13</text>
<line x1="523.8" y1="435" x2="523.8" y2="436.2" stroke="#999" stroke-width="0.5"/>
<text x="523.8" y="441" class="tk" text-anchor="middle">14</text>
<line x1="545.9" y1="435" x2="545.9" y2="436.2" stroke="#999" stroke-width="0.5"/>
<text x="545.9" y="441" class="tk" text-anchor="middle">15</text>
<line x1="563.7" y1="435" x2="563.7" y2="436.2" stroke="#999" stroke-width="0.5"/>
<text x="563.7" y="441" class="tk" text-anchor="middle">16</text>
<line x1="581.8" y1="435" x2="581.8" y2="436.2" stroke="#999" stroke-width="0.5"/>
<text x="581.8" y="441" class="tk" text-anchor="middle">17</text>
<line x1="598.6" y1="435" x2="598.6" y2="436.2" stroke="#999" stroke-width="0.5"/>
<text x="598.6" y="441" class="tk" text-anchor="middle">18</text>
<line x1="612.9" y1="435" x2="612.9" y2="436.2" stroke="#999" stroke-width="0.5"/>
<text x="612.9" y="441" class="tk" text-anchor="middle">19</text>
<line x1="625.6" y1="435" x2="625.6" y2="436.2" stroke="#999" stroke-width="0.5"/>
<text x="625.6" y="441" class="tk" text-anchor="middle">20</text>
<line x1="638.5" y1="435" x2="638.5" y2="436.2" stroke="#999" stroke-width="0.5"/>
<text x="638.5" y="441" class="tk" text-anchor="middle">21</text>
<line x1="649.8" y1="435" x2="649.8" y2="436.2" stroke="#999" stroke-width="0.5"/>
<text x="649.8" y="441" class="tk" text-anchor="middle">22</text>
<path fill="#2f72b0" d="M90.2 417.3l2.5 2.5l-2.5 2.5l-2.5 -2.5z"/>
<path fill="#2f72b0" d="M136.2 418.3l2.5 2.5l-2.5 2.5l-2.5 -2.5z"/>
<path fill="#2f72b0" d="M160.7 413.4l2.5 2.5l-2.5 2.5l-2.5 -2.5z"/>
<path fill="#2f72b0" d="M163.2 414.9l2.5 2.5l-2.5 2.5l-2.5 -2.5z"/>
<path fill="#2f72b0" d="M164.1 418.2l2.5 2.5l-2.5 2.5l-2.5 -2.5z"/>
<path fill="#43a447" d="M169.1 413l2.5 2.5l-2.5 2.5l-2.5 -2.5z"/>
<path fill="#7d3c98" d="M172.7 417.8l2.5 2.5l-2.5 2.5l-2.5 -2.5z"/>
<path fill="#43a447" d="M188.6 406.8l2.5 2.5l-2.5 2.5l-2.5 -2.5z"/>
<path fill="#7d3c98" d="M191.2 418.2l2.5 2.5l-2.5 2.5l-2.5 -2.5z"/>
<path fill="#2f72b0" d="M215.7 411.8l2.5 2.5l-2.5 2.5l-2.5 -2.5z"/>
<path fill="#43a447" d="M269.5 417l2.5 2.5l-2.5 2.5l-2.5 -2.5z"/>
<path fill="#2f72b0" d="M322.3 417.8l2.5 2.5l-2.5 2.5l-2.5 -2.5z"/>
<path fill="#43a447" d="M341.6 414.8l2.5 2.5l-2.5 2.5l-2.5 -2.5z"/>
<path fill="#43a447" d="M377.6 417.8l2.5 2.5l-2.5 2.5l-2.5 -2.5z"/>
<path fill="#2f72b0" d="M387.2 417.2l2.5 2.5l-2.5 2.5l-2.5 -2.5z"/>
<path fill="#7d3c98" d="M393.3 417.2l2.5 2.5l-2.5 2.5l-2.5 -2.5z"/>
<path fill="#7d3c98" d="M437.1 416.8l2.5 2.5l-2.5 2.5l-2.5 -2.5z"/>
<path fill="#2f72b0" d="M462.6 417.4l2.5 2.5l-2.5 2.5l-2.5 -2.5z"/>
<path fill="#2f72b0" d="M559.4 418.2l2.5 2.5l-2.5 2.5l-2.5 -2.5z"/>
<path fill="#2f72b0" d="M599.4 415.2l2.5 2.5l-2.5 2.5l-2.5 -2.5z"/>
<text class="gl" fill="#2f72b0" stroke="#2f72b0" transform="translate(83.7 407.4) rotate(-37)" textLength="23.63" lengthAdjust="spacingAndGlyphs">KCNT2</text>
<text class="gl" fill="#2f72b0" stroke="#2f72b0" transform="translate(131.5 406.2) rotate(-37)" textLength="24.48" lengthAdjust="spacingAndGlyphs">SCN9A</text>
<text class="gl" fill="#2f72b0" stroke="#2f72b0" transform="translate(152.8 373.2) rotate(-37)" textLength="26.88" lengthAdjust="spacingAndGlyphs">SCN11A</text>
<text class="gl" fill="#2f72b0" stroke="#2f72b0" transform="translate(154.8 384.3) rotate(-37)" textLength="37.32" lengthAdjust="spacingAndGlyphs">CACNA2D3</text>
<text class="gl" fill="#2f72b0" stroke="#2f72b0" transform="translate(156.8 395.3) rotate(-37)" textLength="33.47" lengthAdjust="spacingAndGlyphs">CACNA1D</text>
<text class="gl" fill="#43a447" stroke="#43a447" transform="translate(165.9 402.1) rotate(-37)" textLength="24.37" lengthAdjust="spacingAndGlyphs">ROBO1</text>
<text class="gl" fill="#7d3c98" stroke="#7d3c98" transform="translate(170.9 408.2) rotate(-37)" textLength="29.6" lengthAdjust="spacingAndGlyphs">GABRR3</text>
<text class="gl" fill="#43a447" stroke="#43a447" transform="translate(189.6 406.8) rotate(-37)" textLength="24.05" lengthAdjust="spacingAndGlyphs">NLGN1</text>
<text class="gl" fill="#7d3c98" stroke="#7d3c98" transform="translate(194.4 418.8) rotate(-37)" textLength="23.8" lengthAdjust="spacingAndGlyphs">HTR3C</text>
<text class="gl" fill="#2f72b0" stroke="#2f72b0" transform="translate(216.5 407.8) rotate(-37)" textLength="24.5" lengthAdjust="spacingAndGlyphs">SLC9B1</text>
<text class="gl" fill="#43a447" stroke="#43a447" transform="translate(264.9 407.8) rotate(-37)" textLength="18.88" lengthAdjust="spacingAndGlyphs">SLIT3</text>
<text class="gl" fill="#2f72b0" stroke="#2f72b0" transform="translate(317.1 397.7) rotate(-37)" textLength="22.62" lengthAdjust="spacingAndGlyphs">CALN1</text>
<text class="gl" fill="#2f72b0" stroke="#2f72b0" transform="translate(319.1 408.2) rotate(-37)" textLength="21.38" lengthAdjust="spacingAndGlyphs">AUTS2</text>
<text class="gl" fill="#43a447" stroke="#43a447" transform="translate(336.8 407.8) rotate(-37)" textLength="25.24" lengthAdjust="spacingAndGlyphs">CSMD1</text>
<text class="gl" fill="#43a447" stroke="#43a447" transform="translate(370 407.8) rotate(-37)" textLength="26.4" lengthAdjust="spacingAndGlyphs">LINGO2</text>
<text class="gl" fill="#2f72b0" stroke="#2f72b0" transform="translate(383.6 407.8) rotate(-37)" textLength="25.28" lengthAdjust="spacingAndGlyphs">TRPM3</text>
<text class="gl" fill="#7d3c98" stroke="#7d3c98" transform="translate(396.1 407.8) rotate(-37)" textLength="29.15" lengthAdjust="spacingAndGlyphs">GABBR2</text>
<text class="gl" fill="#7d3c98" stroke="#7d3c98" transform="translate(430.8 407.8) rotate(-37)" textLength="25.8" lengthAdjust="spacingAndGlyphs">SLC1A2</text>
<text class="gl" fill="#2f72b0" stroke="#2f72b0" transform="translate(454.9 407.8) rotate(-37)" textLength="29.15" lengthAdjust="spacingAndGlyphs">SLCO1C1</text>
<text class="gl" fill="#2f72b0" stroke="#2f72b0" transform="translate(551 407.8) rotate(-37)" textLength="29.6" lengthAdjust="spacingAndGlyphs">SLC5A11</text>
<text class="gl" fill="#2f72b0" stroke="#2f72b0" transform="translate(588.9 407) rotate(-37)" textLength="29.45" lengthAdjust="spacingAndGlyphs">SLC14A2</text>
<text class="pl" x="0.2" y="7.8">a</text>
<text class="pl" x="0.2" y="235.9">b</text>
<text class="ax" style="font-size:7px;fill:#2a2a2a" transform="translate(19.2 123.5) rotate(-90)" textLength="28.3" lengthAdjust="spacingAndGlyphs">− log<tspan font-size="5.2" dy="1.4">10</tspan><tspan dy="-1.4">(</tspan><tspan font-style="italic">p</tspan>)</text>
<text class="ax" style="font-size:7px;fill:#2a2a2a" transform="translate(19.2 359) rotate(-90)" textLength="28.3" lengthAdjust="spacingAndGlyphs">− log<tspan font-size="5.2" dy="1.4">10</tspan><tspan dy="-1.4">(</tspan><tspan font-style="italic">p</tspan>)</text>
<text class="ax" x="331.9" y="212.6" textLength="38" lengthAdjust="spacingAndGlyphs">Chromosome</text>
<text class="ax" x="332.1" y="448.6" textLength="38" lengthAdjust="spacingAndGlyphs">Chromosome</text>
<circle cx="492.3" cy="27.3" r="3.5" fill="#ee7b4e"/>
<text class="lg" x="501" y="30.1" textLength="103.6" lengthAdjust="spacingAndGlyphs">loci predicted by InsightGWAS</text>
<circle cx="492" cy="226.6" r="3.5" fill="#ee7b4e"/>
<text class="lg" x="501.1" y="228.9" textLength="103.5" lengthAdjust="spacingAndGlyphs">loci predicted by InsightGWAS</text>
<path fill="#43a447" d="M492.5 242.2l3.9 3.9l-3.9 3.9l-3.9 -3.9z"/>
<text class="lg" x="501.9" y="243.8" textLength="117" lengthAdjust="spacingAndGlyphs">key loci predicted by InsightGWAS</text>
<text class="lg" x="501.9" y="251.8" textLength="182.6" lengthAdjust="spacingAndGlyphs">(Neurotransmitter Signaling and Synaptic Regulation)</text>
<path fill="#7d3c98" d="M492.5 260.1l3.9 3.9l-3.9 3.9l-3.9 -3.9z"/>
<text class="lg" x="501.9" y="264.6" textLength="117" lengthAdjust="spacingAndGlyphs">key loci predicted by InsightGWAS</text>
<text class="lg" x="501.9" y="272.6" textLength="163.2" lengthAdjust="spacingAndGlyphs">(Neurodevelopment and Synaptic Connectivity)</text>
<path fill="#2f72b0" d="M492.5 286.3l3.9 3.9l-3.9 3.9l-3.9 -3.9z"/>
<text class="lg" x="501.9" y="285.2" textLength="117" lengthAdjust="spacingAndGlyphs">key loci predicted by InsightGWAS</text>
<text class="lg" x="501.9" y="293.2" textLength="127.1" lengthAdjust="spacingAndGlyphs">(Ion Transport and Cellular Signaling)</text>
</svg>
</body></html>
